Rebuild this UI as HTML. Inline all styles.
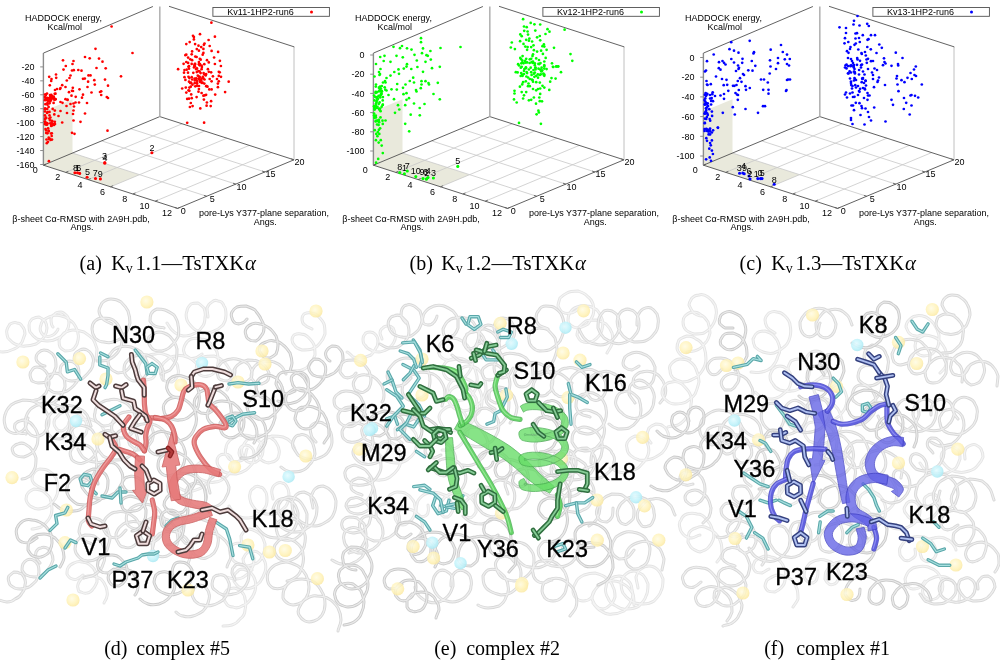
<!DOCTYPE html>
<html><head><meta charset="utf-8"><style>
html,body{margin:0;padding:0;background:#fff}
body{width:1000px;height:664px;position:relative;overflow:hidden}
</style></head><body>
<svg width="1000" height="664" viewBox="0 0 1000 664" style="position:absolute;left:0;top:0">
<g style="font-family:'Liberation Sans',Arial,sans-serif">
<polygon points="43.40,165.20 110.50,186.80 139.60,174.65 72.50,153.05" fill="#e9e9dc" />
<polygon points="43.40,165.20 72.50,153.05 72.50,99.20 43.40,111.35" fill="#e9e9dc" />
<line x1="65.77" y1="172.40" x2="182.17" y2="123.80" stroke="#c8c8c8" stroke-width="0.8" />
<line x1="88.13" y1="179.60" x2="204.53" y2="131.00" stroke="#c8c8c8" stroke-width="0.8" />
<line x1="110.50" y1="186.80" x2="226.90" y2="138.20" stroke="#c8c8c8" stroke-width="0.8" />
<line x1="132.87" y1="194.00" x2="249.27" y2="145.40" stroke="#c8c8c8" stroke-width="0.8" />
<line x1="155.23" y1="201.20" x2="271.63" y2="152.60" stroke="#c8c8c8" stroke-width="0.8" />
<line x1="72.50" y1="153.05" x2="206.70" y2="196.25" stroke="#c8c8c8" stroke-width="0.8" />
<line x1="101.60" y1="140.90" x2="235.80" y2="184.10" stroke="#c8c8c8" stroke-width="0.8" />
<line x1="130.70" y1="128.75" x2="264.90" y2="171.95" stroke="#c8c8c8" stroke-width="0.8" />
<line x1="43.40" y1="165.20" x2="177.60" y2="208.40" stroke="#505050" stroke-width="0.9" />
<line x1="177.60" y1="208.40" x2="294.00" y2="159.80" stroke="#505050" stroke-width="0.9" />
<line x1="294.00" y1="159.80" x2="159.80" y2="116.60" stroke="#505050" stroke-width="0.9" />
<line x1="159.80" y1="116.60" x2="43.40" y2="165.20" stroke="#505050" stroke-width="0.9" />
<line x1="43.40" y1="53.10" x2="43.40" y2="165.20" stroke="#8c8c8c" stroke-width="1.4" />
<line x1="159.80" y1="6.60" x2="159.80" y2="116.60" stroke="#b4b4b4" stroke-width="1.6" />
<line x1="294.00" y1="46.90" x2="294.00" y2="159.80" stroke="#c0c0c0" stroke-width="1.0" />
<line x1="43.40" y1="53.10" x2="152.90" y2="6.50" stroke="#505050" stroke-width="0.9" />
<line x1="169.00" y1="6.30" x2="294.30" y2="46.90" stroke="#505050" stroke-width="0.9" />
<line x1="40.20" y1="164.48" x2="43.40" y2="164.48" stroke="#8c8c8c" stroke-width="1" />
<text x="34.60" y="167.68" font-size="9" text-anchor="end" fill="#000" >-160</text>
<line x1="40.20" y1="150.54" x2="43.40" y2="150.54" stroke="#8c8c8c" stroke-width="1" />
<text x="34.60" y="153.74" font-size="9" text-anchor="end" fill="#000" >-140</text>
<line x1="40.20" y1="136.60" x2="43.40" y2="136.60" stroke="#8c8c8c" stroke-width="1" />
<text x="34.60" y="139.80" font-size="9" text-anchor="end" fill="#000" >-120</text>
<line x1="40.20" y1="122.66" x2="43.40" y2="122.66" stroke="#8c8c8c" stroke-width="1" />
<text x="34.60" y="125.86" font-size="9" text-anchor="end" fill="#000" >-100</text>
<line x1="40.20" y1="108.72" x2="43.40" y2="108.72" stroke="#8c8c8c" stroke-width="1" />
<text x="34.60" y="111.92" font-size="9" text-anchor="end" fill="#000" >-80</text>
<line x1="40.20" y1="94.78" x2="43.40" y2="94.78" stroke="#8c8c8c" stroke-width="1" />
<text x="34.60" y="97.98" font-size="9" text-anchor="end" fill="#000" >-60</text>
<line x1="40.20" y1="80.84" x2="43.40" y2="80.84" stroke="#8c8c8c" stroke-width="1" />
<text x="34.60" y="84.04" font-size="9" text-anchor="end" fill="#000" >-40</text>
<line x1="40.20" y1="66.90" x2="43.40" y2="66.90" stroke="#8c8c8c" stroke-width="1" />
<text x="34.60" y="70.10" font-size="9" text-anchor="end" fill="#000" >-20</text>
<text x="37.80" y="173.10" font-size="9" text-anchor="end" fill="#000" >0</text>
<line x1="43.40" y1="165.20" x2="46.02" y2="164.11" stroke="#505050" stroke-width="0.8" />
<text x="60.17" y="180.30" font-size="9" text-anchor="end" fill="#000" >2</text>
<line x1="65.77" y1="172.40" x2="68.39" y2="171.31" stroke="#505050" stroke-width="0.8" />
<text x="82.53" y="187.50" font-size="9" text-anchor="end" fill="#000" >4</text>
<line x1="88.13" y1="179.60" x2="90.75" y2="178.51" stroke="#505050" stroke-width="0.8" />
<text x="104.90" y="194.70" font-size="9" text-anchor="end" fill="#000" >6</text>
<line x1="110.50" y1="186.80" x2="113.12" y2="185.71" stroke="#505050" stroke-width="0.8" />
<text x="127.27" y="201.90" font-size="9" text-anchor="end" fill="#000" >8</text>
<line x1="132.87" y1="194.00" x2="135.49" y2="192.91" stroke="#505050" stroke-width="0.8" />
<text x="149.63" y="209.10" font-size="9" text-anchor="end" fill="#000" >10</text>
<line x1="155.23" y1="201.20" x2="157.85" y2="200.11" stroke="#505050" stroke-width="0.8" />
<text x="172.00" y="216.30" font-size="9" text-anchor="end" fill="#000" >12</text>
<line x1="177.60" y1="208.40" x2="180.22" y2="207.31" stroke="#505050" stroke-width="0.8" />
<text x="183.20" y="213.80" font-size="9" text-anchor="middle" fill="#000" >0</text>
<line x1="177.60" y1="208.40" x2="174.80" y2="207.50" stroke="#505050" stroke-width="0.8" />
<text x="212.30" y="201.65" font-size="9" text-anchor="middle" fill="#000" >5</text>
<line x1="206.70" y1="196.25" x2="203.90" y2="195.35" stroke="#505050" stroke-width="0.8" />
<text x="241.40" y="189.50" font-size="9" text-anchor="middle" fill="#000" >10</text>
<line x1="235.80" y1="184.10" x2="233.00" y2="183.20" stroke="#505050" stroke-width="0.8" />
<text x="270.50" y="177.35" font-size="9" text-anchor="middle" fill="#000" >15</text>
<line x1="264.90" y1="171.95" x2="262.10" y2="171.05" stroke="#505050" stroke-width="0.8" />
<text x="299.60" y="165.20" font-size="9" text-anchor="middle" fill="#000" >20</text>
<line x1="294.00" y1="159.80" x2="291.20" y2="158.90" stroke="#505050" stroke-width="0.8" />
<text x="63.50" y="20.60" font-size="9" text-anchor="middle" fill="#000" >HADDOCK energy,</text>
<text x="64.80" y="29.80" font-size="9" text-anchor="middle" fill="#000" >Kcal/mol</text>
<text x="81.00" y="221.60" font-size="9" text-anchor="middle" fill="#000" >β-sheet Cα-RMSD with 2A9H.pdb,</text>
<text x="82.00" y="229.90" font-size="9" text-anchor="middle" fill="#000" >Angs.</text>
<text x="264.00" y="216.30" font-size="9" text-anchor="middle" fill="#000" >pore-Lys Y377-plane separation,</text>
<text x="265.20" y="224.80" font-size="9" text-anchor="middle" fill="#000" >Angs.</text>
<rect x="212.9" y="7.5" width="116.5" height="8.8" fill="#fff" stroke="#505050" stroke-width="0.9"/>
<text x="260.50" y="14.80" font-size="9" text-anchor="middle" fill="#000" >Kv11-1HP2-run6</text>
<circle cx="311.5" cy="12" r="1.5" fill="#ff0000"/>
<circle cx="111.6" cy="26.5" r="1.35" fill="#ff0000"/>
<circle cx="95.5" cy="48.8" r="1.35" fill="#ff0000"/>
<circle cx="132.5" cy="53.0" r="1.35" fill="#ff0000"/>
<circle cx="85.0" cy="57.0" r="1.35" fill="#ff0000"/>
<circle cx="89.7" cy="58.3" r="1.35" fill="#ff0000"/>
<circle cx="99.0" cy="58.6" r="1.35" fill="#ff0000"/>
<circle cx="102.5" cy="61.7" r="1.35" fill="#ff0000"/>
<circle cx="63.0" cy="60.3" r="1.35" fill="#ff0000"/>
<circle cx="73.5" cy="61.0" r="1.35" fill="#ff0000"/>
<circle cx="72.5" cy="64.0" r="1.35" fill="#ff0000"/>
<circle cx="65.8" cy="66.0" r="1.35" fill="#ff0000"/>
<circle cx="63.5" cy="69.6" r="1.35" fill="#ff0000"/>
<circle cx="72.0" cy="70.5" r="1.35" fill="#ff0000"/>
<circle cx="73.8" cy="70.2" r="1.35" fill="#ff0000"/>
<circle cx="78.3" cy="70.0" r="1.35" fill="#ff0000"/>
<circle cx="81.5" cy="70.7" r="1.35" fill="#ff0000"/>
<circle cx="96.5" cy="68.0" r="1.35" fill="#ff0000"/>
<circle cx="105.7" cy="68.3" r="1.35" fill="#ff0000"/>
<circle cx="121.0" cy="76.3" r="1.35" fill="#ff0000"/>
<circle cx="56.0" cy="74.5" r="1.35" fill="#ff0000"/>
<circle cx="49.2" cy="76.8" r="1.35" fill="#ff0000"/>
<circle cx="56.2" cy="77.8" r="1.35" fill="#ff0000"/>
<circle cx="51.5" cy="79.0" r="1.35" fill="#ff0000"/>
<circle cx="51.2" cy="81.0" r="1.35" fill="#ff0000"/>
<circle cx="70.5" cy="75.5" r="1.35" fill="#ff0000"/>
<circle cx="69.5" cy="78.0" r="1.35" fill="#ff0000"/>
<circle cx="66.8" cy="80.5" r="1.35" fill="#ff0000"/>
<circle cx="83.0" cy="78.8" r="1.35" fill="#ff0000"/>
<circle cx="84.8" cy="78.6" r="1.35" fill="#ff0000"/>
<circle cx="88.5" cy="75.4" r="1.35" fill="#ff0000"/>
<circle cx="90.5" cy="75.4" r="1.35" fill="#ff0000"/>
<circle cx="88.1" cy="81.7" r="1.35" fill="#ff0000"/>
<circle cx="94.3" cy="80.2" r="1.35" fill="#ff0000"/>
<circle cx="105.0" cy="79.6" r="1.35" fill="#ff0000"/>
<circle cx="49.8" cy="85.3" r="1.35" fill="#ff0000"/>
<circle cx="62.2" cy="85.2" r="1.35" fill="#ff0000"/>
<circle cx="65.5" cy="87.0" r="1.35" fill="#ff0000"/>
<circle cx="60.5" cy="88.0" r="1.35" fill="#ff0000"/>
<circle cx="60.0" cy="89.0" r="1.35" fill="#ff0000"/>
<circle cx="55.0" cy="90.0" r="1.35" fill="#ff0000"/>
<circle cx="57.0" cy="89.0" r="1.35" fill="#ff0000"/>
<circle cx="55.5" cy="93.7" r="1.35" fill="#ff0000"/>
<circle cx="94.8" cy="84.6" r="1.35" fill="#ff0000"/>
<circle cx="108.0" cy="85.7" r="1.35" fill="#ff0000"/>
<circle cx="87.5" cy="87.0" r="1.35" fill="#ff0000"/>
<circle cx="72.8" cy="87.8" r="1.35" fill="#ff0000"/>
<circle cx="79.5" cy="89.3" r="1.35" fill="#ff0000"/>
<circle cx="72.0" cy="90.8" r="1.35" fill="#ff0000"/>
<circle cx="73.0" cy="91.0" r="1.35" fill="#ff0000"/>
<circle cx="69.0" cy="92.2" r="1.35" fill="#ff0000"/>
<circle cx="91.5" cy="92.5" r="1.35" fill="#ff0000"/>
<circle cx="100.0" cy="92.0" r="1.35" fill="#ff0000"/>
<circle cx="101.2" cy="91.3" r="1.35" fill="#ff0000"/>
<circle cx="101.2" cy="95.0" r="1.35" fill="#ff0000"/>
<circle cx="83.0" cy="94.7" r="1.35" fill="#ff0000"/>
<circle cx="82.0" cy="97.7" r="1.35" fill="#ff0000"/>
<circle cx="75.7" cy="96.8" r="1.35" fill="#ff0000"/>
<circle cx="71.5" cy="95.7" r="1.35" fill="#ff0000"/>
<circle cx="106.8" cy="97.0" r="1.35" fill="#ff0000"/>
<circle cx="108.0" cy="98.0" r="1.35" fill="#ff0000"/>
<circle cx="47.0" cy="93.5" r="1.35" fill="#ff0000"/>
<circle cx="50.0" cy="95.0" r="1.35" fill="#ff0000"/>
<circle cx="52.0" cy="96.0" r="1.35" fill="#ff0000"/>
<circle cx="51.0" cy="97.5" r="1.35" fill="#ff0000"/>
<circle cx="49.0" cy="98.0" r="1.35" fill="#ff0000"/>
<circle cx="45.0" cy="97.0" r="1.35" fill="#ff0000"/>
<circle cx="47.5" cy="99.0" r="1.35" fill="#ff0000"/>
<circle cx="53.0" cy="98.0" r="1.35" fill="#ff0000"/>
<circle cx="65.5" cy="99.2" r="1.35" fill="#ff0000"/>
<circle cx="67.5" cy="99.5" r="1.35" fill="#ff0000"/>
<circle cx="87.0" cy="103.0" r="1.35" fill="#ff0000"/>
<circle cx="79.0" cy="102.5" r="1.35" fill="#ff0000"/>
<circle cx="75.5" cy="102.5" r="1.35" fill="#ff0000"/>
<circle cx="73.5" cy="103.5" r="1.35" fill="#ff0000"/>
<circle cx="70.5" cy="104.0" r="1.35" fill="#ff0000"/>
<circle cx="67.5" cy="100.0" r="1.35" fill="#ff0000"/>
<circle cx="66.5" cy="106.0" r="1.35" fill="#ff0000"/>
<circle cx="60.5" cy="102.0" r="1.35" fill="#ff0000"/>
<circle cx="62.5" cy="102.8" r="1.35" fill="#ff0000"/>
<circle cx="74.0" cy="106.5" r="1.35" fill="#ff0000"/>
<circle cx="73.5" cy="110.5" r="1.35" fill="#ff0000"/>
<circle cx="73.0" cy="114.0" r="1.35" fill="#ff0000"/>
<circle cx="67.0" cy="113.0" r="1.35" fill="#ff0000"/>
<circle cx="60.5" cy="111.0" r="1.35" fill="#ff0000"/>
<circle cx="58.5" cy="116.0" r="1.35" fill="#ff0000"/>
<circle cx="85.0" cy="113.5" r="1.35" fill="#ff0000"/>
<circle cx="73.5" cy="120.5" r="1.35" fill="#ff0000"/>
<circle cx="80.5" cy="121.8" r="1.35" fill="#ff0000"/>
<circle cx="62.2" cy="122.5" r="1.35" fill="#ff0000"/>
<circle cx="72.0" cy="132.8" r="1.35" fill="#ff0000"/>
<circle cx="74.5" cy="133.8" r="1.35" fill="#ff0000"/>
<circle cx="107.5" cy="130.7" r="1.35" fill="#ff0000"/>
<circle cx="55.0" cy="124.0" r="1.35" fill="#ff0000"/>
<circle cx="54.0" cy="125.0" r="1.35" fill="#ff0000"/>
<circle cx="52.0" cy="125.5" r="1.35" fill="#ff0000"/>
<circle cx="51.0" cy="133.5" r="1.35" fill="#ff0000"/>
<circle cx="49.0" cy="139.0" r="1.35" fill="#ff0000"/>
<circle cx="46.8" cy="143.2" r="1.35" fill="#ff0000"/>
<circle cx="45.5" cy="129.0" r="1.35" fill="#ff0000"/>
<circle cx="45.0" cy="121.5" r="1.35" fill="#ff0000"/>
<circle cx="45.0" cy="111.5" r="1.35" fill="#ff0000"/>
<circle cx="48.9" cy="161.2" r="1.35" fill="#ff0000"/>
<circle cx="50.4" cy="117.5" r="1.35" fill="#ff0000"/>
<circle cx="52.4" cy="124.1" r="1.35" fill="#ff0000"/>
<circle cx="51.8" cy="123.4" r="1.35" fill="#ff0000"/>
<circle cx="45.1" cy="108.4" r="1.35" fill="#ff0000"/>
<circle cx="54.3" cy="114.4" r="1.35" fill="#ff0000"/>
<circle cx="53.7" cy="96.7" r="1.35" fill="#ff0000"/>
<circle cx="48.7" cy="101.1" r="1.35" fill="#ff0000"/>
<circle cx="49.5" cy="111.9" r="1.35" fill="#ff0000"/>
<circle cx="45.0" cy="100.2" r="1.35" fill="#ff0000"/>
<circle cx="46.9" cy="123.2" r="1.35" fill="#ff0000"/>
<circle cx="52.1" cy="98.3" r="1.35" fill="#ff0000"/>
<circle cx="52.4" cy="97.6" r="1.35" fill="#ff0000"/>
<circle cx="50.3" cy="97.2" r="1.35" fill="#ff0000"/>
<circle cx="45.0" cy="121.8" r="1.35" fill="#ff0000"/>
<circle cx="46.3" cy="100.1" r="1.35" fill="#ff0000"/>
<circle cx="54.8" cy="121.8" r="1.35" fill="#ff0000"/>
<circle cx="47.0" cy="124.7" r="1.35" fill="#ff0000"/>
<circle cx="49.5" cy="115.4" r="1.35" fill="#ff0000"/>
<circle cx="46.3" cy="124.1" r="1.35" fill="#ff0000"/>
<circle cx="51.2" cy="124.9" r="1.35" fill="#ff0000"/>
<circle cx="53.6" cy="102.9" r="1.35" fill="#ff0000"/>
<circle cx="47.7" cy="98.5" r="1.35" fill="#ff0000"/>
<circle cx="45.8" cy="95.1" r="1.35" fill="#ff0000"/>
<circle cx="47.1" cy="112.9" r="1.35" fill="#ff0000"/>
<circle cx="45.0" cy="115.4" r="1.35" fill="#ff0000"/>
<circle cx="47.4" cy="103.2" r="1.35" fill="#ff0000"/>
<circle cx="52.7" cy="108.9" r="1.35" fill="#ff0000"/>
<circle cx="47.2" cy="108.9" r="1.35" fill="#ff0000"/>
<circle cx="51.3" cy="94.9" r="1.35" fill="#ff0000"/>
<circle cx="54.7" cy="93.8" r="1.35" fill="#ff0000"/>
<circle cx="51.9" cy="120.9" r="1.35" fill="#ff0000"/>
<circle cx="45.1" cy="119.0" r="1.35" fill="#ff0000"/>
<circle cx="47.7" cy="112.1" r="1.35" fill="#ff0000"/>
<circle cx="45.0" cy="94.5" r="1.35" fill="#ff0000"/>
<circle cx="46.1" cy="124.5" r="1.35" fill="#ff0000"/>
<circle cx="46.2" cy="117.9" r="1.35" fill="#ff0000"/>
<circle cx="54.1" cy="124.1" r="1.35" fill="#ff0000"/>
<circle cx="47.5" cy="104.7" r="1.35" fill="#ff0000"/>
<circle cx="49.3" cy="118.6" r="1.35" fill="#ff0000"/>
<circle cx="45.6" cy="117.7" r="1.35" fill="#ff0000"/>
<circle cx="52.4" cy="121.4" r="1.35" fill="#ff0000"/>
<circle cx="45.1" cy="124.2" r="1.35" fill="#ff0000"/>
<circle cx="45.4" cy="104.2" r="1.35" fill="#ff0000"/>
<circle cx="50.3" cy="123.3" r="1.35" fill="#ff0000"/>
<circle cx="47.5" cy="123.5" r="1.35" fill="#ff0000"/>
<circle cx="49.5" cy="103.3" r="1.35" fill="#ff0000"/>
<circle cx="47.2" cy="98.9" r="1.35" fill="#ff0000"/>
<circle cx="45.4" cy="97.9" r="1.35" fill="#ff0000"/>
<circle cx="51.2" cy="125.9" r="1.35" fill="#ff0000"/>
<circle cx="45.9" cy="94.6" r="1.35" fill="#ff0000"/>
<circle cx="54.8" cy="110.6" r="1.35" fill="#ff0000"/>
<circle cx="48.1" cy="100.8" r="1.35" fill="#ff0000"/>
<circle cx="50.1" cy="120.3" r="1.35" fill="#ff0000"/>
<circle cx="48.6" cy="106.9" r="1.35" fill="#ff0000"/>
<circle cx="45.2" cy="123.2" r="1.35" fill="#ff0000"/>
<circle cx="45.1" cy="109.3" r="1.35" fill="#ff0000"/>
<circle cx="53.0" cy="97.3" r="1.35" fill="#ff0000"/>
<circle cx="51.7" cy="124.3" r="1.35" fill="#ff0000"/>
<circle cx="49.6" cy="138.6" r="1.35" fill="#ff0000"/>
<circle cx="46.2" cy="133.0" r="1.35" fill="#ff0000"/>
<circle cx="46.5" cy="139.5" r="1.35" fill="#ff0000"/>
<circle cx="47.4" cy="133.3" r="1.35" fill="#ff0000"/>
<circle cx="52.0" cy="139.6" r="1.35" fill="#ff0000"/>
<circle cx="51.8" cy="133.3" r="1.35" fill="#ff0000"/>
<circle cx="48.7" cy="137.7" r="1.35" fill="#ff0000"/>
<circle cx="48.6" cy="130.7" r="1.35" fill="#ff0000"/>
<circle cx="48.1" cy="128.3" r="1.35" fill="#ff0000"/>
<circle cx="48.0" cy="141.8" r="1.35" fill="#ff0000"/>
<circle cx="51.7" cy="136.0" r="1.35" fill="#ff0000"/>
<circle cx="48.7" cy="131.4" r="1.35" fill="#ff0000"/>
<circle cx="46.1" cy="130.4" r="1.35" fill="#ff0000"/>
<circle cx="50.6" cy="139.9" r="1.35" fill="#ff0000"/>
<circle cx="51.0" cy="100.1" r="1.35" fill="#ff0000"/>
<circle cx="55.5" cy="99.3" r="1.35" fill="#ff0000"/>
<circle cx="54.3" cy="99.8" r="1.35" fill="#ff0000"/>
<circle cx="51.0" cy="99.3" r="1.35" fill="#ff0000"/>
<circle cx="50.1" cy="97.4" r="1.35" fill="#ff0000"/>
<circle cx="55.5" cy="99.2" r="1.35" fill="#ff0000"/>
<circle cx="50.2" cy="101.5" r="1.35" fill="#ff0000"/>
<circle cx="54.1" cy="98.2" r="1.35" fill="#ff0000"/>
<circle cx="47.1" cy="97.9" r="1.35" fill="#ff0000"/>
<circle cx="49.8" cy="99.0" r="1.35" fill="#ff0000"/>
<circle cx="211.4" cy="22.7" r="1.35" fill="#ff0000"/>
<circle cx="200.0" cy="34.2" r="1.35" fill="#ff0000"/>
<circle cx="214.9" cy="36.7" r="1.35" fill="#ff0000"/>
<circle cx="193.0" cy="35.8" r="1.35" fill="#ff0000"/>
<circle cx="193.9" cy="37.1" r="1.35" fill="#ff0000"/>
<circle cx="193.9" cy="39.4" r="1.35" fill="#ff0000"/>
<circle cx="208.6" cy="40.0" r="1.35" fill="#ff0000"/>
<circle cx="189.7" cy="42.1" r="1.35" fill="#ff0000"/>
<circle cx="186.3" cy="44.1" r="1.35" fill="#ff0000"/>
<circle cx="195.1" cy="44.1" r="1.35" fill="#ff0000"/>
<circle cx="204.5" cy="43.5" r="1.35" fill="#ff0000"/>
<circle cx="203.9" cy="44.8" r="1.35" fill="#ff0000"/>
<circle cx="198.5" cy="45.7" r="1.35" fill="#ff0000"/>
<circle cx="201.2" cy="47.1" r="1.35" fill="#ff0000"/>
<circle cx="203.4" cy="48.9" r="1.35" fill="#ff0000"/>
<circle cx="196.8" cy="49.1" r="1.35" fill="#ff0000"/>
<circle cx="198.9" cy="50.7" r="1.35" fill="#ff0000"/>
<circle cx="209.7" cy="46.0" r="1.35" fill="#ff0000"/>
<circle cx="211.6" cy="50.9" r="1.35" fill="#ff0000"/>
<circle cx="218.1" cy="51.9" r="1.35" fill="#ff0000"/>
<circle cx="192.1" cy="51.4" r="1.35" fill="#ff0000"/>
<circle cx="203.4" cy="52.9" r="1.35" fill="#ff0000"/>
<circle cx="202.7" cy="54.7" r="1.35" fill="#ff0000"/>
<circle cx="191.7" cy="54.3" r="1.35" fill="#ff0000"/>
<circle cx="186.3" cy="54.7" r="1.35" fill="#ff0000"/>
<circle cx="185.4" cy="55.2" r="1.35" fill="#ff0000"/>
<circle cx="195.3" cy="56.6" r="1.35" fill="#ff0000"/>
<circle cx="196.6" cy="57.0" r="1.35" fill="#ff0000"/>
<circle cx="188.1" cy="57.6" r="1.35" fill="#ff0000"/>
<circle cx="190.3" cy="59.3" r="1.35" fill="#ff0000"/>
<circle cx="192.1" cy="60.2" r="1.35" fill="#ff0000"/>
<circle cx="199.8" cy="58.8" r="1.35" fill="#ff0000"/>
<circle cx="200.7" cy="59.7" r="1.35" fill="#ff0000"/>
<circle cx="198.9" cy="62.0" r="1.35" fill="#ff0000"/>
<circle cx="207.0" cy="60.2" r="1.35" fill="#ff0000"/>
<circle cx="208.8" cy="62.4" r="1.35" fill="#ff0000"/>
<circle cx="214.1" cy="57.5" r="1.35" fill="#ff0000"/>
<circle cx="219.9" cy="60.8" r="1.35" fill="#ff0000"/>
<circle cx="214.9" cy="64.0" r="1.35" fill="#ff0000"/>
<circle cx="220.9" cy="66.0" r="1.35" fill="#ff0000"/>
<circle cx="183.6" cy="63.8" r="1.35" fill="#ff0000"/>
<circle cx="186.3" cy="62.0" r="1.35" fill="#ff0000"/>
<circle cx="188.1" cy="62.9" r="1.35" fill="#ff0000"/>
<circle cx="194.8" cy="64.2" r="1.35" fill="#ff0000"/>
<circle cx="194.4" cy="65.6" r="1.35" fill="#ff0000"/>
<circle cx="198.9" cy="64.2" r="1.35" fill="#ff0000"/>
<circle cx="201.6" cy="65.6" r="1.35" fill="#ff0000"/>
<circle cx="204.3" cy="64.2" r="1.35" fill="#ff0000"/>
<circle cx="178.1" cy="69.2" r="1.35" fill="#ff0000"/>
<circle cx="184.5" cy="70.1" r="1.35" fill="#ff0000"/>
<circle cx="186.7" cy="69.7" r="1.35" fill="#ff0000"/>
<circle cx="189.0" cy="68.7" r="1.35" fill="#ff0000"/>
<circle cx="196.2" cy="69.2" r="1.35" fill="#ff0000"/>
<circle cx="201.6" cy="69.2" r="1.35" fill="#ff0000"/>
<circle cx="207.9" cy="69.2" r="1.35" fill="#ff0000"/>
<circle cx="184.0" cy="72.7" r="1.35" fill="#ff0000"/>
<circle cx="184.5" cy="77.2" r="1.35" fill="#ff0000"/>
<circle cx="185.4" cy="79.9" r="1.35" fill="#ff0000"/>
<circle cx="188.5" cy="76.8" r="1.35" fill="#ff0000"/>
<circle cx="189.4" cy="78.1" r="1.35" fill="#ff0000"/>
<circle cx="191.7" cy="77.2" r="1.35" fill="#ff0000"/>
<circle cx="189.0" cy="81.7" r="1.35" fill="#ff0000"/>
<circle cx="190.8" cy="82.6" r="1.35" fill="#ff0000"/>
<circle cx="196.2" cy="78.6" r="1.35" fill="#ff0000"/>
<circle cx="197.1" cy="80.8" r="1.35" fill="#ff0000"/>
<circle cx="198.9" cy="79.0" r="1.35" fill="#ff0000"/>
<circle cx="200.7" cy="79.9" r="1.35" fill="#ff0000"/>
<circle cx="201.6" cy="78.6" r="1.35" fill="#ff0000"/>
<circle cx="194.8" cy="80.4" r="1.35" fill="#ff0000"/>
<circle cx="197.1" cy="83.6" r="1.35" fill="#ff0000"/>
<circle cx="202.5" cy="82.6" r="1.35" fill="#ff0000"/>
<circle cx="204.3" cy="83.6" r="1.35" fill="#ff0000"/>
<circle cx="197.1" cy="85.8" r="1.35" fill="#ff0000"/>
<circle cx="195.3" cy="86.3" r="1.35" fill="#ff0000"/>
<circle cx="190.8" cy="86.7" r="1.35" fill="#ff0000"/>
<circle cx="189.4" cy="87.6" r="1.35" fill="#ff0000"/>
<circle cx="188.5" cy="90.3" r="1.35" fill="#ff0000"/>
<circle cx="189.4" cy="90.8" r="1.35" fill="#ff0000"/>
<circle cx="186.3" cy="92.6" r="1.35" fill="#ff0000"/>
<circle cx="185.8" cy="87.6" r="1.35" fill="#ff0000"/>
<circle cx="182.2" cy="88.5" r="1.35" fill="#ff0000"/>
<circle cx="204.3" cy="74.5" r="1.35" fill="#ff0000"/>
<circle cx="205.7" cy="75.4" r="1.35" fill="#ff0000"/>
<circle cx="206.1" cy="74.1" r="1.35" fill="#ff0000"/>
<circle cx="209.7" cy="79.0" r="1.35" fill="#ff0000"/>
<circle cx="211.6" cy="81.3" r="1.35" fill="#ff0000"/>
<circle cx="208.8" cy="71.8" r="1.35" fill="#ff0000"/>
<circle cx="211.1" cy="72.3" r="1.35" fill="#ff0000"/>
<circle cx="212.9" cy="76.3" r="1.35" fill="#ff0000"/>
<circle cx="217.0" cy="79.0" r="1.35" fill="#ff0000"/>
<circle cx="218.8" cy="81.3" r="1.35" fill="#ff0000"/>
<circle cx="217.9" cy="83.6" r="1.35" fill="#ff0000"/>
<circle cx="217.9" cy="87.2" r="1.35" fill="#ff0000"/>
<circle cx="218.8" cy="71.8" r="1.35" fill="#ff0000"/>
<circle cx="219.7" cy="72.3" r="1.35" fill="#ff0000"/>
<circle cx="218.8" cy="75.9" r="1.35" fill="#ff0000"/>
<circle cx="221.0" cy="76.8" r="1.35" fill="#ff0000"/>
<circle cx="228.7" cy="81.7" r="1.35" fill="#ff0000"/>
<circle cx="207.5" cy="86.7" r="1.35" fill="#ff0000"/>
<circle cx="209.3" cy="89.4" r="1.35" fill="#ff0000"/>
<circle cx="211.6" cy="89.4" r="1.35" fill="#ff0000"/>
<circle cx="198.9" cy="89.0" r="1.35" fill="#ff0000"/>
<circle cx="198.5" cy="91.7" r="1.35" fill="#ff0000"/>
<circle cx="201.6" cy="93.0" r="1.35" fill="#ff0000"/>
<circle cx="203.4" cy="95.7" r="1.35" fill="#ff0000"/>
<circle cx="204.8" cy="95.3" r="1.35" fill="#ff0000"/>
<circle cx="206.1" cy="94.8" r="1.35" fill="#ff0000"/>
<circle cx="191.2" cy="94.4" r="1.35" fill="#ff0000"/>
<circle cx="196.6" cy="97.1" r="1.35" fill="#ff0000"/>
<circle cx="215.2" cy="94.6" r="1.35" fill="#ff0000"/>
<circle cx="225.1" cy="92.1" r="1.35" fill="#ff0000"/>
<circle cx="187.2" cy="98.9" r="1.35" fill="#ff0000"/>
<circle cx="189.0" cy="98.7" r="1.35" fill="#ff0000"/>
<circle cx="191.7" cy="98.2" r="1.35" fill="#ff0000"/>
<circle cx="203.9" cy="99.6" r="1.35" fill="#ff0000"/>
<circle cx="211.1" cy="101.2" r="1.35" fill="#ff0000"/>
<circle cx="206.9" cy="102.5" r="1.35" fill="#ff0000"/>
<circle cx="190.8" cy="103.0" r="1.35" fill="#ff0000"/>
<circle cx="192.6" cy="106.1" r="1.35" fill="#ff0000"/>
<circle cx="189.9" cy="107.0" r="1.35" fill="#ff0000"/>
<circle cx="206.6" cy="105.7" r="1.35" fill="#ff0000"/>
<circle cx="210.7" cy="106.1" r="1.35" fill="#ff0000"/>
<circle cx="200.3" cy="108.4" r="1.35" fill="#ff0000"/>
<circle cx="187.2" cy="122.8" r="1.35" fill="#ff0000"/>
<circle cx="204.1" cy="122.7" r="1.35" fill="#ff0000"/>
<circle cx="196.8" cy="82.6" r="1.35" fill="#ff0000"/>
<circle cx="200.3" cy="82.1" r="1.35" fill="#ff0000"/>
<circle cx="194.6" cy="78.5" r="1.35" fill="#ff0000"/>
<circle cx="202.0" cy="82.9" r="1.35" fill="#ff0000"/>
<circle cx="194.7" cy="83.2" r="1.35" fill="#ff0000"/>
<circle cx="204.5" cy="79.5" r="1.35" fill="#ff0000"/>
<circle cx="206.5" cy="86.0" r="1.35" fill="#ff0000"/>
<circle cx="197.8" cy="75.7" r="1.35" fill="#ff0000"/>
<circle cx="191.2" cy="83.1" r="1.35" fill="#ff0000"/>
<circle cx="205.8" cy="74.5" r="1.35" fill="#ff0000"/>
<circle cx="201.1" cy="80.3" r="1.35" fill="#ff0000"/>
<circle cx="201.9" cy="67.1" r="1.35" fill="#ff0000"/>
<circle cx="202.8" cy="76.9" r="1.35" fill="#ff0000"/>
<circle cx="200.6" cy="73.1" r="1.35" fill="#ff0000"/>
<circle cx="199.9" cy="81.6" r="1.35" fill="#ff0000"/>
<circle cx="200.1" cy="80.3" r="1.35" fill="#ff0000"/>
<circle cx="188.5" cy="66.8" r="1.35" fill="#ff0000"/>
<circle cx="196.4" cy="78.6" r="1.35" fill="#ff0000"/>
<circle cx="192.2" cy="79.5" r="1.35" fill="#ff0000"/>
<circle cx="200.0" cy="64.0" r="1.35" fill="#ff0000"/>
<circle cx="197.0" cy="68.4" r="1.35" fill="#ff0000"/>
<circle cx="189.0" cy="66.2" r="1.35" fill="#ff0000"/>
<circle cx="194.0" cy="67.4" r="1.35" fill="#ff0000"/>
<circle cx="191.7" cy="63.9" r="1.35" fill="#ff0000"/>
<circle cx="196.8" cy="72.1" r="1.35" fill="#ff0000"/>
<circle cx="199.6" cy="77.2" r="1.35" fill="#ff0000"/>
<circle cx="192.5" cy="84.7" r="1.35" fill="#ff0000"/>
<circle cx="188.0" cy="72.7" r="1.35" fill="#ff0000"/>
<circle cx="193.3" cy="72.8" r="1.35" fill="#ff0000"/>
<circle cx="190.2" cy="83.0" r="1.35" fill="#ff0000"/>
<circle cx="195.1" cy="63.9" r="1.35" fill="#ff0000"/>
<circle cx="199.7" cy="65.3" r="1.35" fill="#ff0000"/>
<circle cx="198.4" cy="71.1" r="1.35" fill="#ff0000"/>
<circle cx="199.0" cy="86.0" r="1.35" fill="#ff0000"/>
<circle cx="203.6" cy="73.1" r="1.35" fill="#ff0000"/>
<circle cx="203.4" cy="78.4" r="1.35" fill="#ff0000"/>
<circle cx="195.0" cy="66.4" r="1.35" fill="#ff0000"/>
<circle cx="199.3" cy="76.5" r="1.35" fill="#ff0000"/>
<circle cx="206.2" cy="86.2" r="1.35" fill="#ff0000"/>
<circle cx="199.6" cy="71.4" r="1.35" fill="#ff0000"/>
<circle cx="104.8" cy="162.9" r="1.55" fill="#ff0000"/>
<text x="104.90" y="161.40" font-size="9" text-anchor="middle" fill="#000" >4</text>
<circle cx="104.8" cy="162.9" r="1.55" fill="#ff0000"/>
<text x="104.40" y="158.80" font-size="9" text-anchor="middle" fill="#000" >3</text>
<circle cx="151.9" cy="152.7" r="1.55" fill="#ff0000"/>
<text x="151.90" y="151.20" font-size="9" text-anchor="middle" fill="#000" >2</text>
<circle cx="74.9" cy="172.8" r="1.55" fill="#ff0000"/>
<text x="75.50" y="171.00" font-size="9" text-anchor="middle" fill="#000" >8</text>
<circle cx="77.5" cy="172.8" r="1.55" fill="#ff0000"/>
<text x="78.80" y="171.00" font-size="9" text-anchor="middle" fill="#000" >6</text>
<circle cx="79.7" cy="173.4" r="1.55" fill="#ff0000"/>
<text x="77.50" y="171.20" font-size="9" text-anchor="middle" fill="#000" >1</text>
<circle cx="87.1" cy="177.2" r="1.55" fill="#ff0000"/>
<text x="87.50" y="174.80" font-size="9" text-anchor="middle" fill="#000" >5</text>
<circle cx="95.5" cy="178.5" r="1.55" fill="#ff0000"/>
<text x="95.30" y="176.30" font-size="9" text-anchor="middle" fill="#000" >7</text>
<circle cx="100.4" cy="178.9" r="1.55" fill="#ff0000"/>
<text x="100.30" y="176.50" font-size="9" text-anchor="middle" fill="#000" >9</text>
<polygon points="373.40,165.20 440.50,186.80 469.60,174.65 402.50,153.05" fill="#e9e9dc" />
<polygon points="373.40,165.20 402.50,153.05 402.50,99.20 373.40,111.35" fill="#e9e9dc" />
<line x1="395.77" y1="172.40" x2="512.17" y2="123.80" stroke="#c8c8c8" stroke-width="0.8" />
<line x1="418.13" y1="179.60" x2="534.53" y2="131.00" stroke="#c8c8c8" stroke-width="0.8" />
<line x1="440.50" y1="186.80" x2="556.90" y2="138.20" stroke="#c8c8c8" stroke-width="0.8" />
<line x1="462.87" y1="194.00" x2="579.27" y2="145.40" stroke="#c8c8c8" stroke-width="0.8" />
<line x1="485.23" y1="201.20" x2="601.63" y2="152.60" stroke="#c8c8c8" stroke-width="0.8" />
<line x1="402.50" y1="153.05" x2="536.70" y2="196.25" stroke="#c8c8c8" stroke-width="0.8" />
<line x1="431.60" y1="140.90" x2="565.80" y2="184.10" stroke="#c8c8c8" stroke-width="0.8" />
<line x1="460.70" y1="128.75" x2="594.90" y2="171.95" stroke="#c8c8c8" stroke-width="0.8" />
<line x1="373.40" y1="165.20" x2="507.60" y2="208.40" stroke="#505050" stroke-width="0.9" />
<line x1="507.60" y1="208.40" x2="624.00" y2="159.80" stroke="#505050" stroke-width="0.9" />
<line x1="624.00" y1="159.80" x2="489.80" y2="116.60" stroke="#505050" stroke-width="0.9" />
<line x1="489.80" y1="116.60" x2="373.40" y2="165.20" stroke="#505050" stroke-width="0.9" />
<line x1="373.40" y1="53.10" x2="373.40" y2="165.20" stroke="#8c8c8c" stroke-width="1.4" />
<line x1="489.80" y1="6.60" x2="489.80" y2="116.60" stroke="#b4b4b4" stroke-width="1.6" />
<line x1="624.00" y1="46.90" x2="624.00" y2="159.80" stroke="#c0c0c0" stroke-width="1.0" />
<line x1="373.40" y1="53.10" x2="482.90" y2="6.50" stroke="#505050" stroke-width="0.9" />
<line x1="499.00" y1="6.30" x2="624.30" y2="46.90" stroke="#505050" stroke-width="0.9" />
<line x1="370.20" y1="151.00" x2="373.40" y2="151.00" stroke="#8c8c8c" stroke-width="1" />
<text x="364.60" y="154.20" font-size="9" text-anchor="end" fill="#000" >-100</text>
<line x1="370.20" y1="131.80" x2="373.40" y2="131.80" stroke="#8c8c8c" stroke-width="1" />
<text x="364.60" y="135.00" font-size="9" text-anchor="end" fill="#000" >-80</text>
<line x1="370.20" y1="112.60" x2="373.40" y2="112.60" stroke="#8c8c8c" stroke-width="1" />
<text x="364.60" y="115.80" font-size="9" text-anchor="end" fill="#000" >-60</text>
<line x1="370.20" y1="93.40" x2="373.40" y2="93.40" stroke="#8c8c8c" stroke-width="1" />
<text x="364.60" y="96.60" font-size="9" text-anchor="end" fill="#000" >-40</text>
<line x1="370.20" y1="74.20" x2="373.40" y2="74.20" stroke="#8c8c8c" stroke-width="1" />
<text x="364.60" y="77.40" font-size="9" text-anchor="end" fill="#000" >-20</text>
<line x1="370.20" y1="55.00" x2="373.40" y2="55.00" stroke="#8c8c8c" stroke-width="1" />
<text x="364.60" y="58.20" font-size="9" text-anchor="end" fill="#000" >0</text>
<text x="367.80" y="173.10" font-size="9" text-anchor="end" fill="#000" >0</text>
<line x1="373.40" y1="165.20" x2="376.02" y2="164.11" stroke="#505050" stroke-width="0.8" />
<text x="390.17" y="180.30" font-size="9" text-anchor="end" fill="#000" >2</text>
<line x1="395.77" y1="172.40" x2="398.39" y2="171.31" stroke="#505050" stroke-width="0.8" />
<text x="412.53" y="187.50" font-size="9" text-anchor="end" fill="#000" >4</text>
<line x1="418.13" y1="179.60" x2="420.75" y2="178.51" stroke="#505050" stroke-width="0.8" />
<text x="434.90" y="194.70" font-size="9" text-anchor="end" fill="#000" >6</text>
<line x1="440.50" y1="186.80" x2="443.12" y2="185.71" stroke="#505050" stroke-width="0.8" />
<text x="457.27" y="201.90" font-size="9" text-anchor="end" fill="#000" >8</text>
<line x1="462.87" y1="194.00" x2="465.49" y2="192.91" stroke="#505050" stroke-width="0.8" />
<text x="479.63" y="209.10" font-size="9" text-anchor="end" fill="#000" >10</text>
<line x1="485.23" y1="201.20" x2="487.85" y2="200.11" stroke="#505050" stroke-width="0.8" />
<text x="502.00" y="216.30" font-size="9" text-anchor="end" fill="#000" >12</text>
<line x1="507.60" y1="208.40" x2="510.22" y2="207.31" stroke="#505050" stroke-width="0.8" />
<text x="513.20" y="213.80" font-size="9" text-anchor="middle" fill="#000" >0</text>
<line x1="507.60" y1="208.40" x2="504.80" y2="207.50" stroke="#505050" stroke-width="0.8" />
<text x="542.30" y="201.65" font-size="9" text-anchor="middle" fill="#000" >5</text>
<line x1="536.70" y1="196.25" x2="533.90" y2="195.35" stroke="#505050" stroke-width="0.8" />
<text x="571.40" y="189.50" font-size="9" text-anchor="middle" fill="#000" >10</text>
<line x1="565.80" y1="184.10" x2="563.00" y2="183.20" stroke="#505050" stroke-width="0.8" />
<text x="600.50" y="177.35" font-size="9" text-anchor="middle" fill="#000" >15</text>
<line x1="594.90" y1="171.95" x2="592.10" y2="171.05" stroke="#505050" stroke-width="0.8" />
<text x="629.60" y="165.20" font-size="9" text-anchor="middle" fill="#000" >20</text>
<line x1="624.00" y1="159.80" x2="621.20" y2="158.90" stroke="#505050" stroke-width="0.8" />
<text x="393.50" y="20.60" font-size="9" text-anchor="middle" fill="#000" >HADDOCK energy,</text>
<text x="394.80" y="29.80" font-size="9" text-anchor="middle" fill="#000" >Kcal/mol</text>
<text x="411.00" y="221.60" font-size="9" text-anchor="middle" fill="#000" >β-sheet Cα-RMSD with 2A9H.pdb,</text>
<text x="412.00" y="229.90" font-size="9" text-anchor="middle" fill="#000" >Angs.</text>
<text x="594.00" y="216.30" font-size="9" text-anchor="middle" fill="#000" >pore-Lys Y377-plane separation,</text>
<text x="595.20" y="224.80" font-size="9" text-anchor="middle" fill="#000" >Angs.</text>
<rect x="542.9" y="7.5" width="116.5" height="8.8" fill="#fff" stroke="#505050" stroke-width="0.9"/>
<text x="590.50" y="14.80" font-size="9" text-anchor="middle" fill="#000" >Kv12-1HP2-run6</text>
<circle cx="641.5" cy="12" r="1.5" fill="#00ff00"/>
<circle cx="421.0" cy="38.2" r="1.35" fill="#00ff00"/>
<circle cx="421.0" cy="42.2" r="1.35" fill="#00ff00"/>
<circle cx="393.5" cy="46.8" r="1.35" fill="#00ff00"/>
<circle cx="400.0" cy="48.2" r="1.35" fill="#00ff00"/>
<circle cx="402.0" cy="46.0" r="1.35" fill="#00ff00"/>
<circle cx="407.0" cy="48.3" r="1.35" fill="#00ff00"/>
<circle cx="411.5" cy="49.6" r="1.35" fill="#00ff00"/>
<circle cx="423.0" cy="48.4" r="1.35" fill="#00ff00"/>
<circle cx="430.4" cy="51.0" r="1.35" fill="#00ff00"/>
<circle cx="440.5" cy="48.0" r="1.35" fill="#00ff00"/>
<circle cx="460.5" cy="47.0" r="1.35" fill="#00ff00"/>
<circle cx="422.0" cy="53.2" r="1.35" fill="#00ff00"/>
<circle cx="414.5" cy="54.8" r="1.35" fill="#00ff00"/>
<circle cx="396.5" cy="55.8" r="1.35" fill="#00ff00"/>
<circle cx="402.8" cy="57.3" r="1.35" fill="#00ff00"/>
<circle cx="380.2" cy="57.0" r="1.35" fill="#00ff00"/>
<circle cx="384.5" cy="55.8" r="1.35" fill="#00ff00"/>
<circle cx="426.5" cy="55.2" r="1.35" fill="#00ff00"/>
<circle cx="427.8" cy="55.8" r="1.35" fill="#00ff00"/>
<circle cx="383.7" cy="61.0" r="1.35" fill="#00ff00"/>
<circle cx="390.5" cy="61.8" r="1.35" fill="#00ff00"/>
<circle cx="416.8" cy="60.5" r="1.35" fill="#00ff00"/>
<circle cx="425.5" cy="61.8" r="1.35" fill="#00ff00"/>
<circle cx="430.8" cy="59.6" r="1.35" fill="#00ff00"/>
<circle cx="376.0" cy="64.0" r="1.35" fill="#00ff00"/>
<circle cx="407.0" cy="64.2" r="1.35" fill="#00ff00"/>
<circle cx="406.5" cy="66.6" r="1.35" fill="#00ff00"/>
<circle cx="403.8" cy="68.6" r="1.35" fill="#00ff00"/>
<circle cx="398.5" cy="69.4" r="1.35" fill="#00ff00"/>
<circle cx="411.3" cy="69.0" r="1.35" fill="#00ff00"/>
<circle cx="417.4" cy="67.0" r="1.35" fill="#00ff00"/>
<circle cx="432.0" cy="68.2" r="1.35" fill="#00ff00"/>
<circle cx="439.8" cy="66.8" r="1.35" fill="#00ff00"/>
<circle cx="380.5" cy="69.0" r="1.35" fill="#00ff00"/>
<circle cx="379.0" cy="72.0" r="1.35" fill="#00ff00"/>
<circle cx="380.0" cy="74.0" r="1.35" fill="#00ff00"/>
<circle cx="379.5" cy="75.0" r="1.35" fill="#00ff00"/>
<circle cx="394.3" cy="72.0" r="1.35" fill="#00ff00"/>
<circle cx="399.0" cy="73.8" r="1.35" fill="#00ff00"/>
<circle cx="390.5" cy="75.6" r="1.35" fill="#00ff00"/>
<circle cx="423.0" cy="71.8" r="1.35" fill="#00ff00"/>
<circle cx="374.5" cy="76.5" r="1.35" fill="#00ff00"/>
<circle cx="386.5" cy="78.0" r="1.35" fill="#00ff00"/>
<circle cx="413.2" cy="77.7" r="1.35" fill="#00ff00"/>
<circle cx="409.8" cy="81.0" r="1.35" fill="#00ff00"/>
<circle cx="414.0" cy="82.5" r="1.35" fill="#00ff00"/>
<circle cx="421.5" cy="81.2" r="1.35" fill="#00ff00"/>
<circle cx="425.5" cy="81.2" r="1.35" fill="#00ff00"/>
<circle cx="428.5" cy="83.0" r="1.35" fill="#00ff00"/>
<circle cx="429.0" cy="84.5" r="1.35" fill="#00ff00"/>
<circle cx="421.5" cy="84.5" r="1.35" fill="#00ff00"/>
<circle cx="437.8" cy="82.8" r="1.35" fill="#00ff00"/>
<circle cx="385.0" cy="81.0" r="1.35" fill="#00ff00"/>
<circle cx="383.0" cy="82.5" r="1.35" fill="#00ff00"/>
<circle cx="385.5" cy="82.5" r="1.35" fill="#00ff00"/>
<circle cx="397.2" cy="84.0" r="1.35" fill="#00ff00"/>
<circle cx="405.5" cy="84.5" r="1.35" fill="#00ff00"/>
<circle cx="376.0" cy="84.5" r="1.35" fill="#00ff00"/>
<circle cx="380.0" cy="86.5" r="1.35" fill="#00ff00"/>
<circle cx="403.0" cy="87.8" r="1.35" fill="#00ff00"/>
<circle cx="420.8" cy="88.2" r="1.35" fill="#00ff00"/>
<circle cx="416.0" cy="90.0" r="1.35" fill="#00ff00"/>
<circle cx="416.5" cy="91.5" r="1.35" fill="#00ff00"/>
<circle cx="386.5" cy="90.5" r="1.35" fill="#00ff00"/>
<circle cx="391.5" cy="89.3" r="1.35" fill="#00ff00"/>
<circle cx="396.8" cy="89.6" r="1.35" fill="#00ff00"/>
<circle cx="388.5" cy="95.0" r="1.35" fill="#00ff00"/>
<circle cx="406.5" cy="93.2" r="1.35" fill="#00ff00"/>
<circle cx="403.5" cy="94.2" r="1.35" fill="#00ff00"/>
<circle cx="409.0" cy="98.2" r="1.35" fill="#00ff00"/>
<circle cx="406.5" cy="99.8" r="1.35" fill="#00ff00"/>
<circle cx="394.0" cy="99.2" r="1.35" fill="#00ff00"/>
<circle cx="433.5" cy="94.0" r="1.35" fill="#00ff00"/>
<circle cx="439.8" cy="99.3" r="1.35" fill="#00ff00"/>
<circle cx="414.0" cy="103.5" r="1.35" fill="#00ff00"/>
<circle cx="424.5" cy="104.0" r="1.35" fill="#00ff00"/>
<circle cx="398.0" cy="105.2" r="1.35" fill="#00ff00"/>
<circle cx="405.2" cy="105.2" r="1.35" fill="#00ff00"/>
<circle cx="419.7" cy="108.0" r="1.35" fill="#00ff00"/>
<circle cx="399.3" cy="109.5" r="1.35" fill="#00ff00"/>
<circle cx="395.0" cy="112.8" r="1.35" fill="#00ff00"/>
<circle cx="410.7" cy="114.7" r="1.35" fill="#00ff00"/>
<circle cx="419.8" cy="115.3" r="1.35" fill="#00ff00"/>
<circle cx="385.5" cy="120.5" r="1.35" fill="#00ff00"/>
<circle cx="405.2" cy="123.8" r="1.35" fill="#00ff00"/>
<circle cx="409.2" cy="131.3" r="1.35" fill="#00ff00"/>
<circle cx="377.0" cy="124.5" r="1.35" fill="#00ff00"/>
<circle cx="378.6" cy="124.9" r="1.35" fill="#00ff00"/>
<circle cx="380.1" cy="128.3" r="1.35" fill="#00ff00"/>
<circle cx="374.8" cy="130.2" r="1.35" fill="#00ff00"/>
<circle cx="378.9" cy="129.8" r="1.35" fill="#00ff00"/>
<circle cx="377.8" cy="132.0" r="1.35" fill="#00ff00"/>
<circle cx="376.3" cy="133.9" r="1.35" fill="#00ff00"/>
<circle cx="379.3" cy="133.9" r="1.35" fill="#00ff00"/>
<circle cx="377.4" cy="136.2" r="1.35" fill="#00ff00"/>
<circle cx="375.9" cy="140.2" r="1.35" fill="#00ff00"/>
<circle cx="380.8" cy="140.2" r="1.35" fill="#00ff00"/>
<circle cx="378.7" cy="142.6" r="1.35" fill="#00ff00"/>
<circle cx="381.7" cy="145.6" r="1.35" fill="#00ff00"/>
<circle cx="382.8" cy="153.1" r="1.35" fill="#00ff00"/>
<circle cx="378.2" cy="158.9" r="1.35" fill="#00ff00"/>
<circle cx="376.1" cy="162.7" r="1.35" fill="#00ff00"/>
<circle cx="381.8" cy="86.0" r="1.35" fill="#00ff00"/>
<circle cx="374.5" cy="107.5" r="1.35" fill="#00ff00"/>
<circle cx="378.8" cy="91.3" r="1.35" fill="#00ff00"/>
<circle cx="378.9" cy="119.9" r="1.35" fill="#00ff00"/>
<circle cx="376.5" cy="102.4" r="1.35" fill="#00ff00"/>
<circle cx="375.3" cy="97.1" r="1.35" fill="#00ff00"/>
<circle cx="382.7" cy="100.4" r="1.35" fill="#00ff00"/>
<circle cx="382.5" cy="120.7" r="1.35" fill="#00ff00"/>
<circle cx="378.6" cy="95.9" r="1.35" fill="#00ff00"/>
<circle cx="382.8" cy="104.9" r="1.35" fill="#00ff00"/>
<circle cx="376.9" cy="98.1" r="1.35" fill="#00ff00"/>
<circle cx="382.8" cy="104.7" r="1.35" fill="#00ff00"/>
<circle cx="375.8" cy="104.1" r="1.35" fill="#00ff00"/>
<circle cx="374.6" cy="109.6" r="1.35" fill="#00ff00"/>
<circle cx="377.1" cy="97.1" r="1.35" fill="#00ff00"/>
<circle cx="380.5" cy="117.4" r="1.35" fill="#00ff00"/>
<circle cx="374.0" cy="106.2" r="1.35" fill="#00ff00"/>
<circle cx="375.7" cy="121.5" r="1.35" fill="#00ff00"/>
<circle cx="380.5" cy="95.3" r="1.35" fill="#00ff00"/>
<circle cx="375.6" cy="91.9" r="1.35" fill="#00ff00"/>
<circle cx="382.9" cy="97.1" r="1.35" fill="#00ff00"/>
<circle cx="378.7" cy="104.0" r="1.35" fill="#00ff00"/>
<circle cx="379.1" cy="108.9" r="1.35" fill="#00ff00"/>
<circle cx="380.1" cy="90.5" r="1.35" fill="#00ff00"/>
<circle cx="380.3" cy="97.4" r="1.35" fill="#00ff00"/>
<circle cx="378.0" cy="98.8" r="1.35" fill="#00ff00"/>
<circle cx="375.9" cy="106.1" r="1.35" fill="#00ff00"/>
<circle cx="377.3" cy="99.7" r="1.35" fill="#00ff00"/>
<circle cx="380.1" cy="108.5" r="1.35" fill="#00ff00"/>
<circle cx="374.1" cy="95.6" r="1.35" fill="#00ff00"/>
<circle cx="377.2" cy="120.8" r="1.35" fill="#00ff00"/>
<circle cx="381.7" cy="106.7" r="1.35" fill="#00ff00"/>
<circle cx="374.0" cy="115.6" r="1.35" fill="#00ff00"/>
<circle cx="377.0" cy="107.9" r="1.35" fill="#00ff00"/>
<circle cx="379.7" cy="110.0" r="1.35" fill="#00ff00"/>
<circle cx="377.5" cy="120.6" r="1.35" fill="#00ff00"/>
<circle cx="376.6" cy="100.9" r="1.35" fill="#00ff00"/>
<circle cx="381.3" cy="93.5" r="1.35" fill="#00ff00"/>
<circle cx="375.9" cy="117.5" r="1.35" fill="#00ff00"/>
<circle cx="374.3" cy="117.8" r="1.35" fill="#00ff00"/>
<circle cx="379.6" cy="102.4" r="1.35" fill="#00ff00"/>
<circle cx="375.8" cy="115.7" r="1.35" fill="#00ff00"/>
<circle cx="382.0" cy="91.4" r="1.35" fill="#00ff00"/>
<circle cx="377.5" cy="106.9" r="1.35" fill="#00ff00"/>
<circle cx="377.6" cy="98.6" r="1.35" fill="#00ff00"/>
<circle cx="374.8" cy="108.3" r="1.35" fill="#00ff00"/>
<circle cx="380.9" cy="88.6" r="1.35" fill="#00ff00"/>
<circle cx="375.3" cy="117.1" r="1.35" fill="#00ff00"/>
<circle cx="380.6" cy="111.2" r="1.35" fill="#00ff00"/>
<circle cx="374.1" cy="113.5" r="1.35" fill="#00ff00"/>
<circle cx="382.8" cy="123.9" r="1.35" fill="#00ff00"/>
<circle cx="379.7" cy="87.9" r="1.35" fill="#00ff00"/>
<circle cx="381.2" cy="94.3" r="1.35" fill="#00ff00"/>
<circle cx="379.1" cy="122.2" r="1.35" fill="#00ff00"/>
<circle cx="379.8" cy="91.1" r="1.35" fill="#00ff00"/>
<circle cx="375.8" cy="120.9" r="1.35" fill="#00ff00"/>
<circle cx="374.8" cy="109.2" r="1.35" fill="#00ff00"/>
<circle cx="376.9" cy="92.1" r="1.35" fill="#00ff00"/>
<circle cx="378.9" cy="87.7" r="1.35" fill="#00ff00"/>
<circle cx="374.5" cy="100.4" r="1.35" fill="#00ff00"/>
<circle cx="375.8" cy="86.6" r="1.35" fill="#00ff00"/>
<circle cx="381.3" cy="93.4" r="1.35" fill="#00ff00"/>
<circle cx="384.7" cy="87.3" r="1.35" fill="#00ff00"/>
<circle cx="379.7" cy="89.1" r="1.35" fill="#00ff00"/>
<circle cx="381.6" cy="90.9" r="1.35" fill="#00ff00"/>
<circle cx="385.3" cy="89.7" r="1.35" fill="#00ff00"/>
<circle cx="375.6" cy="93.0" r="1.35" fill="#00ff00"/>
<circle cx="376.7" cy="92.3" r="1.35" fill="#00ff00"/>
<circle cx="523.1" cy="19.2" r="1.35" fill="#00ff00"/>
<circle cx="530.7" cy="22.9" r="1.35" fill="#00ff00"/>
<circle cx="534.4" cy="24.3" r="1.35" fill="#00ff00"/>
<circle cx="540.2" cy="24.5" r="1.35" fill="#00ff00"/>
<circle cx="524.0" cy="26.5" r="1.35" fill="#00ff00"/>
<circle cx="526.7" cy="27.2" r="1.35" fill="#00ff00"/>
<circle cx="524.2" cy="30.8" r="1.35" fill="#00ff00"/>
<circle cx="527.6" cy="31.5" r="1.35" fill="#00ff00"/>
<circle cx="535.3" cy="30.6" r="1.35" fill="#00ff00"/>
<circle cx="547.5" cy="29.2" r="1.35" fill="#00ff00"/>
<circle cx="549.5" cy="31.7" r="1.35" fill="#00ff00"/>
<circle cx="545.5" cy="34.0" r="1.35" fill="#00ff00"/>
<circle cx="564.6" cy="29.7" r="1.35" fill="#00ff00"/>
<circle cx="520.3" cy="34.4" r="1.35" fill="#00ff00"/>
<circle cx="521.7" cy="36.2" r="1.35" fill="#00ff00"/>
<circle cx="528.0" cy="34.6" r="1.35" fill="#00ff00"/>
<circle cx="537.1" cy="37.3" r="1.35" fill="#00ff00"/>
<circle cx="539.8" cy="36.0" r="1.35" fill="#00ff00"/>
<circle cx="526.2" cy="39.8" r="1.35" fill="#00ff00"/>
<circle cx="529.4" cy="38.5" r="1.35" fill="#00ff00"/>
<circle cx="528.9" cy="40.7" r="1.35" fill="#00ff00"/>
<circle cx="532.1" cy="41.5" r="1.35" fill="#00ff00"/>
<circle cx="540.2" cy="40.3" r="1.35" fill="#00ff00"/>
<circle cx="520.1" cy="41.2" r="1.35" fill="#00ff00"/>
<circle cx="511.8" cy="42.5" r="1.35" fill="#00ff00"/>
<circle cx="510.8" cy="47.5" r="1.35" fill="#00ff00"/>
<circle cx="514.9" cy="49.1" r="1.35" fill="#00ff00"/>
<circle cx="523.5" cy="43.9" r="1.35" fill="#00ff00"/>
<circle cx="525.3" cy="46.6" r="1.35" fill="#00ff00"/>
<circle cx="527.6" cy="47.1" r="1.35" fill="#00ff00"/>
<circle cx="527.1" cy="49.8" r="1.35" fill="#00ff00"/>
<circle cx="531.2" cy="47.1" r="1.35" fill="#00ff00"/>
<circle cx="533.5" cy="45.3" r="1.35" fill="#00ff00"/>
<circle cx="533.9" cy="50.2" r="1.35" fill="#00ff00"/>
<circle cx="537.1" cy="51.6" r="1.35" fill="#00ff00"/>
<circle cx="541.1" cy="50.7" r="1.35" fill="#00ff00"/>
<circle cx="542.5" cy="46.2" r="1.35" fill="#00ff00"/>
<circle cx="543.9" cy="44.4" r="1.35" fill="#00ff00"/>
<circle cx="544.3" cy="46.6" r="1.35" fill="#00ff00"/>
<circle cx="546.6" cy="49.8" r="1.35" fill="#00ff00"/>
<circle cx="542.9" cy="53.9" r="1.35" fill="#00ff00"/>
<circle cx="554.0" cy="47.8" r="1.35" fill="#00ff00"/>
<circle cx="570.5" cy="54.1" r="1.35" fill="#00ff00"/>
<circle cx="572.3" cy="60.8" r="1.35" fill="#00ff00"/>
<circle cx="533.0" cy="54.3" r="1.35" fill="#00ff00"/>
<circle cx="532.5" cy="56.1" r="1.35" fill="#00ff00"/>
<circle cx="522.6" cy="56.1" r="1.35" fill="#00ff00"/>
<circle cx="520.3" cy="57.9" r="1.35" fill="#00ff00"/>
<circle cx="521.2" cy="59.3" r="1.35" fill="#00ff00"/>
<circle cx="526.2" cy="58.8" r="1.35" fill="#00ff00"/>
<circle cx="529.8" cy="59.3" r="1.35" fill="#00ff00"/>
<circle cx="531.2" cy="58.8" r="1.35" fill="#00ff00"/>
<circle cx="536.2" cy="58.4" r="1.35" fill="#00ff00"/>
<circle cx="545.7" cy="57.9" r="1.35" fill="#00ff00"/>
<circle cx="544.3" cy="61.5" r="1.35" fill="#00ff00"/>
<circle cx="518.1" cy="64.2" r="1.35" fill="#00ff00"/>
<circle cx="523.5" cy="63.3" r="1.35" fill="#00ff00"/>
<circle cx="527.1" cy="62.4" r="1.35" fill="#00ff00"/>
<circle cx="533.0" cy="61.5" r="1.35" fill="#00ff00"/>
<circle cx="534.8" cy="63.3" r="1.35" fill="#00ff00"/>
<circle cx="539.3" cy="64.1" r="1.35" fill="#00ff00"/>
<circle cx="544.3" cy="65.2" r="1.35" fill="#00ff00"/>
<circle cx="552.0" cy="63.3" r="1.35" fill="#00ff00"/>
<circle cx="553.3" cy="67.0" r="1.35" fill="#00ff00"/>
<circle cx="556.1" cy="66.5" r="1.35" fill="#00ff00"/>
<circle cx="557.9" cy="66.5" r="1.35" fill="#00ff00"/>
<circle cx="519.0" cy="65.5" r="1.35" fill="#00ff00"/>
<circle cx="521.7" cy="66.8" r="1.35" fill="#00ff00"/>
<circle cx="524.4" cy="69.1" r="1.35" fill="#00ff00"/>
<circle cx="524.0" cy="70.9" r="1.35" fill="#00ff00"/>
<circle cx="520.8" cy="67.7" r="1.35" fill="#00ff00"/>
<circle cx="515.8" cy="72.2" r="1.35" fill="#00ff00"/>
<circle cx="517.6" cy="72.4" r="1.35" fill="#00ff00"/>
<circle cx="521.2" cy="73.1" r="1.35" fill="#00ff00"/>
<circle cx="522.6" cy="75.8" r="1.35" fill="#00ff00"/>
<circle cx="524.0" cy="74.0" r="1.35" fill="#00ff00"/>
<circle cx="527.1" cy="73.1" r="1.35" fill="#00ff00"/>
<circle cx="528.9" cy="69.5" r="1.35" fill="#00ff00"/>
<circle cx="530.7" cy="67.7" r="1.35" fill="#00ff00"/>
<circle cx="531.2" cy="72.2" r="1.35" fill="#00ff00"/>
<circle cx="533.5" cy="70.0" r="1.35" fill="#00ff00"/>
<circle cx="531.6" cy="74.9" r="1.35" fill="#00ff00"/>
<circle cx="529.8" cy="79.0" r="1.35" fill="#00ff00"/>
<circle cx="534.4" cy="76.8" r="1.35" fill="#00ff00"/>
<circle cx="536.2" cy="75.8" r="1.35" fill="#00ff00"/>
<circle cx="538.0" cy="77.7" r="1.35" fill="#00ff00"/>
<circle cx="539.8" cy="74.9" r="1.35" fill="#00ff00"/>
<circle cx="541.6" cy="67.7" r="1.35" fill="#00ff00"/>
<circle cx="544.3" cy="68.6" r="1.35" fill="#00ff00"/>
<circle cx="546.6" cy="69.1" r="1.35" fill="#00ff00"/>
<circle cx="544.3" cy="66.4" r="1.35" fill="#00ff00"/>
<circle cx="543.4" cy="73.6" r="1.35" fill="#00ff00"/>
<circle cx="544.3" cy="75.8" r="1.35" fill="#00ff00"/>
<circle cx="552.9" cy="66.8" r="1.35" fill="#00ff00"/>
<circle cx="556.5" cy="66.4" r="1.35" fill="#00ff00"/>
<circle cx="558.3" cy="66.4" r="1.35" fill="#00ff00"/>
<circle cx="561.0" cy="72.2" r="1.35" fill="#00ff00"/>
<circle cx="551.5" cy="78.1" r="1.35" fill="#00ff00"/>
<circle cx="555.6" cy="78.6" r="1.35" fill="#00ff00"/>
<circle cx="550.2" cy="81.7" r="1.35" fill="#00ff00"/>
<circle cx="523.1" cy="82.2" r="1.35" fill="#00ff00"/>
<circle cx="525.8" cy="81.3" r="1.35" fill="#00ff00"/>
<circle cx="522.2" cy="84.4" r="1.35" fill="#00ff00"/>
<circle cx="519.9" cy="86.7" r="1.35" fill="#00ff00"/>
<circle cx="528.5" cy="83.5" r="1.35" fill="#00ff00"/>
<circle cx="528.0" cy="86.2" r="1.35" fill="#00ff00"/>
<circle cx="529.8" cy="86.2" r="1.35" fill="#00ff00"/>
<circle cx="533.0" cy="81.7" r="1.35" fill="#00ff00"/>
<circle cx="536.2" cy="82.2" r="1.35" fill="#00ff00"/>
<circle cx="539.8" cy="82.6" r="1.35" fill="#00ff00"/>
<circle cx="542.5" cy="85.8" r="1.35" fill="#00ff00"/>
<circle cx="544.3" cy="87.6" r="1.35" fill="#00ff00"/>
<circle cx="549.3" cy="89.9" r="1.35" fill="#00ff00"/>
<circle cx="533.0" cy="89.0" r="1.35" fill="#00ff00"/>
<circle cx="536.2" cy="90.3" r="1.35" fill="#00ff00"/>
<circle cx="538.0" cy="89.0" r="1.35" fill="#00ff00"/>
<circle cx="540.2" cy="88.5" r="1.35" fill="#00ff00"/>
<circle cx="514.5" cy="90.8" r="1.35" fill="#00ff00"/>
<circle cx="514.5" cy="93.5" r="1.35" fill="#00ff00"/>
<circle cx="521.7" cy="92.1" r="1.35" fill="#00ff00"/>
<circle cx="526.2" cy="92.1" r="1.35" fill="#00ff00"/>
<circle cx="540.2" cy="93.9" r="1.35" fill="#00ff00"/>
<circle cx="524.0" cy="95.3" r="1.35" fill="#00ff00"/>
<circle cx="523.1" cy="98.5" r="1.35" fill="#00ff00"/>
<circle cx="514.0" cy="99.4" r="1.35" fill="#00ff00"/>
<circle cx="516.7" cy="102.5" r="1.35" fill="#00ff00"/>
<circle cx="528.9" cy="100.3" r="1.35" fill="#00ff00"/>
<circle cx="531.2" cy="99.8" r="1.35" fill="#00ff00"/>
<circle cx="533.9" cy="97.5" r="1.35" fill="#00ff00"/>
<circle cx="539.3" cy="97.5" r="1.35" fill="#00ff00"/>
<circle cx="539.8" cy="101.2" r="1.35" fill="#00ff00"/>
<circle cx="542.0" cy="101.3" r="1.35" fill="#00ff00"/>
<circle cx="536.0" cy="103.7" r="1.35" fill="#00ff00"/>
<circle cx="538.4" cy="110.7" r="1.35" fill="#00ff00"/>
<circle cx="538.9" cy="112.5" r="1.35" fill="#00ff00"/>
<circle cx="536.6" cy="114.3" r="1.35" fill="#00ff00"/>
<circle cx="519.0" cy="122.9" r="1.35" fill="#00ff00"/>
<circle cx="540.9" cy="123.8" r="1.35" fill="#00ff00"/>
<circle cx="532.6" cy="80.0" r="1.35" fill="#00ff00"/>
<circle cx="533.9" cy="73.7" r="1.35" fill="#00ff00"/>
<circle cx="526.6" cy="72.1" r="1.35" fill="#00ff00"/>
<circle cx="526.4" cy="76.5" r="1.35" fill="#00ff00"/>
<circle cx="532.9" cy="62.9" r="1.35" fill="#00ff00"/>
<circle cx="525.9" cy="68.2" r="1.35" fill="#00ff00"/>
<circle cx="538.4" cy="63.9" r="1.35" fill="#00ff00"/>
<circle cx="537.8" cy="74.4" r="1.35" fill="#00ff00"/>
<circle cx="522.1" cy="74.7" r="1.35" fill="#00ff00"/>
<circle cx="522.3" cy="62.7" r="1.35" fill="#00ff00"/>
<circle cx="534.8" cy="65.2" r="1.35" fill="#00ff00"/>
<circle cx="541.9" cy="70.6" r="1.35" fill="#00ff00"/>
<circle cx="528.1" cy="77.5" r="1.35" fill="#00ff00"/>
<circle cx="520.7" cy="76.0" r="1.35" fill="#00ff00"/>
<circle cx="521.3" cy="63.3" r="1.35" fill="#00ff00"/>
<circle cx="543.8" cy="75.0" r="1.35" fill="#00ff00"/>
<circle cx="525.6" cy="62.6" r="1.35" fill="#00ff00"/>
<circle cx="544.3" cy="74.6" r="1.35" fill="#00ff00"/>
<circle cx="540.5" cy="63.1" r="1.35" fill="#00ff00"/>
<circle cx="535.6" cy="67.8" r="1.35" fill="#00ff00"/>
<circle cx="525.9" cy="67.3" r="1.35" fill="#00ff00"/>
<circle cx="535.3" cy="67.7" r="1.35" fill="#00ff00"/>
<circle cx="529.6" cy="63.0" r="1.35" fill="#00ff00"/>
<circle cx="540.8" cy="74.3" r="1.35" fill="#00ff00"/>
<circle cx="540.1" cy="69.5" r="1.35" fill="#00ff00"/>
<circle cx="541.3" cy="71.4" r="1.35" fill="#00ff00"/>
<circle cx="534.8" cy="72.6" r="1.35" fill="#00ff00"/>
<circle cx="538.5" cy="68.7" r="1.35" fill="#00ff00"/>
<circle cx="522.4" cy="60.7" r="1.35" fill="#00ff00"/>
<circle cx="525.1" cy="60.9" r="1.35" fill="#00ff00"/>
<circle cx="542.2" cy="70.6" r="1.35" fill="#00ff00"/>
<circle cx="539.0" cy="60.0" r="1.35" fill="#00ff00"/>
<circle cx="531.8" cy="79.6" r="1.35" fill="#00ff00"/>
<circle cx="535.5" cy="69.4" r="1.35" fill="#00ff00"/>
<circle cx="531.6" cy="62.2" r="1.35" fill="#00ff00"/>
<circle cx="399.8" cy="172.6" r="1.55" fill="#00ff00"/>
<text x="399.80" y="170.00" font-size="9" text-anchor="middle" fill="#000" >8</text>
<circle cx="404.4" cy="173.8" r="1.55" fill="#00ff00"/>
<text x="404.40" y="171.20" font-size="9" text-anchor="middle" fill="#000" >1</text>
<circle cx="407.3" cy="171.0" r="1.55" fill="#00ff00"/>
<text x="407.20" y="168.60" font-size="9" text-anchor="middle" fill="#000" >7</text>
<circle cx="415.8" cy="176.6" r="1.55" fill="#00ff00"/>
<text x="415.80" y="174.00" font-size="9" text-anchor="middle" fill="#000" >10</text>
<circle cx="423.0" cy="178.6" r="1.55" fill="#00ff00"/>
<text x="422.00" y="175.00" font-size="9" text-anchor="middle" fill="#000" >9</text>
<circle cx="426.4" cy="179.0" r="1.55" fill="#00ff00"/>
<text x="425.50" y="175.20" font-size="9" text-anchor="middle" fill="#000" >6</text>
<circle cx="428.0" cy="177.6" r="1.55" fill="#00ff00"/>
<text x="428.20" y="174.30" font-size="9" text-anchor="middle" fill="#000" >4</text>
<circle cx="426.4" cy="179.0" r="1.55" fill="#00ff00"/>
<text x="426.80" y="175.50" font-size="9" text-anchor="middle" fill="#000" >2</text>
<circle cx="433.4" cy="178.0" r="1.55" fill="#00ff00"/>
<text x="433.40" y="175.60" font-size="9" text-anchor="middle" fill="#000" >3</text>
<circle cx="457.8" cy="166.4" r="1.55" fill="#00ff00"/>
<text x="457.80" y="163.80" font-size="9" text-anchor="middle" fill="#000" >5</text>
<polygon points="703.40,165.20 770.50,186.80 799.60,174.65 732.50,153.05" fill="#e9e9dc" />
<polygon points="703.40,165.20 732.50,153.05 732.50,99.20 703.40,111.35" fill="#e9e9dc" />
<line x1="725.77" y1="172.40" x2="842.17" y2="123.80" stroke="#c8c8c8" stroke-width="0.8" />
<line x1="748.13" y1="179.60" x2="864.53" y2="131.00" stroke="#c8c8c8" stroke-width="0.8" />
<line x1="770.50" y1="186.80" x2="886.90" y2="138.20" stroke="#c8c8c8" stroke-width="0.8" />
<line x1="792.87" y1="194.00" x2="909.27" y2="145.40" stroke="#c8c8c8" stroke-width="0.8" />
<line x1="815.23" y1="201.20" x2="931.63" y2="152.60" stroke="#c8c8c8" stroke-width="0.8" />
<line x1="732.50" y1="153.05" x2="866.70" y2="196.25" stroke="#c8c8c8" stroke-width="0.8" />
<line x1="761.60" y1="140.90" x2="895.80" y2="184.10" stroke="#c8c8c8" stroke-width="0.8" />
<line x1="790.70" y1="128.75" x2="924.90" y2="171.95" stroke="#c8c8c8" stroke-width="0.8" />
<line x1="703.40" y1="165.20" x2="837.60" y2="208.40" stroke="#505050" stroke-width="0.9" />
<line x1="837.60" y1="208.40" x2="954.00" y2="159.80" stroke="#505050" stroke-width="0.9" />
<line x1="954.00" y1="159.80" x2="819.80" y2="116.60" stroke="#505050" stroke-width="0.9" />
<line x1="819.80" y1="116.60" x2="703.40" y2="165.20" stroke="#505050" stroke-width="0.9" />
<line x1="703.40" y1="53.10" x2="703.40" y2="165.20" stroke="#8c8c8c" stroke-width="1.4" />
<line x1="819.80" y1="6.60" x2="819.80" y2="116.60" stroke="#b4b4b4" stroke-width="1.6" />
<line x1="954.00" y1="46.90" x2="954.00" y2="159.80" stroke="#c0c0c0" stroke-width="1.0" />
<line x1="703.40" y1="53.10" x2="812.90" y2="6.50" stroke="#505050" stroke-width="0.9" />
<line x1="829.00" y1="6.30" x2="954.30" y2="46.90" stroke="#505050" stroke-width="0.9" />
<line x1="700.20" y1="156.00" x2="703.40" y2="156.00" stroke="#8c8c8c" stroke-width="1" />
<text x="694.60" y="159.20" font-size="9" text-anchor="end" fill="#000" >-100</text>
<line x1="700.20" y1="136.30" x2="703.40" y2="136.30" stroke="#8c8c8c" stroke-width="1" />
<text x="694.60" y="139.50" font-size="9" text-anchor="end" fill="#000" >-80</text>
<line x1="700.20" y1="116.60" x2="703.40" y2="116.60" stroke="#8c8c8c" stroke-width="1" />
<text x="694.60" y="119.80" font-size="9" text-anchor="end" fill="#000" >-60</text>
<line x1="700.20" y1="96.90" x2="703.40" y2="96.90" stroke="#8c8c8c" stroke-width="1" />
<text x="694.60" y="100.10" font-size="9" text-anchor="end" fill="#000" >-40</text>
<line x1="700.20" y1="77.20" x2="703.40" y2="77.20" stroke="#8c8c8c" stroke-width="1" />
<text x="694.60" y="80.40" font-size="9" text-anchor="end" fill="#000" >-20</text>
<line x1="700.20" y1="57.50" x2="703.40" y2="57.50" stroke="#8c8c8c" stroke-width="1" />
<text x="694.60" y="60.70" font-size="9" text-anchor="end" fill="#000" >0</text>
<text x="697.80" y="173.10" font-size="9" text-anchor="end" fill="#000" >0</text>
<line x1="703.40" y1="165.20" x2="706.02" y2="164.11" stroke="#505050" stroke-width="0.8" />
<text x="720.17" y="180.30" font-size="9" text-anchor="end" fill="#000" >2</text>
<line x1="725.77" y1="172.40" x2="728.39" y2="171.31" stroke="#505050" stroke-width="0.8" />
<text x="742.53" y="187.50" font-size="9" text-anchor="end" fill="#000" >4</text>
<line x1="748.13" y1="179.60" x2="750.75" y2="178.51" stroke="#505050" stroke-width="0.8" />
<text x="764.90" y="194.70" font-size="9" text-anchor="end" fill="#000" >6</text>
<line x1="770.50" y1="186.80" x2="773.12" y2="185.71" stroke="#505050" stroke-width="0.8" />
<text x="787.27" y="201.90" font-size="9" text-anchor="end" fill="#000" >8</text>
<line x1="792.87" y1="194.00" x2="795.49" y2="192.91" stroke="#505050" stroke-width="0.8" />
<text x="809.63" y="209.10" font-size="9" text-anchor="end" fill="#000" >10</text>
<line x1="815.23" y1="201.20" x2="817.85" y2="200.11" stroke="#505050" stroke-width="0.8" />
<text x="832.00" y="216.30" font-size="9" text-anchor="end" fill="#000" >12</text>
<line x1="837.60" y1="208.40" x2="840.22" y2="207.31" stroke="#505050" stroke-width="0.8" />
<text x="843.20" y="213.80" font-size="9" text-anchor="middle" fill="#000" >0</text>
<line x1="837.60" y1="208.40" x2="834.80" y2="207.50" stroke="#505050" stroke-width="0.8" />
<text x="872.30" y="201.65" font-size="9" text-anchor="middle" fill="#000" >5</text>
<line x1="866.70" y1="196.25" x2="863.90" y2="195.35" stroke="#505050" stroke-width="0.8" />
<text x="901.40" y="189.50" font-size="9" text-anchor="middle" fill="#000" >10</text>
<line x1="895.80" y1="184.10" x2="893.00" y2="183.20" stroke="#505050" stroke-width="0.8" />
<text x="930.50" y="177.35" font-size="9" text-anchor="middle" fill="#000" >15</text>
<line x1="924.90" y1="171.95" x2="922.10" y2="171.05" stroke="#505050" stroke-width="0.8" />
<text x="959.60" y="165.20" font-size="9" text-anchor="middle" fill="#000" >20</text>
<line x1="954.00" y1="159.80" x2="951.20" y2="158.90" stroke="#505050" stroke-width="0.8" />
<text x="723.50" y="20.60" font-size="9" text-anchor="middle" fill="#000" >HADDOCK energy,</text>
<text x="724.80" y="29.80" font-size="9" text-anchor="middle" fill="#000" >Kcal/mol</text>
<text x="741.00" y="221.60" font-size="9" text-anchor="middle" fill="#000" >β-sheet Cα-RMSD with 2A9H.pdb,</text>
<text x="742.00" y="229.90" font-size="9" text-anchor="middle" fill="#000" >Angs.</text>
<text x="924.00" y="216.30" font-size="9" text-anchor="middle" fill="#000" >pore-Lys Y377-plane separation,</text>
<text x="925.20" y="224.80" font-size="9" text-anchor="middle" fill="#000" >Angs.</text>
<rect x="872.9" y="7.5" width="116.5" height="8.8" fill="#fff" stroke="#505050" stroke-width="0.9"/>
<text x="920.50" y="14.80" font-size="9" text-anchor="middle" fill="#000" >Kv13-1HP2-run6</text>
<circle cx="971.5" cy="12" r="1.5" fill="#0000ff"/>
<circle cx="731.2" cy="42.2" r="1.35" fill="#0000ff"/>
<circle cx="749.7" cy="40.8" r="1.35" fill="#0000ff"/>
<circle cx="781.0" cy="45.0" r="1.35" fill="#0000ff"/>
<circle cx="729.5" cy="49.2" r="1.35" fill="#0000ff"/>
<circle cx="734.0" cy="50.7" r="1.35" fill="#0000ff"/>
<circle cx="738.5" cy="52.7" r="1.35" fill="#0000ff"/>
<circle cx="754.0" cy="52.2" r="1.35" fill="#0000ff"/>
<circle cx="753.5" cy="53.5" r="1.35" fill="#0000ff"/>
<circle cx="770.7" cy="49.7" r="1.35" fill="#0000ff"/>
<circle cx="782.8" cy="52.0" r="1.35" fill="#0000ff"/>
<circle cx="787.0" cy="54.6" r="1.35" fill="#0000ff"/>
<circle cx="713.7" cy="54.5" r="1.35" fill="#0000ff"/>
<circle cx="707.0" cy="61.2" r="1.35" fill="#0000ff"/>
<circle cx="719.0" cy="62.2" r="1.35" fill="#0000ff"/>
<circle cx="722.5" cy="61.0" r="1.35" fill="#0000ff"/>
<circle cx="724.0" cy="62.8" r="1.35" fill="#0000ff"/>
<circle cx="725.5" cy="64.5" r="1.35" fill="#0000ff"/>
<circle cx="731.3" cy="59.0" r="1.35" fill="#0000ff"/>
<circle cx="734.0" cy="62.5" r="1.35" fill="#0000ff"/>
<circle cx="742.5" cy="58.8" r="1.35" fill="#0000ff"/>
<circle cx="742.2" cy="62.8" r="1.35" fill="#0000ff"/>
<circle cx="738.0" cy="65.5" r="1.35" fill="#0000ff"/>
<circle cx="739.0" cy="67.8" r="1.35" fill="#0000ff"/>
<circle cx="738.5" cy="69.0" r="1.35" fill="#0000ff"/>
<circle cx="751.8" cy="61.0" r="1.35" fill="#0000ff"/>
<circle cx="755.3" cy="65.8" r="1.35" fill="#0000ff"/>
<circle cx="770.0" cy="60.3" r="1.35" fill="#0000ff"/>
<circle cx="778.0" cy="58.0" r="1.35" fill="#0000ff"/>
<circle cx="784.8" cy="59.3" r="1.35" fill="#0000ff"/>
<circle cx="789.8" cy="59.0" r="1.35" fill="#0000ff"/>
<circle cx="778.0" cy="63.2" r="1.35" fill="#0000ff"/>
<circle cx="787.0" cy="64.0" r="1.35" fill="#0000ff"/>
<circle cx="789.0" cy="65.5" r="1.35" fill="#0000ff"/>
<circle cx="770.5" cy="66.5" r="1.35" fill="#0000ff"/>
<circle cx="776.0" cy="69.0" r="1.35" fill="#0000ff"/>
<circle cx="706.0" cy="70.5" r="1.35" fill="#0000ff"/>
<circle cx="705.0" cy="71.5" r="1.35" fill="#0000ff"/>
<circle cx="718.8" cy="68.2" r="1.35" fill="#0000ff"/>
<circle cx="720.5" cy="69.7" r="1.35" fill="#0000ff"/>
<circle cx="736.0" cy="71.0" r="1.35" fill="#0000ff"/>
<circle cx="748.3" cy="70.3" r="1.35" fill="#0000ff"/>
<circle cx="752.5" cy="70.7" r="1.35" fill="#0000ff"/>
<circle cx="769.7" cy="73.5" r="1.35" fill="#0000ff"/>
<circle cx="743.0" cy="74.0" r="1.35" fill="#0000ff"/>
<circle cx="744.0" cy="75.0" r="1.35" fill="#0000ff"/>
<circle cx="716.0" cy="76.5" r="1.35" fill="#0000ff"/>
<circle cx="740.0" cy="78.2" r="1.35" fill="#0000ff"/>
<circle cx="722.0" cy="79.0" r="1.35" fill="#0000ff"/>
<circle cx="726.5" cy="79.8" r="1.35" fill="#0000ff"/>
<circle cx="761.0" cy="79.5" r="1.35" fill="#0000ff"/>
<circle cx="764.0" cy="79.5" r="1.35" fill="#0000ff"/>
<circle cx="788.0" cy="79.5" r="1.35" fill="#0000ff"/>
<circle cx="790.0" cy="79.5" r="1.35" fill="#0000ff"/>
<circle cx="707.0" cy="84.5" r="1.35" fill="#0000ff"/>
<circle cx="710.8" cy="84.2" r="1.35" fill="#0000ff"/>
<circle cx="723.7" cy="85.2" r="1.35" fill="#0000ff"/>
<circle cx="727.2" cy="84.8" r="1.35" fill="#0000ff"/>
<circle cx="733.0" cy="85.8" r="1.35" fill="#0000ff"/>
<circle cx="734.5" cy="85.8" r="1.35" fill="#0000ff"/>
<circle cx="736.5" cy="85.0" r="1.35" fill="#0000ff"/>
<circle cx="741.5" cy="81.8" r="1.35" fill="#0000ff"/>
<circle cx="737.8" cy="81.0" r="1.35" fill="#0000ff"/>
<circle cx="745.5" cy="86.2" r="1.35" fill="#0000ff"/>
<circle cx="749.8" cy="88.0" r="1.35" fill="#0000ff"/>
<circle cx="746.0" cy="89.8" r="1.35" fill="#0000ff"/>
<circle cx="738.8" cy="90.0" r="1.35" fill="#0000ff"/>
<circle cx="728.3" cy="90.8" r="1.35" fill="#0000ff"/>
<circle cx="763.2" cy="89.8" r="1.35" fill="#0000ff"/>
<circle cx="768.5" cy="89.8" r="1.35" fill="#0000ff"/>
<circle cx="767.8" cy="82.5" r="1.35" fill="#0000ff"/>
<circle cx="787.0" cy="80.0" r="1.35" fill="#0000ff"/>
<circle cx="786.0" cy="91.0" r="1.35" fill="#0000ff"/>
<circle cx="786.5" cy="90.0" r="1.35" fill="#0000ff"/>
<circle cx="768.5" cy="93.7" r="1.35" fill="#0000ff"/>
<circle cx="735.5" cy="93.0" r="1.35" fill="#0000ff"/>
<circle cx="737.0" cy="94.5" r="1.35" fill="#0000ff"/>
<circle cx="738.0" cy="95.0" r="1.35" fill="#0000ff"/>
<circle cx="724.0" cy="94.0" r="1.35" fill="#0000ff"/>
<circle cx="720.5" cy="95.5" r="1.35" fill="#0000ff"/>
<circle cx="715.0" cy="96.0" r="1.35" fill="#0000ff"/>
<circle cx="724.0" cy="98.8" r="1.35" fill="#0000ff"/>
<circle cx="737.8" cy="99.8" r="1.35" fill="#0000ff"/>
<circle cx="732.8" cy="107.2" r="1.35" fill="#0000ff"/>
<circle cx="745.5" cy="109.0" r="1.35" fill="#0000ff"/>
<circle cx="722.8" cy="112.8" r="1.35" fill="#0000ff"/>
<circle cx="734.8" cy="114.5" r="1.35" fill="#0000ff"/>
<circle cx="758.0" cy="112.8" r="1.35" fill="#0000ff"/>
<circle cx="763.0" cy="106.2" r="1.35" fill="#0000ff"/>
<circle cx="765.0" cy="106.2" r="1.35" fill="#0000ff"/>
<circle cx="717.8" cy="127.5" r="1.35" fill="#0000ff"/>
<circle cx="706.5" cy="81.0" r="1.35" fill="#0000ff"/>
<circle cx="707.5" cy="85.0" r="1.35" fill="#0000ff"/>
<circle cx="710.0" cy="95.0" r="1.35" fill="#0000ff"/>
<circle cx="706.0" cy="96.0" r="1.35" fill="#0000ff"/>
<circle cx="713.0" cy="101.2" r="1.35" fill="#0000ff"/>
<circle cx="704.5" cy="100.0" r="1.35" fill="#0000ff"/>
<circle cx="706.3" cy="128.8" r="1.35" fill="#0000ff"/>
<circle cx="708.2" cy="130.3" r="1.35" fill="#0000ff"/>
<circle cx="710.1" cy="131.4" r="1.35" fill="#0000ff"/>
<circle cx="711.9" cy="132.5" r="1.35" fill="#0000ff"/>
<circle cx="713.1" cy="130.3" r="1.35" fill="#0000ff"/>
<circle cx="708.6" cy="134.4" r="1.35" fill="#0000ff"/>
<circle cx="710.1" cy="134.4" r="1.35" fill="#0000ff"/>
<circle cx="706.3" cy="138.2" r="1.35" fill="#0000ff"/>
<circle cx="707.0" cy="140.8" r="1.35" fill="#0000ff"/>
<circle cx="711.9" cy="140.4" r="1.35" fill="#0000ff"/>
<circle cx="710.1" cy="143.1" r="1.35" fill="#0000ff"/>
<circle cx="710.8" cy="145.3" r="1.35" fill="#0000ff"/>
<circle cx="709.3" cy="148.7" r="1.35" fill="#0000ff"/>
<circle cx="711.9" cy="150.6" r="1.35" fill="#0000ff"/>
<circle cx="712.9" cy="154.0" r="1.35" fill="#0000ff"/>
<circle cx="709.7" cy="157.4" r="1.35" fill="#0000ff"/>
<circle cx="706.1" cy="159.3" r="1.35" fill="#0000ff"/>
<circle cx="711.0" cy="160.8" r="1.35" fill="#0000ff"/>
<circle cx="718.0" cy="127.8" r="1.35" fill="#0000ff"/>
<circle cx="705.3" cy="98.4" r="1.35" fill="#0000ff"/>
<circle cx="706.9" cy="107.4" r="1.35" fill="#0000ff"/>
<circle cx="711.7" cy="98.1" r="1.35" fill="#0000ff"/>
<circle cx="705.9" cy="103.1" r="1.35" fill="#0000ff"/>
<circle cx="705.3" cy="103.5" r="1.35" fill="#0000ff"/>
<circle cx="705.8" cy="111.3" r="1.35" fill="#0000ff"/>
<circle cx="704.6" cy="129.0" r="1.35" fill="#0000ff"/>
<circle cx="706.8" cy="129.5" r="1.35" fill="#0000ff"/>
<circle cx="709.7" cy="119.0" r="1.35" fill="#0000ff"/>
<circle cx="707.7" cy="129.8" r="1.35" fill="#0000ff"/>
<circle cx="705.0" cy="118.7" r="1.35" fill="#0000ff"/>
<circle cx="706.2" cy="119.0" r="1.35" fill="#0000ff"/>
<circle cx="710.1" cy="98.5" r="1.35" fill="#0000ff"/>
<circle cx="705.6" cy="93.0" r="1.35" fill="#0000ff"/>
<circle cx="705.8" cy="95.1" r="1.35" fill="#0000ff"/>
<circle cx="707.1" cy="130.9" r="1.35" fill="#0000ff"/>
<circle cx="706.8" cy="104.5" r="1.35" fill="#0000ff"/>
<circle cx="707.7" cy="103.3" r="1.35" fill="#0000ff"/>
<circle cx="710.2" cy="120.7" r="1.35" fill="#0000ff"/>
<circle cx="705.3" cy="101.6" r="1.35" fill="#0000ff"/>
<circle cx="709.6" cy="129.6" r="1.35" fill="#0000ff"/>
<circle cx="709.3" cy="109.2" r="1.35" fill="#0000ff"/>
<circle cx="712.7" cy="92.3" r="1.35" fill="#0000ff"/>
<circle cx="704.7" cy="123.2" r="1.35" fill="#0000ff"/>
<circle cx="707.2" cy="93.8" r="1.35" fill="#0000ff"/>
<circle cx="708.4" cy="131.6" r="1.35" fill="#0000ff"/>
<circle cx="708.1" cy="106.0" r="1.35" fill="#0000ff"/>
<circle cx="704.9" cy="94.8" r="1.35" fill="#0000ff"/>
<circle cx="711.9" cy="111.6" r="1.35" fill="#0000ff"/>
<circle cx="712.3" cy="94.2" r="1.35" fill="#0000ff"/>
<circle cx="705.9" cy="94.0" r="1.35" fill="#0000ff"/>
<circle cx="707.1" cy="94.4" r="1.35" fill="#0000ff"/>
<circle cx="705.9" cy="108.3" r="1.35" fill="#0000ff"/>
<circle cx="706.3" cy="94.1" r="1.35" fill="#0000ff"/>
<circle cx="704.6" cy="130.9" r="1.35" fill="#0000ff"/>
<circle cx="705.4" cy="112.3" r="1.35" fill="#0000ff"/>
<circle cx="707.1" cy="113.3" r="1.35" fill="#0000ff"/>
<circle cx="704.8" cy="104.6" r="1.35" fill="#0000ff"/>
<circle cx="705.0" cy="113.7" r="1.35" fill="#0000ff"/>
<circle cx="712.1" cy="115.9" r="1.35" fill="#0000ff"/>
<circle cx="711.5" cy="100.6" r="1.35" fill="#0000ff"/>
<circle cx="704.5" cy="113.6" r="1.35" fill="#0000ff"/>
<circle cx="707.8" cy="114.9" r="1.35" fill="#0000ff"/>
<circle cx="706.9" cy="117.0" r="1.35" fill="#0000ff"/>
<circle cx="710.1" cy="128.5" r="1.35" fill="#0000ff"/>
<circle cx="706.3" cy="110.0" r="1.35" fill="#0000ff"/>
<circle cx="711.1" cy="101.0" r="1.35" fill="#0000ff"/>
<circle cx="705.0" cy="104.5" r="1.35" fill="#0000ff"/>
<circle cx="704.9" cy="122.9" r="1.35" fill="#0000ff"/>
<circle cx="711.1" cy="104.5" r="1.35" fill="#0000ff"/>
<circle cx="857.5" cy="16.0" r="1.35" fill="#0000ff"/>
<circle cx="854.0" cy="20.8" r="1.35" fill="#0000ff"/>
<circle cx="853.5" cy="24.5" r="1.35" fill="#0000ff"/>
<circle cx="859.5" cy="25.5" r="1.35" fill="#0000ff"/>
<circle cx="867.2" cy="23.8" r="1.35" fill="#0000ff"/>
<circle cx="868.8" cy="26.0" r="1.35" fill="#0000ff"/>
<circle cx="839.5" cy="27.3" r="1.35" fill="#0000ff"/>
<circle cx="846.0" cy="28.0" r="1.35" fill="#0000ff"/>
<circle cx="846.0" cy="33.0" r="1.35" fill="#0000ff"/>
<circle cx="855.5" cy="33.5" r="1.35" fill="#0000ff"/>
<circle cx="857.0" cy="33.2" r="1.35" fill="#0000ff"/>
<circle cx="862.8" cy="35.2" r="1.35" fill="#0000ff"/>
<circle cx="871.0" cy="35.2" r="1.35" fill="#0000ff"/>
<circle cx="875.0" cy="35.2" r="1.35" fill="#0000ff"/>
<circle cx="845.0" cy="38.2" r="1.35" fill="#0000ff"/>
<circle cx="855.5" cy="38.5" r="1.35" fill="#0000ff"/>
<circle cx="859.0" cy="38.0" r="1.35" fill="#0000ff"/>
<circle cx="867.5" cy="39.8" r="1.35" fill="#0000ff"/>
<circle cx="868.5" cy="39.2" r="1.35" fill="#0000ff"/>
<circle cx="844.5" cy="43.3" r="1.35" fill="#0000ff"/>
<circle cx="848.3" cy="42.0" r="1.35" fill="#0000ff"/>
<circle cx="859.8" cy="42.0" r="1.35" fill="#0000ff"/>
<circle cx="854.5" cy="44.8" r="1.35" fill="#0000ff"/>
<circle cx="855.8" cy="43.5" r="1.35" fill="#0000ff"/>
<circle cx="879.3" cy="44.5" r="1.35" fill="#0000ff"/>
<circle cx="881.8" cy="47.8" r="1.35" fill="#0000ff"/>
<circle cx="850.5" cy="47.0" r="1.35" fill="#0000ff"/>
<circle cx="850.0" cy="49.0" r="1.35" fill="#0000ff"/>
<circle cx="858.3" cy="49.5" r="1.35" fill="#0000ff"/>
<circle cx="867.3" cy="47.0" r="1.35" fill="#0000ff"/>
<circle cx="870.8" cy="49.3" r="1.35" fill="#0000ff"/>
<circle cx="847.0" cy="51.2" r="1.35" fill="#0000ff"/>
<circle cx="848.5" cy="52.8" r="1.35" fill="#0000ff"/>
<circle cx="861.5" cy="53.0" r="1.35" fill="#0000ff"/>
<circle cx="861.8" cy="54.0" r="1.35" fill="#0000ff"/>
<circle cx="865.0" cy="52.0" r="1.35" fill="#0000ff"/>
<circle cx="865.8" cy="55.5" r="1.35" fill="#0000ff"/>
<circle cx="876.5" cy="53.0" r="1.35" fill="#0000ff"/>
<circle cx="895.8" cy="52.7" r="1.35" fill="#0000ff"/>
<circle cx="902.5" cy="58.0" r="1.35" fill="#0000ff"/>
<circle cx="848.0" cy="58.0" r="1.35" fill="#0000ff"/>
<circle cx="851.0" cy="59.0" r="1.35" fill="#0000ff"/>
<circle cx="852.0" cy="61.0" r="1.35" fill="#0000ff"/>
<circle cx="857.2" cy="58.0" r="1.35" fill="#0000ff"/>
<circle cx="857.5" cy="59.5" r="1.35" fill="#0000ff"/>
<circle cx="860.0" cy="60.8" r="1.35" fill="#0000ff"/>
<circle cx="866.5" cy="59.5" r="1.35" fill="#0000ff"/>
<circle cx="868.0" cy="58.8" r="1.35" fill="#0000ff"/>
<circle cx="871.0" cy="61.2" r="1.35" fill="#0000ff"/>
<circle cx="873.0" cy="61.0" r="1.35" fill="#0000ff"/>
<circle cx="866.8" cy="62.8" r="1.35" fill="#0000ff"/>
<circle cx="884.0" cy="58.3" r="1.35" fill="#0000ff"/>
<circle cx="884.5" cy="62.0" r="1.35" fill="#0000ff"/>
<circle cx="885.5" cy="63.5" r="1.35" fill="#0000ff"/>
<circle cx="883.0" cy="65.2" r="1.35" fill="#0000ff"/>
<circle cx="891.5" cy="65.8" r="1.35" fill="#0000ff"/>
<circle cx="898.0" cy="64.0" r="1.35" fill="#0000ff"/>
<circle cx="898.2" cy="65.5" r="1.35" fill="#0000ff"/>
<circle cx="915.8" cy="66.5" r="1.35" fill="#0000ff"/>
<circle cx="914.0" cy="69.5" r="1.35" fill="#0000ff"/>
<circle cx="846.5" cy="64.5" r="1.35" fill="#0000ff"/>
<circle cx="845.0" cy="67.5" r="1.35" fill="#0000ff"/>
<circle cx="853.0" cy="63.0" r="1.35" fill="#0000ff"/>
<circle cx="851.5" cy="65.5" r="1.35" fill="#0000ff"/>
<circle cx="854.0" cy="65.0" r="1.35" fill="#0000ff"/>
<circle cx="857.0" cy="64.8" r="1.35" fill="#0000ff"/>
<circle cx="862.0" cy="64.5" r="1.35" fill="#0000ff"/>
<circle cx="861.0" cy="67.5" r="1.35" fill="#0000ff"/>
<circle cx="854.5" cy="69.0" r="1.35" fill="#0000ff"/>
<circle cx="868.0" cy="69.0" r="1.35" fill="#0000ff"/>
<circle cx="874.5" cy="68.5" r="1.35" fill="#0000ff"/>
<circle cx="848.5" cy="73.5" r="1.35" fill="#0000ff"/>
<circle cx="851.0" cy="72.5" r="1.35" fill="#0000ff"/>
<circle cx="854.0" cy="71.5" r="1.35" fill="#0000ff"/>
<circle cx="863.0" cy="71.5" r="1.35" fill="#0000ff"/>
<circle cx="864.5" cy="74.5" r="1.35" fill="#0000ff"/>
<circle cx="859.0" cy="74.5" r="1.35" fill="#0000ff"/>
<circle cx="872.0" cy="72.5" r="1.35" fill="#0000ff"/>
<circle cx="877.0" cy="70.0" r="1.35" fill="#0000ff"/>
<circle cx="873.0" cy="75.0" r="1.35" fill="#0000ff"/>
<circle cx="873.0" cy="79.0" r="1.35" fill="#0000ff"/>
<circle cx="879.0" cy="77.5" r="1.35" fill="#0000ff"/>
<circle cx="877.5" cy="82.0" r="1.35" fill="#0000ff"/>
<circle cx="878.0" cy="80.5" r="1.35" fill="#0000ff"/>
<circle cx="850.0" cy="78.5" r="1.35" fill="#0000ff"/>
<circle cx="854.5" cy="78.0" r="1.35" fill="#0000ff"/>
<circle cx="856.0" cy="80.0" r="1.35" fill="#0000ff"/>
<circle cx="854.0" cy="80.5" r="1.35" fill="#0000ff"/>
<circle cx="863.0" cy="78.0" r="1.35" fill="#0000ff"/>
<circle cx="865.5" cy="80.5" r="1.35" fill="#0000ff"/>
<circle cx="864.0" cy="83.0" r="1.35" fill="#0000ff"/>
<circle cx="866.0" cy="85.5" r="1.35" fill="#0000ff"/>
<circle cx="863.0" cy="88.0" r="1.35" fill="#0000ff"/>
<circle cx="865.0" cy="89.5" r="1.35" fill="#0000ff"/>
<circle cx="851.0" cy="83.0" r="1.35" fill="#0000ff"/>
<circle cx="852.5" cy="86.0" r="1.35" fill="#0000ff"/>
<circle cx="852.0" cy="88.5" r="1.35" fill="#0000ff"/>
<circle cx="856.0" cy="87.5" r="1.35" fill="#0000ff"/>
<circle cx="858.0" cy="86.0" r="1.35" fill="#0000ff"/>
<circle cx="859.0" cy="91.0" r="1.35" fill="#0000ff"/>
<circle cx="859.5" cy="91.8" r="1.35" fill="#0000ff"/>
<circle cx="846.0" cy="92.5" r="1.35" fill="#0000ff"/>
<circle cx="845.0" cy="94.5" r="1.35" fill="#0000ff"/>
<circle cx="850.0" cy="93.5" r="1.35" fill="#0000ff"/>
<circle cx="852.5" cy="92.5" r="1.35" fill="#0000ff"/>
<circle cx="858.0" cy="95.0" r="1.35" fill="#0000ff"/>
<circle cx="847.0" cy="97.5" r="1.35" fill="#0000ff"/>
<circle cx="853.0" cy="97.0" r="1.35" fill="#0000ff"/>
<circle cx="854.5" cy="96.8" r="1.35" fill="#0000ff"/>
<circle cx="864.0" cy="98.0" r="1.35" fill="#0000ff"/>
<circle cx="867.5" cy="93.0" r="1.35" fill="#0000ff"/>
<circle cx="868.0" cy="95.5" r="1.35" fill="#0000ff"/>
<circle cx="869.5" cy="95.5" r="1.35" fill="#0000ff"/>
<circle cx="867.5" cy="99.8" r="1.35" fill="#0000ff"/>
<circle cx="874.0" cy="87.2" r="1.35" fill="#0000ff"/>
<circle cx="885.0" cy="85.0" r="1.35" fill="#0000ff"/>
<circle cx="897.0" cy="76.0" r="1.35" fill="#0000ff"/>
<circle cx="896.5" cy="78.5" r="1.35" fill="#0000ff"/>
<circle cx="901.5" cy="80.2" r="1.35" fill="#0000ff"/>
<circle cx="904.5" cy="82.2" r="1.35" fill="#0000ff"/>
<circle cx="907.5" cy="77.8" r="1.35" fill="#0000ff"/>
<circle cx="910.5" cy="73.0" r="1.35" fill="#0000ff"/>
<circle cx="911.8" cy="79.0" r="1.35" fill="#0000ff"/>
<circle cx="914.5" cy="75.0" r="1.35" fill="#0000ff"/>
<circle cx="916.0" cy="76.0" r="1.35" fill="#0000ff"/>
<circle cx="921.8" cy="84.5" r="1.35" fill="#0000ff"/>
<circle cx="897.5" cy="84.5" r="1.35" fill="#0000ff"/>
<circle cx="898.5" cy="91.2" r="1.35" fill="#0000ff"/>
<circle cx="891.5" cy="99.8" r="1.35" fill="#0000ff"/>
<circle cx="893.0" cy="104.8" r="1.35" fill="#0000ff"/>
<circle cx="904.0" cy="98.0" r="1.35" fill="#0000ff"/>
<circle cx="910.5" cy="95.5" r="1.35" fill="#0000ff"/>
<circle cx="911.5" cy="95.0" r="1.35" fill="#0000ff"/>
<circle cx="915.0" cy="95.8" r="1.35" fill="#0000ff"/>
<circle cx="918.2" cy="97.5" r="1.35" fill="#0000ff"/>
<circle cx="906.2" cy="102.8" r="1.35" fill="#0000ff"/>
<circle cx="911.5" cy="105.5" r="1.35" fill="#0000ff"/>
<circle cx="903.8" cy="109.0" r="1.35" fill="#0000ff"/>
<circle cx="909.7" cy="114.5" r="1.35" fill="#0000ff"/>
<circle cx="855.8" cy="102.8" r="1.35" fill="#0000ff"/>
<circle cx="859.5" cy="103.2" r="1.35" fill="#0000ff"/>
<circle cx="851.5" cy="105.5" r="1.35" fill="#0000ff"/>
<circle cx="853.0" cy="105.5" r="1.35" fill="#0000ff"/>
<circle cx="861.5" cy="106.0" r="1.35" fill="#0000ff"/>
<circle cx="862.0" cy="108.2" r="1.35" fill="#0000ff"/>
<circle cx="865.5" cy="108.5" r="1.35" fill="#0000ff"/>
<circle cx="874.2" cy="107.5" r="1.35" fill="#0000ff"/>
<circle cx="854.0" cy="110.2" r="1.35" fill="#0000ff"/>
<circle cx="868.0" cy="112.0" r="1.35" fill="#0000ff"/>
<circle cx="860.5" cy="115.0" r="1.35" fill="#0000ff"/>
<circle cx="869.0" cy="117.0" r="1.35" fill="#0000ff"/>
<circle cx="871.0" cy="120.5" r="1.35" fill="#0000ff"/>
<circle cx="851.0" cy="118.0" r="1.35" fill="#0000ff"/>
<circle cx="851.0" cy="120.0" r="1.35" fill="#0000ff"/>
<circle cx="852.5" cy="124.0" r="1.35" fill="#0000ff"/>
<circle cx="864.5" cy="124.5" r="1.35" fill="#0000ff"/>
<circle cx="885.5" cy="121.5" r="1.35" fill="#0000ff"/>
<circle cx="848.0" cy="66.1" r="1.35" fill="#0000ff"/>
<circle cx="850.6" cy="66.2" r="1.35" fill="#0000ff"/>
<circle cx="854.9" cy="79.0" r="1.35" fill="#0000ff"/>
<circle cx="850.6" cy="65.6" r="1.35" fill="#0000ff"/>
<circle cx="861.1" cy="65.2" r="1.35" fill="#0000ff"/>
<circle cx="849.6" cy="71.4" r="1.35" fill="#0000ff"/>
<circle cx="853.6" cy="66.6" r="1.35" fill="#0000ff"/>
<circle cx="854.7" cy="72.2" r="1.35" fill="#0000ff"/>
<circle cx="862.3" cy="78.5" r="1.35" fill="#0000ff"/>
<circle cx="865.6" cy="81.0" r="1.35" fill="#0000ff"/>
<circle cx="862.5" cy="78.9" r="1.35" fill="#0000ff"/>
<circle cx="855.2" cy="85.2" r="1.35" fill="#0000ff"/>
<circle cx="860.1" cy="88.8" r="1.35" fill="#0000ff"/>
<circle cx="861.7" cy="82.2" r="1.35" fill="#0000ff"/>
<circle cx="851.2" cy="85.1" r="1.35" fill="#0000ff"/>
<circle cx="853.8" cy="67.4" r="1.35" fill="#0000ff"/>
<circle cx="846.5" cy="68.4" r="1.35" fill="#0000ff"/>
<circle cx="851.0" cy="81.6" r="1.35" fill="#0000ff"/>
<circle cx="851.6" cy="65.7" r="1.35" fill="#0000ff"/>
<circle cx="862.6" cy="78.5" r="1.35" fill="#0000ff"/>
<circle cx="845.6" cy="65.3" r="1.35" fill="#0000ff"/>
<circle cx="848.0" cy="73.3" r="1.35" fill="#0000ff"/>
<circle cx="864.8" cy="88.7" r="1.35" fill="#0000ff"/>
<circle cx="859.1" cy="70.0" r="1.35" fill="#0000ff"/>
<circle cx="854.9" cy="73.4" r="1.35" fill="#0000ff"/>
<circle cx="739.6" cy="173.2" r="1.55" fill="#0000ff"/>
<text x="739.20" y="170.60" font-size="9" text-anchor="middle" fill="#000" >3</text>
<circle cx="742.8" cy="173.0" r="1.55" fill="#0000ff"/>
<text x="743.40" y="168.80" font-size="9" text-anchor="middle" fill="#000" >4</text>
<circle cx="744.2" cy="173.8" r="1.55" fill="#0000ff"/>
<text x="744.50" y="171.00" font-size="9" text-anchor="middle" fill="#000" >9</text>
<circle cx="749.0" cy="176.0" r="1.55" fill="#0000ff"/>
<text x="749.00" y="173.80" font-size="9" text-anchor="middle" fill="#000" >6</text>
<circle cx="750.0" cy="179.0" r="1.55" fill="#0000ff"/>
<text x="750.00" y="177.00" font-size="9" text-anchor="middle" fill="#000" >2</text>
<circle cx="757.8" cy="178.6" r="1.55" fill="#0000ff"/>
<text x="756.20" y="176.60" font-size="9" text-anchor="middle" fill="#000" >1</text>
<circle cx="760.5" cy="178.6" r="1.55" fill="#0000ff"/>
<text x="760.00" y="176.40" font-size="9" text-anchor="middle" fill="#000" >0</text>
<circle cx="762.0" cy="178.6" r="1.55" fill="#0000ff"/>
<text x="762.20" y="176.40" font-size="9" text-anchor="middle" fill="#000" >5</text>
<circle cx="774.2" cy="184.2" r="1.55" fill="#0000ff"/>
<text x="774.20" y="182.60" font-size="9" text-anchor="middle" fill="#000" >8</text>
</g>
<text y="269.5" font-size="20" fill="#000" style="font-family:'Liberation Serif','Times New Roman',serif"><tspan x="79.6">(a)</tspan><tspan x="111.3">K</tspan><tspan font-size="14" dy="3">v</tspan><tspan dy="-3" x="135.4" font-size="20.8">1.1—TsTXK</tspan><tspan font-style="italic" font-size="20.8" x="245.0">α</tspan></text>
<text y="269.5" font-size="20" fill="#000" style="font-family:'Liberation Serif','Times New Roman',serif"><tspan x="409.6">(b)</tspan><tspan x="441.3">K</tspan><tspan font-size="14" dy="3">v</tspan><tspan dy="-3" x="465.4" font-size="20.8">1.2—TsTXK</tspan><tspan font-style="italic" font-size="20.8" x="575.0">α</tspan></text>
<text y="269.5" font-size="20" fill="#000" style="font-family:'Liberation Serif','Times New Roman',serif"><tspan x="739.6">(c)</tspan><tspan x="771.3">K</tspan><tspan font-size="14" dy="3">v</tspan><tspan dy="-3" x="795.4" font-size="20.8">1.3—TsTXK</tspan><tspan font-style="italic" font-size="20.8" x="905.0">α</tspan></text>
<text y="655.3" font-size="20" fill="#000" style="font-family:'Liberation Serif','Times New Roman',serif"><tspan x="104.2">(d)</tspan><tspan x="136.2">complex #5</tspan></text>
<text y="655.3" font-size="20" fill="#000" style="font-family:'Liberation Serif','Times New Roman',serif"><tspan x="434.2">(e)</tspan><tspan x="466.2">complex #2</tspan></text>
<text y="655.3" font-size="20" fill="#000" style="font-family:'Liberation Serif','Times New Roman',serif"><tspan x="764.2">(f)</tspan><tspan x="796.2">complex #1</tspan></text>
<g><defs><path id="cg1" d="M53,327C52,326 51,322 51,319C51,317 53,315 55,314C56,312 59,312 61,312C63,312 65,314 67,316C68,317 69,320 69,323C69,326 68,329 66,332C64,334 61,337 58,338C55,340 51,341 47,341C44,341 40,340 37,339C34,337 32,335 30,332C29,330 29,327 29,325C29,322 31,320 32,319C34,318 37,317 39,317C41,318 43,319 45,321C46,323 47,326 47,328C47,331 46,334 44,337C42,340 39,342 36,344C33,345 29,346 25,346C22,347 18,345 15,344C12,343 10,340 8,338C7,335 6,332 7,330C7,328 9,326 10,324C12,323 15,322 17,323C19,323 21,324 22,326C24,328 25,331 25,334C24,336 23,340 22,342C20,345 17,348 14,349C10,351 6,352 3,352C-1,352 -5,351 -7,349C-10,348 -13,344 -14,343M44,489C42,488 38,487 36,485C34,484 32,481 32,479C32,477 33,474 34,473C35,471 38,469 40,469C43,469 46,469 49,471C51,472 54,475 56,478C57,481 58,485 58,488C58,492 57,496 55,499C53,502 50,505 47,507C44,508 41,509 38,509C35,509 32,507 30,506C28,504 26,502 26,499C26,497 27,494 28,493C29,491 32,490 34,489C37,489 40,490 43,491C45,493 48,495 50,498C51,501 52,505 52,509C52,512 51,516 49,519C47,522 44,525 41,527C38,528 33,529 32,529M58,329C58,330 55,334 53,335C51,336 48,337 46,336C44,336 42,334 41,332C40,330 40,327 41,325C41,323 43,320 45,319C48,317 51,316 55,315C58,315 62,316 65,317C68,319 72,321 74,324C76,327 78,331 78,334C79,337 78,341 77,344C76,346 74,349 72,350C70,351 67,351 65,351C63,350 61,349 60,347C59,345 59,342 59,340C60,338 62,335 64,333C66,332 70,330 73,330C76,330 81,331 84,332C87,334 90,336 93,339C95,342 96,346 97,349C97,352 96,357 96,359M69,422C69,423 68,427 66,428C65,430 62,431 61,431C59,431 57,430 56,428C55,427 54,425 54,423C54,421 55,418 57,417C58,415 61,413 63,412C66,411 69,411 72,411C75,412 78,413 81,415C83,417 85,420 86,422C87,425 88,428 87,430C87,433 85,435 84,436C83,438 80,439 79,439C77,439 75,438 74,437C73,435 72,433 72,431C72,429 73,426 75,425C76,423 79,421 81,420C84,419 87,419 90,419C93,420 96,421 99,423C101,425 103,428 104,430C105,433 105,437 105,438M83,575C82,576 79,578 77,579C75,580 72,579 70,578C69,577 67,575 67,574C67,572 67,569 68,568C69,566 71,564 74,563C76,562 79,561 82,562C85,562 88,563 90,565C93,567 95,570 96,573C97,575 97,579 97,582C96,584 95,587 93,589C92,591 89,593 87,593C85,594 83,593 81,592C79,592 78,590 78,588C77,586 78,584 79,582C80,580 82,578 84,577C87,576 90,575 93,576C95,576 99,578 101,579C103,581 105,584 106,587C107,590 108,593 107,596C107,599 104,602 104,603M157,367C156,368 156,373 155,375C154,377 152,379 150,379C148,380 145,380 143,379C141,378 139,375 139,373C138,371 138,368 139,365C140,362 142,359 145,357C147,356 151,354 155,354C158,353 162,353 166,355C169,356 172,358 174,361C177,363 178,366 178,369C179,372 178,375 177,377C176,379 174,381 172,382C170,382 167,382 165,381C163,380 161,378 161,375C160,373 160,370 161,367C162,365 164,362 167,360C169,358 173,356 176,356C180,355 184,356 187,357C191,358 194,361 196,363C198,365 199,370 200,371M208,317C208,316 207,310 207,308C208,305 210,303 212,302C214,300 216,300 218,301C221,301 223,303 224,306C226,308 226,312 226,315C226,318 225,322 223,325C221,327 217,330 214,331C211,333 207,333 203,333C200,332 196,331 193,328C191,326 188,323 187,320C186,317 186,313 187,311C187,308 189,306 191,304C193,303 196,303 198,303C200,304 202,306 204,308C205,311 206,314 205,317C205,321 204,325 202,327C200,330 197,333 193,334C190,336 186,336 183,336C179,335 175,333 173,331C170,329 168,324 167,323M202,354C200,355 197,358 195,358C192,359 189,358 188,357C186,356 184,354 184,352C183,350 184,347 185,345C186,343 188,340 191,339C194,338 197,338 201,339C204,339 208,341 210,343C213,346 216,349 217,352C218,356 219,360 218,363C218,366 216,370 215,372C213,374 210,376 208,376C205,377 202,376 200,375C199,374 197,372 196,370C196,367 196,365 198,362C199,360 201,358 204,357C207,356 210,356 214,356C217,357 221,359 223,361C226,363 228,367 230,370C231,373 232,378 231,381C231,384 228,388 227,390M241,459C241,458 239,455 239,453C239,451 240,448 241,447C242,446 245,445 246,445C248,445 250,446 252,448C253,449 254,452 254,454C255,457 254,460 253,463C251,465 249,468 246,470C243,472 240,473 236,474C233,474 230,474 227,473C224,472 221,470 220,468C218,466 217,463 217,461C217,459 218,457 219,456C221,454 223,454 225,454C226,454 229,455 230,456C231,458 233,460 233,463C233,465 232,469 231,471C229,474 227,477 224,478C222,480 218,482 215,482C212,483 208,482 205,481C202,480 199,478 198,477C196,475 195,472 195,470C195,468 196,466 198,464C199,463 201,462 203,462C205,462 207,463 208,465C210,466 211,469 211,471C211,474 211,477 209,480C208,482 205,485 203,487C200,489 196,490 193,491C190,491 186,491 183,490C180,489 177,486 176,485M247,449C246,450 246,454 245,457C244,459 242,461 239,461C237,462 234,462 232,461C230,460 228,458 227,456C225,454 225,450 226,448C226,445 228,442 230,440C233,438 236,436 239,435C243,435 247,435 250,436C253,437 257,439 259,441C261,443 262,446 263,449C263,452 263,455 261,457C260,459 258,461 256,462C253,463 250,463 248,462C246,461 244,459 243,456C242,454 241,451 242,448C243,446 244,443 247,440C249,438 252,437 256,436C259,435 263,435 266,436C270,437 273,439 275,441C277,444 279,447 279,450C280,452 279,455 278,458C277,460 274,462 272,462C270,463 267,463 265,462C262,461 260,459 259,457C258,455 258,452 258,449C259,446 261,443 263,441C265,439 269,437 272,436C275,436 279,436 283,437C286,438 289,440 291,442C293,444 295,449 295,450M273,499C273,497 271,493 272,490C272,488 274,485 276,484C277,483 280,482 282,483C284,483 286,485 287,487C289,490 289,493 289,496C289,499 288,503 286,506C284,508 281,511 278,513C275,514 271,515 267,514C264,514 260,512 257,511C255,509 252,505 251,503C250,500 249,496 250,494C250,491 252,489 254,488C255,486 258,486 260,487C262,487 264,489 265,491C267,493 267,497 267,500C267,503 266,507 264,509C262,512 259,515 256,516C253,518 249,518 245,518C242,518 238,516 235,514C233,512 230,508 229,506M248,550C247,549 243,546 242,543C241,541 241,538 241,536C242,534 244,531 246,530C248,529 251,529 253,530C256,531 259,533 261,535C263,537 264,541 265,544C265,547 265,551 263,555C262,558 260,561 257,563C254,564 250,566 247,566C244,566 240,565 237,563C234,562 232,559 231,557C230,554 229,551 230,549C230,547 232,545 234,544C236,543 239,543 242,543C245,544 248,546 250,548C251,551 253,554 254,558C254,561 254,565 252,568C251,571 248,574 245,576C243,578 239,579 235,579C232,579 227,577 226,577M252,570C251,569 247,567 245,565C244,564 243,561 243,559C244,557 245,554 247,553C248,551 251,550 253,551C255,551 258,552 260,554C262,556 264,559 265,562C266,565 266,569 265,572C264,575 262,579 260,582C258,584 254,587 251,588C248,589 245,589 242,588C240,588 237,586 236,584C234,582 233,580 234,578C234,575 235,573 237,572C238,570 241,569 243,569C246,570 249,571 251,573C252,574 254,577 255,580C256,583 256,587 255,591C254,594 252,598 250,600C248,603 245,605 242,606C239,608 235,608 233,607C230,607 227,605 226,603C224,601 224,598 224,596C224,594 225,592 227,590C229,589 231,588 234,588C236,588 239,590 241,591C243,593 245,596 245,599C246,602 246,606 245,610C245,613 243,617 240,619C238,622 235,624 232,625C229,626 224,626 223,626M312,329C311,328 306,327 305,325C303,324 302,321 302,319C302,317 303,315 304,314C306,313 308,312 311,313C313,313 316,314 318,316C320,318 323,321 324,324C325,327 325,331 325,334C324,337 322,341 320,343C318,346 315,348 312,349C309,350 305,350 302,350C299,349 296,348 295,346C293,344 292,342 292,340C292,338 293,336 294,335C296,334 298,333 301,334C303,334 306,335 308,337C310,339 313,342 314,345C315,348 315,352 315,355C314,358 312,362 310,364C308,367 305,369 302,370C299,371 294,371 292,371"/></defs><use href="#cg1" fill="none" stroke="#e4e4e4" stroke-width="3.0" stroke-linecap="round"/><use href="#cg1" fill="none" stroke="#f4f4f4" stroke-width="1.2" stroke-linecap="round"/><defs><path id="cg2" d="M45,366C44,366 40,365 39,363C37,362 36,360 36,358C36,356 37,354 38,353C40,351 42,350 44,350C46,350 48,350 50,352C52,353 54,355 55,358C56,360 56,364 56,367C55,370 54,373 52,376C51,378 48,380 46,382C43,383 40,383 38,383C36,383 34,382 32,381C31,379 30,377 30,375C30,373 31,371 32,370C33,368 35,367 37,367C39,367 42,368 43,369C45,370 47,373 48,375C49,378 49,381 49,384C49,387 47,390 46,393C44,395 42,398 39,399C37,400 33,400 32,401M28,418C27,419 27,425 25,428C24,430 21,432 18,433C16,434 12,433 10,432C8,431 5,428 5,425C4,422 4,418 5,415C6,411 8,408 11,405C14,403 19,401 23,400C27,400 31,400 35,402C39,404 43,407 45,410C47,413 49,417 49,420C49,424 48,428 46,430C45,433 42,435 39,436C37,437 33,436 31,435C29,433 26,431 26,428C25,425 25,421 26,417C27,414 29,410 32,408C35,406 40,404 44,403C48,403 53,403 56,405C60,406 64,409 66,412C68,415 70,420 70,423C70,427 69,431 67,433C66,436 63,438 60,439C58,439 54,439 52,438C50,436 47,433 47,430C46,428 46,423 47,420C48,417 51,413 53,411C56,408 61,406 65,406C69,405 74,406 77,408C81,409 85,412 87,415C89,418 90,424 91,426M26,434C25,433 21,434 19,433C17,432 16,430 15,429C14,427 15,425 15,424C16,423 18,421 20,421C22,420 25,420 27,421C30,422 32,424 34,427C36,429 37,432 38,435C38,438 38,442 37,445C36,448 34,451 32,453C29,455 27,456 24,457C22,457 19,457 17,456C15,455 13,453 13,452C12,450 12,448 13,447C14,446 16,444 18,444C20,443 23,443 25,444C27,445 30,447 32,450C34,452 35,455 36,458C36,461 36,465 35,468C34,471 32,474 30,476C27,478 23,479 22,479M40,563C39,562 37,559 36,558C35,556 36,553 36,552C37,550 39,548 41,548C42,547 45,547 47,548C48,549 50,550 51,552C52,554 53,557 53,560C52,563 51,566 49,568C48,571 45,573 42,575C40,576 36,577 34,577C31,577 28,576 26,575C24,574 23,572 22,570C22,568 22,566 23,564C24,562 25,561 27,560C29,559 31,559 33,560C35,561 37,563 38,565C39,567 39,570 39,572C39,575 38,578 36,581C34,583 31,586 29,587C26,588 23,589 20,589C18,589 15,589 13,587C11,586 9,584 9,582C8,580 8,578 9,576C10,575 12,573 14,572C15,572 18,572 19,573C21,573 23,575 24,577C25,579 26,582 25,585C25,587 24,591 22,593C21,595 18,598 15,599C13,601 9,602 7,602C4,602 0,600 -1,600M78,367C78,366 75,363 74,361C74,359 74,356 75,354C76,352 78,351 80,350C82,349 85,349 87,350C89,351 91,353 92,355C93,357 94,361 93,363C93,366 91,370 89,372C87,375 84,377 82,379C79,380 75,381 72,381C69,381 66,380 64,378C62,377 61,375 60,373C60,370 60,368 61,366C62,364 64,363 66,362C68,361 71,361 73,362C75,363 77,365 78,367C79,369 79,372 79,375C79,378 77,382 75,384C73,387 70,389 67,391C64,392 61,393 58,393C55,393 52,392 50,390C48,389 46,386 46,384C45,382 46,380 47,378C48,376 50,374 52,374C54,373 57,373 59,374C60,375 63,377 64,379C65,381 65,384 65,387C64,390 63,393 61,396C59,399 56,401 53,403C50,404 47,405 44,405C41,405 37,403 36,402M84,444C83,444 78,444 76,443C74,442 72,440 71,438C70,436 70,433 71,431C72,429 74,427 76,426C79,425 82,425 84,426C87,426 90,428 92,430C94,433 96,436 97,439C98,443 98,447 97,450C96,453 94,457 91,459C89,461 86,462 83,463C81,464 77,463 75,462C73,461 71,459 71,457C70,455 70,452 71,450C72,448 74,446 76,445C78,444 81,444 84,445C87,445 90,447 92,449C94,452 96,455 96,458C97,462 97,466 96,469C95,472 93,476 91,478C89,480 84,481 83,482M92,544C91,543 86,542 83,540C81,538 80,535 79,532C79,529 80,526 81,523C83,521 86,519 89,518C92,517 95,518 98,519C101,520 104,523 106,526C108,529 109,534 110,538C110,541 108,546 107,550C105,553 102,556 98,558C95,560 91,561 88,561C85,561 81,559 79,557C77,555 75,552 75,549C75,546 76,543 77,541C79,538 82,536 85,535C87,535 91,535 94,536C97,538 100,540 102,543C104,546 105,551 105,555C105,559 104,563 102,567C101,570 97,573 94,575C91,577 86,577 84,578M112,324C110,323 105,321 103,319C101,317 99,313 99,311C99,308 101,305 102,303C104,301 108,299 111,299C114,299 118,300 121,302C123,304 126,307 128,311C129,314 130,319 130,323C129,326 128,331 125,334C123,337 119,340 115,341C112,343 108,343 104,342C101,342 97,340 95,338C93,335 92,332 92,329C92,327 93,323 95,321C97,319 100,318 103,318C106,318 110,318 113,320C116,322 119,326 120,329C122,332 123,337 122,341C122,345 120,349 118,352C115,356 112,358 108,360C105,361 99,361 97,361M132,364C131,365 129,369 126,371C124,372 121,373 118,373C116,372 113,371 111,369C109,367 108,364 108,361C108,358 109,355 111,353C113,350 116,348 119,347C123,346 127,346 131,347C134,348 138,350 141,352C144,355 146,359 147,362C148,365 148,369 147,372C147,375 144,378 142,379C140,381 137,381 134,381C132,381 129,379 127,377C125,375 124,372 124,369C124,367 125,363 127,361C129,359 132,356 135,356C139,355 143,354 147,355C150,356 154,358 157,361C160,363 162,367 163,370C164,373 163,379 163,380M118,417C117,419 114,423 111,424C109,426 105,426 103,426C100,425 98,423 96,421C95,419 94,415 95,413C95,410 97,406 99,404C102,402 106,400 109,400C113,399 117,399 121,401C125,402 129,405 131,408C134,411 135,415 136,419C137,422 136,426 135,429C133,432 131,435 128,437C126,438 122,438 120,438C117,437 115,435 113,433C112,431 111,428 112,425C112,422 114,419 116,416C119,414 123,412 126,412C130,411 134,411 138,413C142,414 145,417 148,420C150,423 152,427 153,431C154,434 153,438 152,441C150,444 148,447 145,449C143,450 139,450 137,450C134,449 132,447 130,445C129,443 128,440 129,437C129,434 131,431 133,428C136,426 140,424 143,424C147,423 151,423 155,425C159,426 162,429 165,432C167,435 169,439 170,443C171,446 169,452 169,454M116,445C116,443 115,438 116,436C117,433 119,431 122,430C124,428 127,428 129,429C132,429 134,431 136,433C137,436 138,439 138,442C138,445 136,449 134,452C132,455 128,457 125,459C122,460 117,460 114,460C110,459 106,458 103,456C100,453 98,450 97,447C96,444 96,441 97,438C98,435 100,433 103,432C105,431 108,430 110,431C113,431 115,433 117,436C118,438 119,442 119,445C119,448 117,451 115,454C113,457 109,460 106,461C103,462 98,463 95,462C91,462 87,460 84,458C81,456 79,451 78,449M126,530C125,531 122,535 119,537C117,538 113,538 111,537C108,536 106,534 105,532C103,530 103,527 103,524C104,521 105,518 108,516C110,514 114,512 117,512C120,511 125,512 128,513C131,515 135,517 137,520C139,523 141,527 141,530C141,534 140,538 139,541C137,543 135,546 132,547C130,548 126,548 124,547C121,547 119,545 118,542C116,540 116,537 116,534C117,531 118,528 121,526C123,524 127,522 130,522C133,521 138,522 141,523C144,525 148,528 150,530C152,533 154,537 154,541C154,544 152,549 152,551M164,328C163,327 158,328 155,326C153,325 151,323 150,321C150,319 150,316 151,314C152,312 154,310 157,309C159,309 162,309 165,310C168,311 171,313 174,315C176,318 178,322 178,325C179,329 179,333 178,337C176,340 174,344 171,346C169,349 165,350 162,351C160,351 156,351 154,350C152,349 150,346 149,344C148,342 148,339 149,337C150,336 153,334 155,333C157,332 161,332 164,333C167,334 170,336 172,339C174,341 176,345 177,349C177,352 177,357 176,360C175,364 172,367 170,370C167,372 162,373 161,374M148,522C147,523 143,527 140,528C138,529 134,529 132,528C130,527 127,525 127,523C126,520 126,517 127,514C128,512 130,508 133,507C136,505 140,504 143,504C147,504 151,505 154,506C158,508 161,512 162,515C164,518 165,522 165,526C165,530 163,534 161,536C159,539 156,541 154,542C151,543 147,543 145,542C143,541 141,539 140,536C139,534 139,531 140,528C141,525 143,522 146,521C149,519 153,517 157,517C160,517 164,518 168,520C171,522 174,525 176,529C177,532 178,536 178,540C178,543 176,547 174,550C173,553 169,555 167,556C164,557 161,557 158,556C156,555 154,553 153,550C152,548 152,544 153,542C154,539 157,536 159,534C162,533 166,531 170,531C173,531 178,532 181,534C184,536 187,539 189,542C191,546 191,550 191,554C191,557 188,562 188,564M210,493C210,492 208,487 208,484C208,482 210,479 212,478C213,476 216,475 218,475C221,476 224,477 225,479C227,481 228,484 229,487C229,490 228,494 226,497C225,500 222,503 219,505C215,507 211,508 207,509C203,509 199,508 196,507C193,506 190,503 188,501C186,498 186,495 186,492C186,490 188,487 189,485C191,484 194,483 196,483C198,483 201,484 203,486C205,488 206,491 206,494C207,497 206,501 204,504C202,507 199,511 196,513C193,515 189,516 185,516C181,517 177,516 174,515C170,513 167,509 166,508M202,538C201,539 197,543 194,543C191,544 188,544 185,543C183,541 181,539 180,536C179,534 179,530 181,528C182,525 184,522 187,521C190,519 194,518 198,518C201,519 205,520 209,522C212,524 215,528 216,531C218,535 219,539 218,543C218,546 216,550 214,553C212,555 209,557 206,558C203,559 200,558 198,557C195,556 193,553 192,551C192,548 192,545 193,542C194,540 197,537 199,535C202,534 206,533 210,533C213,533 218,534 221,537C224,539 227,542 229,546C230,549 231,554 231,557C230,561 227,565 227,567M235,580C235,578 232,575 232,573C232,571 232,568 234,567C235,565 237,564 239,564C241,564 243,564 245,566C247,567 248,570 249,572C249,575 249,578 248,581C247,584 245,587 243,589C240,592 236,594 233,594C230,595 226,595 223,595C220,594 217,592 215,590C213,589 212,586 212,584C212,581 213,579 214,577C215,576 217,575 219,575C221,574 223,575 225,576C227,578 228,580 229,583C230,586 229,589 228,592C227,595 225,598 223,600C220,602 217,604 213,605C210,606 206,606 203,605C200,605 197,603 195,601C194,599 192,597 192,594C192,592 193,590 194,588C195,587 197,585 199,585C201,585 204,586 205,587C207,589 209,591 209,594C210,596 209,600 208,603C207,606 205,609 203,611C200,613 197,615 193,616C190,617 186,617 183,616C180,616 177,613 176,612M235,370C235,371 235,375 233,377C232,379 230,380 228,381C226,381 224,381 222,380C220,380 218,378 218,376C217,374 217,371 217,369C218,367 220,364 222,362C224,361 228,359 231,359C234,358 237,359 240,360C243,361 246,362 248,364C250,366 251,369 252,372C252,374 252,377 251,378C249,380 247,382 245,382C244,383 241,383 239,382C237,381 235,379 235,377C234,375 234,373 234,370C235,368 237,365 239,364C241,362 245,361 248,360C251,360 254,360 257,361C260,362 263,364 265,366C267,368 268,371 269,373C269,375 269,378 268,380C267,382 264,383 262,384C261,384 258,384 256,383C254,382 253,380 252,379C251,377 251,374 252,372C252,369 254,367 256,365C258,363 262,362 265,361C268,361 272,361 274,362C277,363 280,365 282,367C284,369 285,373 286,374M316,442C315,441 311,437 311,434C310,431 310,428 311,426C312,424 315,423 317,422C319,422 322,422 324,424C327,425 329,428 330,431C332,434 332,438 332,442C332,445 330,449 328,452C326,455 322,457 319,458C315,460 311,460 308,459C304,459 301,457 298,455C296,452 294,449 293,447C292,444 293,441 294,439C295,437 297,435 300,435C302,434 305,435 307,436C309,438 312,441 313,444C314,447 315,451 315,454C314,458 313,462 310,464C308,467 305,470 301,471C298,472 294,472 290,472C287,471 282,468 281,467M313,508C313,506 311,500 311,497C312,494 313,491 315,489C317,487 321,486 323,486C326,487 329,488 331,491C334,493 335,497 336,501C336,504 336,509 334,513C333,516 330,520 326,522C323,524 319,526 315,526C311,526 306,525 303,523C299,521 296,517 294,514C293,511 292,507 292,503C293,500 294,497 296,495C298,493 302,492 304,492C307,493 310,494 312,497C315,499 316,503 317,507C317,510 317,515 315,519C314,522 311,526 307,528C304,531 300,532 296,532C292,532 287,531 284,529C280,527 277,523 275,520C274,517 273,513 273,509C274,506 275,503 277,501C279,499 283,498 285,499C288,499 291,501 293,503C296,505 297,509 298,513C298,517 298,521 296,525C295,528 292,532 289,534C285,537 281,538 277,538C273,538 268,537 265,535C261,533 258,528 256,526M292,520C290,520 285,520 283,518C281,517 279,514 278,512C278,509 278,506 279,504C280,502 282,499 285,498C287,497 291,497 294,498C297,499 300,501 302,504C304,507 306,511 307,514C307,518 307,523 306,526C304,530 302,534 299,536C297,538 293,540 290,540C287,541 284,540 281,539C279,537 277,535 277,532C276,530 276,526 277,524C278,522 281,520 283,519C286,518 289,517 292,518C295,519 298,521 300,524C302,527 304,531 305,535C306,539 305,543 304,547C303,550 300,554 298,556C295,559 291,560 288,561C285,561 282,560 280,559C277,558 276,555 275,553C274,550 274,547 275,545C277,542 279,540 281,539C284,538 287,538 290,539C293,540 296,542 299,545C301,547 303,551 303,555C304,559 303,564 302,567C301,571 299,575 296,577C293,579 288,581 287,581M290,582C289,583 285,587 282,588C279,589 276,589 273,588C271,587 268,584 268,582C267,579 267,576 268,573C269,570 272,567 275,565C277,564 282,562 286,562C290,562 294,564 298,566C301,568 304,571 306,575C308,579 309,583 309,587C309,591 308,595 306,598C304,601 301,603 298,604C295,605 291,605 289,604C287,603 284,601 283,598C283,596 283,592 284,590C285,587 287,584 290,582C293,580 298,579 302,579C305,579 310,580 314,582C317,584 320,588 322,592C324,595 325,600 325,604C325,607 324,612 322,615C320,618 317,620 314,621C311,622 307,622 305,621C303,620 300,617 299,615C298,613 298,609 300,606C301,604 303,600 306,599C309,597 314,595 317,596C321,596 326,597 329,599C333,601 336,605 338,608C340,612 341,616 341,620C341,624 338,629 338,631"/></defs><use href="#cg2" fill="none" stroke="#d8d8d8" stroke-width="3.0" stroke-linecap="round"/><use href="#cg2" fill="none" stroke="#efefef" stroke-width="1.2" stroke-linecap="round"/><defs><path id="cg3" d="M37,538C35,539 32,542 29,543C27,543 24,543 22,542C19,541 17,538 17,536C16,533 16,530 17,528C18,525 20,523 23,521C25,520 29,519 32,520C36,520 40,522 43,524C46,526 48,529 50,532C52,536 52,540 52,543C52,547 50,550 49,552C47,555 44,556 41,557C39,558 36,557 33,556C31,555 29,552 28,550C28,548 28,544 29,542C30,540 32,537 35,536C37,534 41,534 44,534C48,534 52,536 55,538C57,540 60,543 62,547C63,550 64,554 64,557C64,561 61,565 60,567M98,484C98,482 96,477 96,474C96,472 98,468 100,466C102,464 105,463 108,463C111,462 115,463 117,465C119,467 121,470 122,473C123,476 123,480 122,483C120,487 118,490 115,493C112,495 107,497 104,498C100,499 95,498 92,497C89,496 86,493 84,490C82,488 81,484 81,481C82,478 83,475 85,473C87,471 91,470 93,469C96,469 100,470 102,472C105,473 107,476 108,480C108,483 108,487 107,490C106,493 103,497 100,500C97,502 93,504 89,505C85,505 81,505 77,504C74,502 71,500 69,497C67,494 66,491 67,488C67,485 69,482 71,480C73,478 76,476 79,476C82,476 85,477 87,478C90,480 92,483 93,486C94,489 93,493 92,497C91,500 88,504 85,506C82,509 78,511 74,511C70,512 66,511 63,510C59,509 56,505 54,504M135,492C133,491 129,492 127,491C125,490 124,488 123,486C122,485 122,482 123,481C124,479 126,477 128,477C130,476 133,476 136,477C138,478 141,479 143,482C145,484 146,487 147,490C148,493 147,497 146,500C145,503 143,506 141,508C139,510 136,511 133,511C131,512 128,511 126,511C124,510 122,508 122,506C121,504 121,502 122,500C123,499 125,497 127,497C129,496 132,496 134,497C137,497 140,499 142,501C144,504 145,507 146,510C146,513 146,517 145,519C144,522 142,525 140,527C138,529 134,531 132,531M114,569C113,569 110,572 108,573C106,573 103,573 102,572C100,571 98,569 98,567C97,566 98,563 98,561C99,559 101,557 104,556C106,555 109,555 112,555C114,555 118,556 120,558C122,560 125,563 126,565C127,568 128,571 127,574C127,577 126,580 124,582C123,584 121,585 119,586C117,586 114,586 112,585C111,584 109,582 109,581C108,579 108,576 109,574C110,573 112,571 114,570C117,568 120,568 122,568C125,568 128,570 131,571C133,573 135,576 137,579C138,581 138,585 138,587C138,590 136,594 135,595M182,399C180,398 175,398 172,396C170,395 168,392 167,389C166,387 167,384 168,381C169,379 172,377 175,376C178,375 182,376 185,377C189,378 192,380 195,383C197,386 199,391 199,395C200,399 199,403 198,407C196,411 193,414 190,416C187,419 182,420 179,420C176,421 172,419 169,418C166,416 164,413 164,411C163,408 163,405 165,403C166,401 169,399 172,398C175,397 179,397 182,398C185,400 189,402 191,405C194,408 196,412 196,416C197,420 196,425 194,429C193,432 190,436 187,438C184,440 178,441 176,442M168,452C166,452 162,455 159,455C156,455 153,454 151,452C149,451 148,448 147,445C147,443 148,439 150,437C152,435 155,433 158,432C161,431 166,432 169,433C173,434 177,437 179,440C182,443 184,447 185,451C186,455 185,459 184,463C183,466 181,470 178,472C176,474 172,475 169,476C166,476 163,475 161,473C159,471 158,468 158,466C158,463 158,460 160,458C162,456 165,453 168,453C172,452 176,452 179,453C183,455 187,457 189,460C192,463 194,467 195,471C196,475 196,480 195,483C193,487 191,490 188,493C186,495 182,496 180,496C177,496 173,495 172,493C170,492 168,489 168,486C168,484 169,480 171,478C172,476 176,474 179,473C182,473 186,473 190,474C193,475 197,478 200,481C202,484 205,488 205,492C206,496 206,500 205,504C204,507 200,512 199,513M178,498C177,498 173,497 171,496C170,494 168,492 168,490C168,487 168,485 170,483C171,481 173,479 175,479C177,478 180,478 183,479C185,481 187,483 189,485C190,488 191,491 191,495C191,498 190,502 189,504C187,507 185,510 183,512C180,513 177,514 174,514C172,514 169,513 168,511C166,510 165,507 164,505C164,503 165,500 166,499C167,497 169,495 172,494C174,494 177,494 179,495C181,496 184,498 185,501C186,503 187,507 188,510C188,513 187,517 185,520C184,523 181,526 179,527C177,529 173,530 171,530C168,530 166,529 164,527C162,526 161,523 161,521C160,519 161,516 162,514C163,512 166,511 168,510C170,510 173,510 175,511C177,512 180,514 181,517C183,519 184,523 184,526C184,529 183,533 182,536C180,539 178,541 175,543C173,545 169,545 167,545M175,580C175,578 172,575 172,572C172,570 173,567 174,565C175,563 178,562 180,562C182,562 185,562 187,564C189,565 191,568 192,570C192,573 192,577 191,580C190,583 188,586 186,589C183,591 180,593 176,594C173,595 169,595 166,594C163,593 159,591 157,589C156,587 154,584 154,582C154,579 155,577 156,575C158,573 160,572 162,572C165,571 167,572 169,573C171,575 173,577 174,580C175,583 175,587 174,590C173,593 171,596 168,599C166,601 162,603 159,604C155,605 151,605 148,604C145,603 141,600 140,599M216,407C215,408 212,412 209,413C207,414 203,413 201,413C199,412 196,410 195,407C194,405 194,402 195,399C196,397 198,394 200,392C203,390 206,389 210,389C213,389 217,390 220,391C223,393 227,396 228,399C230,402 231,406 231,409C232,413 230,417 229,419C227,422 224,424 222,425C219,426 216,426 214,425C212,424 209,422 208,419C207,417 207,414 208,411C209,409 211,406 213,404C215,402 219,401 222,401C226,401 230,402 233,403C236,405 239,408 241,411C243,414 244,418 244,422C244,425 243,429 242,431C240,434 237,436 235,437C232,438 229,438 227,437C224,436 222,434 221,431C220,429 220,426 220,423C221,421 223,418 226,416C228,415 232,413 235,413C239,413 243,414 246,416C249,417 252,420 254,423C256,426 257,430 257,434C257,437 255,442 254,443M247,319C246,320 244,323 242,323C240,324 237,324 235,323C234,322 232,320 232,318C231,316 231,314 232,312C233,310 235,308 237,307C240,306 243,306 246,306C249,307 252,308 255,310C257,313 260,316 261,319C263,322 264,325 264,328C264,331 263,334 261,336C260,338 258,340 256,341C254,341 251,341 250,340C248,339 246,337 246,335C245,333 245,331 246,329C247,327 249,325 252,324C254,323 257,323 260,324C263,324 266,326 269,328C272,330 274,333 276,336C277,339 278,343 278,345C278,348 277,352 276,354C274,356 272,357 270,358C268,358 265,358 264,357C262,356 261,354 260,352C259,351 260,348 260,346C261,344 263,343 266,342C268,341 271,340 274,341C277,341 281,343 283,345C286,347 288,350 290,353C291,356 292,360 292,363C292,366 290,370 290,371M267,399C265,399 260,397 259,395C257,392 256,389 256,387C256,384 257,381 259,379C261,377 264,376 267,375C270,375 273,376 276,378C278,380 281,383 282,387C283,390 284,395 283,399C283,403 281,407 278,410C276,413 272,416 269,418C265,419 261,420 258,419C255,418 252,416 250,414C248,412 247,409 247,406C247,404 249,401 251,399C252,397 256,395 258,395C261,395 265,396 267,398C270,400 272,403 274,406C275,410 275,415 275,418C274,422 272,427 270,430C267,433 264,436 260,437C257,439 253,439 250,439C247,438 243,436 242,434C240,432 239,429 239,426C239,423 240,420 242,418C244,417 247,415 250,415C253,415 256,416 259,418C261,419 264,423 265,426C266,430 267,434 266,438C266,442 264,447 261,450C259,453 255,456 252,457C248,459 243,458 241,458M330,361C329,361 326,358 326,356C325,354 326,351 327,350C328,348 330,347 332,346C333,346 336,346 338,347C339,348 341,350 342,352C343,354 343,358 343,360C342,363 340,367 338,369C336,372 333,374 330,375C327,377 324,377 321,377C318,377 315,376 313,375C311,373 309,371 309,369C308,367 309,365 310,363C311,361 313,360 314,359C316,359 319,359 320,360C322,361 324,363 325,365C326,368 326,371 325,374C325,376 323,380 321,382C319,385 316,387 313,389C310,390 306,391 303,391C300,391 297,389 295,388C294,387 292,384 292,382C291,380 291,378 292,376C293,375 295,373 297,373C299,372 301,372 303,373C305,374 307,376 308,379C308,381 309,384 308,387C308,390 306,393 304,396C302,398 299,401 296,402C293,403 289,404 286,404C283,404 280,402 278,401M295,391C294,391 290,394 287,394C285,394 282,393 280,391C278,389 277,387 276,384C276,382 277,379 278,376C279,374 282,372 285,372C288,371 291,371 295,372C298,373 301,375 304,378C306,381 308,385 309,389C310,392 310,397 310,400C309,403 307,406 305,408C303,410 299,411 297,411C294,411 291,410 289,408C288,407 286,404 286,402C285,399 286,396 287,394C289,392 292,390 294,389C297,388 301,388 304,389C307,391 311,393 313,396C316,399 318,403 319,406C320,410 320,414 319,417C318,421 316,424 314,426C312,428 309,429 306,429C304,429 301,428 299,426C297,424 296,422 295,419C295,417 296,414 297,411C298,409 301,407 304,407C307,406 310,406 313,407C317,408 320,410 323,413C325,416 327,420 328,424C329,427 329,432 329,435C328,438 324,442 324,443"/></defs><use href="#cg3" fill="none" stroke="#cbcbcb" stroke-width="3.0" stroke-linecap="round"/><use href="#cg3" fill="none" stroke="#eaeaea" stroke-width="1.2" stroke-linecap="round"/><defs><radialGradient id="gy" cx="0.42" cy="0.4" r="0.6"><stop offset="0" stop-color="#fffbe2"/><stop offset="0.7" stop-color="#fff2b6"/><stop offset="1" stop-color="#fbe9a4"/></radialGradient><radialGradient id="gc" cx="0.42" cy="0.4" r="0.6"><stop offset="0" stop-color="#e4fbff"/><stop offset="0.7" stop-color="#c0f2fa"/><stop offset="1" stop-color="#ade9f3"/></radialGradient></defs><circle cx="146.9" cy="302.0" r="6.6" fill="url(#gy)" opacity="0.85"/><circle cx="22.9" cy="362.0" r="6.6" fill="url(#gy)" opacity="0.85"/><circle cx="79.5" cy="358.6" r="6.6" fill="url(#gy)" opacity="0.85"/><circle cx="106.0" cy="379.0" r="6.6" fill="url(#gy)" opacity="0.85"/><circle cx="76.0" cy="421.0" r="6.2" fill="url(#gc)" opacity="0.9"/><circle cx="98.0" cy="439.0" r="6.6" fill="url(#gy)" opacity="0.85"/><circle cx="202.0" cy="363.0" r="6.2" fill="url(#gc)" opacity="0.9"/><circle cx="262.0" cy="351.0" r="6.6" fill="url(#gy)" opacity="0.85"/><circle cx="265.0" cy="364.0" r="6.6" fill="url(#gy)" opacity="0.85"/><circle cx="181.0" cy="385.0" r="6.6" fill="url(#gy)" opacity="0.85"/><circle cx="238.0" cy="382.0" r="6.6" fill="url(#gy)" opacity="0.85"/><circle cx="12.0" cy="477.6" r="6.6" fill="url(#gy)" opacity="0.85"/><circle cx="66.4" cy="510.0" r="6.6" fill="url(#gy)" opacity="0.85"/><circle cx="65.0" cy="542.6" r="6.6" fill="url(#gy)" opacity="0.85"/><circle cx="305.8" cy="456.0" r="6.6" fill="url(#gy)" opacity="0.85"/><circle cx="234.6" cy="466.8" r="6.6" fill="url(#gy)" opacity="0.85"/><circle cx="288.6" cy="476.7" r="6.2" fill="url(#gc)" opacity="0.9"/><circle cx="269.4" cy="552.0" r="6.6" fill="url(#gy)" opacity="0.85"/><circle cx="285.3" cy="550.5" r="6.6" fill="url(#gy)" opacity="0.85"/><circle cx="317.4" cy="578.7" r="6.6" fill="url(#gy)" opacity="0.85"/><circle cx="247.9" cy="545.0" r="6.6" fill="url(#gy)" opacity="0.85"/><circle cx="153.0" cy="556.0" r="6.2" fill="url(#gc)" opacity="0.9"/><circle cx="73.0" cy="600.0" r="6.6" fill="url(#gy)" opacity="0.85"/><circle cx="188.0" cy="590.0" r="6.6" fill="url(#gy)" opacity="0.85"/><circle cx="316.0" cy="311.0" r="6.6" fill="url(#gy)" opacity="0.85"/><path d="M100.5,353.0 L108.0,356.8" fill="none" stroke="#5aa7a9" stroke-width="3.4" stroke-linecap="round" stroke-linejoin="round"/><path d="M100.5,353.0 L108.0,356.8" fill="none" stroke="#a8e0e0" stroke-width="1.2" stroke-linecap="round" stroke-linejoin="round"/><path d="M99.8,357.0 L99.8,365.0 L108.0,368.0 L108.0,375.6 L106.6,384.6 L105.0,387.6" fill="none" stroke="#5aa7a9" stroke-width="3.4" stroke-linecap="round" stroke-linejoin="round"/><path d="M99.8,357.0 L99.8,365.0 L108.0,368.0 L108.0,375.6 L106.6,384.6 L105.0,387.6" fill="none" stroke="#a8e0e0" stroke-width="1.2" stroke-linecap="round" stroke-linejoin="round"/><path d="M135.2,350.0 L145.7,363.6 L147.2,374.0" fill="none" stroke="#5aa7a9" stroke-width="3.4" stroke-linecap="round" stroke-linejoin="round"/><path d="M135.2,350.0 L145.7,363.6 L147.2,374.0" fill="none" stroke="#a8e0e0" stroke-width="1.2" stroke-linecap="round" stroke-linejoin="round"/><path d="M152.0,363.5 L157.2,367.3 L155.2,373.5 L148.8,373.4 L146.8,367.3 L152.0,363.5" fill="none" stroke="#5aa7a9" stroke-width="3.4" stroke-linecap="round" stroke-linejoin="round"/><path d="M152.0,363.5 L157.2,367.3 L155.2,373.5 L148.8,373.4 L146.8,367.3 L152.0,363.5" fill="none" stroke="#a8e0e0" stroke-width="1.2" stroke-linecap="round" stroke-linejoin="round"/><path d="M102.0,414.8 L120.0,405.7" fill="none" stroke="#5aa7a9" stroke-width="3.4" stroke-linecap="round" stroke-linejoin="round"/><path d="M102.0,414.8 L120.0,405.7" fill="none" stroke="#a8e0e0" stroke-width="1.2" stroke-linecap="round" stroke-linejoin="round"/><path d="M57.8,353.8 L66.2,362.2 L67.4,371.9 L74.6,369.5 L80.7,379.1" fill="none" stroke="#5aa7a9" stroke-width="3.4" stroke-linecap="round" stroke-linejoin="round"/><path d="M57.8,353.8 L66.2,362.2 L67.4,371.9 L74.6,369.5 L80.7,379.1" fill="none" stroke="#a8e0e0" stroke-width="1.2" stroke-linecap="round" stroke-linejoin="round"/><path d="M229.0,384.0 L238.0,382.6 L248.6,384.0 L259.0,383.3" fill="none" stroke="#5aa7a9" stroke-width="3.4" stroke-linecap="round" stroke-linejoin="round"/><path d="M229.0,384.0 L238.0,382.6 L248.6,384.0 L259.0,383.3" fill="none" stroke="#a8e0e0" stroke-width="1.2" stroke-linecap="round" stroke-linejoin="round"/><path d="M227.5,423.3 L236.5,417.2 L242.5,414.2 L254.6,412.7" fill="none" stroke="#5aa7a9" stroke-width="3.4" stroke-linecap="round" stroke-linejoin="round"/><path d="M227.5,423.3 L236.5,417.2 L242.5,414.2 L254.6,412.7" fill="none" stroke="#a8e0e0" stroke-width="1.2" stroke-linecap="round" stroke-linejoin="round"/><path d="M236.0,421.0 L232.5,425.8 L227.0,423.9 L227.0,418.1 L232.5,416.2 L236.0,421.0" fill="none" stroke="#5aa7a9" stroke-width="3.4" stroke-linecap="round" stroke-linejoin="round"/><path d="M236.0,421.0 L232.5,425.8 L227.0,423.9 L227.0,418.1 L232.5,416.2 L236.0,421.0" fill="none" stroke="#a8e0e0" stroke-width="1.2" stroke-linecap="round" stroke-linejoin="round"/><path d="M216.4,522.4 L226.4,529.0 L229.7,539.0 L233.0,555.5" fill="none" stroke="#5aa7a9" stroke-width="3.4" stroke-linecap="round" stroke-linejoin="round"/><path d="M216.4,522.4 L226.4,529.0 L229.7,539.0 L233.0,555.5" fill="none" stroke="#a8e0e0" stroke-width="1.2" stroke-linecap="round" stroke-linejoin="round"/><path d="M239.6,545.6 L249.5,547.2 L252.8,558.8" fill="none" stroke="#5aa7a9" stroke-width="3.4" stroke-linecap="round" stroke-linejoin="round"/><path d="M239.6,545.6 L249.5,547.2 L252.8,558.8" fill="none" stroke="#a8e0e0" stroke-width="1.2" stroke-linecap="round" stroke-linejoin="round"/><path d="M91.9,481.2 L87.9,485.7 L82.0,484.5 L80.1,478.8 L84.1,474.3 L90.0,475.5 L91.9,481.2" fill="none" stroke="#5aa7a9" stroke-width="3.4" stroke-linecap="round" stroke-linejoin="round"/><path d="M91.9,481.2 L87.9,485.7 L82.0,484.5 L80.1,478.8 L84.1,474.3 L90.0,475.5 L91.9,481.2" fill="none" stroke="#a8e0e0" stroke-width="1.2" stroke-linecap="round" stroke-linejoin="round"/><path d="M90.8,488.4 L96.2,493.8" fill="none" stroke="#5aa7a9" stroke-width="3.4" stroke-linecap="round" stroke-linejoin="round"/><path d="M90.8,488.4 L96.2,493.8" fill="none" stroke="#a8e0e0" stroke-width="1.2" stroke-linecap="round" stroke-linejoin="round"/><path d="M50.0,530.4 L57.0,523.6 L55.6,515.5 L65.0,512.8 L67.8,507.4" fill="none" stroke="#5aa7a9" stroke-width="3.4" stroke-linecap="round" stroke-linejoin="round"/><path d="M50.0,530.4 L57.0,523.6 L55.6,515.5 L65.0,512.8 L67.8,507.4" fill="none" stroke="#a8e0e0" stroke-width="1.2" stroke-linecap="round" stroke-linejoin="round"/><path d="M65.0,548.0 L70.5,540.0 L76.0,542.6" fill="none" stroke="#5aa7a9" stroke-width="3.4" stroke-linecap="round" stroke-linejoin="round"/><path d="M65.0,548.0 L70.5,540.0 L76.0,542.6" fill="none" stroke="#a8e0e0" stroke-width="1.2" stroke-linecap="round" stroke-linejoin="round"/><path d="M114.0,564.0 L120.0,566.0 L126.0,562.0 L132.0,560.0 L138.0,558.0 L142.0,555.0 L148.0,554.0 L154.0,554.0 L158.0,552.0" fill="none" stroke="#5aa7a9" stroke-width="3.4" stroke-linecap="round" stroke-linejoin="round"/><path d="M114.0,564.0 L120.0,566.0 L126.0,562.0 L132.0,560.0 L138.0,558.0 L142.0,555.0 L148.0,554.0 L154.0,554.0 L158.0,552.0" fill="none" stroke="#a8e0e0" stroke-width="1.2" stroke-linecap="round" stroke-linejoin="round"/><path d="M166.0,526.0 L172.0,520.0 L178.0,518.0" fill="none" stroke="#5aa7a9" stroke-width="3.4" stroke-linecap="round" stroke-linejoin="round"/><path d="M166.0,526.0 L172.0,520.0 L178.0,518.0" fill="none" stroke="#a8e0e0" stroke-width="1.2" stroke-linecap="round" stroke-linejoin="round"/><path d="M102.0,496.0 L112.0,498.0 L118.0,492.0 L126.0,492.0" fill="none" stroke="#5aa7a9" stroke-width="3.4" stroke-linecap="round" stroke-linejoin="round"/><path d="M102.0,496.0 L112.0,498.0 L118.0,492.0 L126.0,492.0" fill="none" stroke="#a8e0e0" stroke-width="1.2" stroke-linecap="round" stroke-linejoin="round"/><path d="M120.0,488.0 L121.0,503.0" fill="none" stroke="#5aa7a9" stroke-width="3.4" stroke-linecap="round" stroke-linejoin="round"/><path d="M120.0,488.0 L121.0,503.0" fill="none" stroke="#a8e0e0" stroke-width="1.2" stroke-linecap="round" stroke-linejoin="round"/><path d="M40.0,578.0 L48.0,570.0 L56.0,566.0" fill="none" stroke="#5aa7a9" stroke-width="3.4" stroke-linecap="round" stroke-linejoin="round"/><path d="M40.0,578.0 L48.0,570.0 L56.0,566.0" fill="none" stroke="#a8e0e0" stroke-width="1.2" stroke-linecap="round" stroke-linejoin="round"/><path d="M146,419C146.9,418.8 149.2,417.9 151.7,417.8C154.2,417.7 157.5,418.8 160.8,418.5C164.1,418.2 168.4,417.7 171.3,416.3C174.2,414.9 176.5,412.7 178.1,410.2C179.7,407.7 180.1,404.3 181.1,401.2C182.1,398.1 182.4,394.1 183.8,391.6C185.2,389.1 187,387.5 189.8,386.4C192.6,385.3 197.6,384.4 200.4,384.8C203.2,385.2 205.2,386.7 206.4,388.6C207.7,390.5 207.4,393.6 207.9,396.1C208.4,398.6 208.2,401.4 209.4,403.7C210.7,406 213.4,407.4 215.4,409.7C217.4,411.9 219.6,414.7 221.4,417.2C223.2,419.7 225.5,423 226,424.8C226.5,426.6 226.3,427.6 224.5,427.8C222.7,428.1 218.9,426.1 215.4,426.3C211.9,426.6 206.7,427.6 203.4,429.3C200.1,431.1 197.3,434.4 195.8,436.8C194.3,439.2 193.5,440.6 194.3,444C195.1,447.4 197.8,453 200.6,457.4C203.4,461.8 208,467.3 211.2,470.1C214.4,472.9 218.2,473.6 219.6,474.3" fill="none" stroke="#c85a5a" stroke-width="5.2" stroke-linecap="round" stroke-linejoin="round" opacity="0.88"/><path d="M146,419C146.9,418.8 149.2,417.9 151.7,417.8C154.2,417.7 157.5,418.8 160.8,418.5C164.1,418.2 168.4,417.7 171.3,416.3C174.2,414.9 176.5,412.7 178.1,410.2C179.7,407.7 180.1,404.3 181.1,401.2C182.1,398.1 182.4,394.1 183.8,391.6C185.2,389.1 187,387.5 189.8,386.4C192.6,385.3 197.6,384.4 200.4,384.8C203.2,385.2 205.2,386.7 206.4,388.6C207.7,390.5 207.4,393.6 207.9,396.1C208.4,398.6 208.2,401.4 209.4,403.7C210.7,406 213.4,407.4 215.4,409.7C217.4,411.9 219.6,414.7 221.4,417.2C223.2,419.7 225.5,423 226,424.8C226.5,426.6 226.3,427.6 224.5,427.8C222.7,428.1 218.9,426.1 215.4,426.3C211.9,426.6 206.7,427.6 203.4,429.3C200.1,431.1 197.3,434.4 195.8,436.8C194.3,439.2 193.5,440.6 194.3,444C195.1,447.4 197.8,453 200.6,457.4C203.4,461.8 208,467.3 211.2,470.1C214.4,472.9 218.2,473.6 219.6,474.3" fill="none" stroke="#e77b7b" stroke-width="3.6" stroke-linecap="round" stroke-linejoin="round" opacity="0.88"/><path d="M146,419C146.9,418.8 149.2,417.9 151.7,417.8C154.2,417.7 157.5,418.8 160.8,418.5C164.1,418.2 168.4,417.7 171.3,416.3C174.2,414.9 176.5,412.7 178.1,410.2C179.7,407.7 180.1,404.3 181.1,401.2C182.1,398.1 182.4,394.1 183.8,391.6C185.2,389.1 187,387.5 189.8,386.4C192.6,385.3 197.6,384.4 200.4,384.8C203.2,385.2 205.2,386.7 206.4,388.6C207.7,390.5 207.4,393.6 207.9,396.1C208.4,398.6 208.2,401.4 209.4,403.7C210.7,406 213.4,407.4 215.4,409.7C217.4,411.9 219.6,414.7 221.4,417.2C223.2,419.7 225.5,423 226,424.8C226.5,426.6 226.3,427.6 224.5,427.8C222.7,428.1 218.9,426.1 215.4,426.3C211.9,426.6 206.7,427.6 203.4,429.3C200.1,431.1 197.3,434.4 195.8,436.8C194.3,439.2 193.5,440.6 194.3,444C195.1,447.4 197.8,453 200.6,457.4C203.4,461.8 208,467.3 211.2,470.1C214.4,472.9 218.2,473.6 219.6,474.3" fill="none" stroke="#f6b8b8" stroke-width="1.2" stroke-linecap="round" stroke-linejoin="round" opacity="0.55" transform="translate(-0.6,-0.6)"/><path d="M143.5,380C143.6,381.7 144,385.8 144.2,390C144.4,394.2 144.2,401 144.5,405C144.8,409 145.1,411.3 146,414C146.9,416.7 149.8,418.6 150,421C150.2,423.4 147.9,425.8 147.2,428.3C146.5,430.8 145.9,433.4 145.7,435.8C145.5,438.2 146.2,440.5 146,443C145.8,445.5 144.7,449.5 144.4,450.8" fill="none" stroke="#c85a5a" stroke-width="5.2" stroke-linecap="round" stroke-linejoin="round" opacity="0.88"/><path d="M143.5,380C143.6,381.7 144,385.8 144.2,390C144.4,394.2 144.2,401 144.5,405C144.8,409 145.1,411.3 146,414C146.9,416.7 149.8,418.6 150,421C150.2,423.4 147.9,425.8 147.2,428.3C146.5,430.8 145.9,433.4 145.7,435.8C145.5,438.2 146.2,440.5 146,443C145.8,445.5 144.7,449.5 144.4,450.8" fill="none" stroke="#e77b7b" stroke-width="3.6" stroke-linecap="round" stroke-linejoin="round" opacity="0.88"/><path d="M143.5,380C143.6,381.7 144,385.8 144.2,390C144.4,394.2 144.2,401 144.5,405C144.8,409 145.1,411.3 146,414C146.9,416.7 149.8,418.6 150,421C150.2,423.4 147.9,425.8 147.2,428.3C146.5,430.8 145.9,433.4 145.7,435.8C145.5,438.2 146.2,440.5 146,443C145.8,445.5 144.7,449.5 144.4,450.8" fill="none" stroke="#f6b8b8" stroke-width="1.2" stroke-linecap="round" stroke-linejoin="round" opacity="0.55" transform="translate(-0.6,-0.6)"/><path d="M129,417C128.1,418.4 124,422.4 123.5,425.6C123,428.8 124.6,433.6 126.3,436.2C128,438.8 131.3,440 133.6,441.5C135.9,443 138.2,443.4 140,445C141.8,446.6 143.7,449.8 144.4,450.8" fill="none" stroke="#c85a5a" stroke-width="5.2" stroke-linecap="round" stroke-linejoin="round" opacity="0.88"/><path d="M129,417C128.1,418.4 124,422.4 123.5,425.6C123,428.8 124.6,433.6 126.3,436.2C128,438.8 131.3,440 133.6,441.5C135.9,443 138.2,443.4 140,445C141.8,446.6 143.7,449.8 144.4,450.8" fill="none" stroke="#e77b7b" stroke-width="3.6" stroke-linecap="round" stroke-linejoin="round" opacity="0.88"/><path d="M129,417C128.1,418.4 124,422.4 123.5,425.6C123,428.8 124.6,433.6 126.3,436.2C128,438.8 131.3,440 133.6,441.5C135.9,443 138.2,443.4 140,445C141.8,446.6 143.7,449.8 144.4,450.8" fill="none" stroke="#f6b8b8" stroke-width="1.2" stroke-linecap="round" stroke-linejoin="round" opacity="0.55" transform="translate(-0.6,-0.6)"/><path d="M112,440C112.7,441.3 116.1,445.2 116,448C115.9,450.8 113.6,453.4 111.4,456.7C109.2,460 105.8,463.7 103,467.9C100.2,472.1 96.8,477.2 94.7,481.8C92.6,486.4 91.5,491.1 90.5,495.7C89.5,500.3 89.3,505.4 89,509.6C88.7,513.8 88,518.3 88.5,521C89,523.7 91.4,525.2 92,526" fill="none" stroke="#c85a5a" stroke-width="5.2" stroke-linecap="round" stroke-linejoin="round" opacity="0.88"/><path d="M112,440C112.7,441.3 116.1,445.2 116,448C115.9,450.8 113.6,453.4 111.4,456.7C109.2,460 105.8,463.7 103,467.9C100.2,472.1 96.8,477.2 94.7,481.8C92.6,486.4 91.5,491.1 90.5,495.7C89.5,500.3 89.3,505.4 89,509.6C88.7,513.8 88,518.3 88.5,521C89,523.7 91.4,525.2 92,526" fill="none" stroke="#e77b7b" stroke-width="3.6" stroke-linecap="round" stroke-linejoin="round" opacity="0.88"/><path d="M112,440C112.7,441.3 116.1,445.2 116,448C115.9,450.8 113.6,453.4 111.4,456.7C109.2,460 105.8,463.7 103,467.9C100.2,472.1 96.8,477.2 94.7,481.8C92.6,486.4 91.5,491.1 90.5,495.7C89.5,500.3 89.3,505.4 89,509.6C88.7,513.8 88,518.3 88.5,521C89,523.7 91.4,525.2 92,526" fill="none" stroke="#f6b8b8" stroke-width="1.2" stroke-linecap="round" stroke-linejoin="round" opacity="0.55" transform="translate(-0.6,-0.6)"/><path d="M119.7,449.5C121.9,450.2 129.6,452.2 133,454C136.4,455.8 138.8,459 140,460" fill="none" stroke="#c85a5a" stroke-width="5.2" stroke-linecap="round" stroke-linejoin="round" opacity="0.88"/><path d="M119.7,449.5C121.9,450.2 129.6,452.2 133,454C136.4,455.8 138.8,459 140,460" fill="none" stroke="#e77b7b" stroke-width="3.6" stroke-linecap="round" stroke-linejoin="round" opacity="0.88"/><path d="M119.7,449.5C121.9,450.2 129.6,452.2 133,454C136.4,455.8 138.8,459 140,460" fill="none" stroke="#f6b8b8" stroke-width="1.2" stroke-linecap="round" stroke-linejoin="round" opacity="0.55" transform="translate(-0.6,-0.6)"/><path d="M152.3,500C152.7,502 154.5,508 154.7,512C154.9,516 153.9,520.3 153.5,524C153.1,527.7 152.5,532.3 152.3,534" fill="none" stroke="#c85a5a" stroke-width="5.2" stroke-linecap="round" stroke-linejoin="round" opacity="0.88"/><path d="M152.3,500C152.7,502 154.5,508 154.7,512C154.9,516 153.9,520.3 153.5,524C153.1,527.7 152.5,532.3 152.3,534" fill="none" stroke="#e77b7b" stroke-width="3.6" stroke-linecap="round" stroke-linejoin="round" opacity="0.88"/><path d="M152.3,500C152.7,502 154.5,508 154.7,512C154.9,516 153.9,520.3 153.5,524C153.1,527.7 152.5,532.3 152.3,534" fill="none" stroke="#f6b8b8" stroke-width="1.2" stroke-linecap="round" stroke-linejoin="round" opacity="0.55" transform="translate(-0.6,-0.6)"/><path d="M155.2,417.5C156.9,417.9 162.9,418.7 165.7,420.2C168.4,421.7 170.2,423.8 171.7,426.3C173.2,428.8 174.2,432.7 174.8,435.3C175.4,437.9 175,440.9 175,442" fill="none" stroke="#c85a5a" stroke-width="5.2" stroke-linecap="round" stroke-linejoin="round" opacity="0.88"/><path d="M155.2,417.5C156.9,417.9 162.9,418.7 165.7,420.2C168.4,421.7 170.2,423.8 171.7,426.3C173.2,428.8 174.2,432.7 174.8,435.3C175.4,437.9 175,440.9 175,442" fill="none" stroke="#e77b7b" stroke-width="3.6" stroke-linecap="round" stroke-linejoin="round" opacity="0.88"/><path d="M155.2,417.5C156.9,417.9 162.9,418.7 165.7,420.2C168.4,421.7 170.2,423.8 171.7,426.3C173.2,428.8 174.2,432.7 174.8,435.3C175.4,437.9 175,440.9 175,442" fill="none" stroke="#f6b8b8" stroke-width="1.2" stroke-linecap="round" stroke-linejoin="round" opacity="0.55" transform="translate(-0.6,-0.6)"/><path d="M220.5,469.6C217.6,468.8 209,465.8 203,465.3C197.1,464.8 189.8,464.7 184.7,466.6C179.5,468.4 174.7,472.5 172.2,476.4C169.7,480.3 168.7,485.5 169.5,489.8C170.4,494.2 173.6,499.6 177.2,502.6C180.8,505.5 186.9,506.3 191.3,507.4C195.7,508.6 200.7,508.6 203.7,509.6C206.7,510.5 208.2,512.7 209.1,513.3L213.3,507.1C212.1,506.3 209.5,503.6 206.1,502.4C202.7,501.3 197.2,501.1 193.1,500.2C189.1,499.2 184.5,498.6 181.8,496.6C179.1,494.7 177.4,491 176.9,488.4C176.3,485.7 176.7,483 178.4,480.6C180.1,478.1 183.1,475 187.1,473.6C191.1,472.3 197.1,472.2 202.4,472.7C207.6,473.3 216,476.2 218.7,476.8Z" fill="#e77b7b" stroke="#c85a5a" stroke-width="0.9" stroke-linejoin="round" opacity="0.88"/><path d="M210,508.5C206.8,509.5 197.2,513.2 191.1,515C185.1,516.8 178.2,517 173.6,519.4C169,521.9 165.2,525.8 163.5,529.8C161.8,533.8 161.8,539.4 163.5,543.3C165.1,547.3 169.3,551 173.4,553.5C177.4,556 182.8,557.9 187.7,558.2C192.5,558.6 198.6,557.8 202.4,555.7C206.2,553.5 208.8,549.2 210.5,545.3C212.2,541.4 211.7,536.5 212.7,532.2C213.8,528 216.2,521.8 216.9,519.8L209.7,517.4C209,519.6 206.5,526.2 205.5,530.4C204.4,534.6 204.6,539.4 203.5,542.5C202.4,545.6 201.3,547.7 198.8,549.1C196.2,550.5 191.9,551.1 188.3,550.8C184.7,550.4 180.2,548.8 177.2,547.1C174.2,545.3 171.5,542.7 170.3,540.3C169.2,537.9 169.2,535.2 170.3,532.8C171.4,530.5 173.2,527.9 177,526.2C180.8,524.4 187.4,524 193.3,522.2C199.2,520.4 209.2,516.7 212.4,515.5Z" fill="#e77b7b" stroke="#c85a5a" stroke-width="0.9" stroke-linejoin="round" opacity="0.88"/><path d="M135.5,455.8 L134.7,474.0 L135.5,490.2 L132.5,490.4 L142.5,503.0 L147.5,489.6 L144.5,489.8 L143.7,474.0 L144.5,456.2Z" fill="#e77b7b" stroke="#c85a5a" stroke-width="0.9" stroke-linejoin="round" opacity="0.88"/><path d="M180.7,499.2 L177.2,479.3 L175.7,465.5 L179.9,465.0 L171.5,432.0 L162.1,467.0 L166.3,466.5 L167.8,480.7 L171.3,500.8Z" fill="#e77b7b" stroke="#c85a5a" stroke-width="0.9" stroke-linejoin="round" opacity="0.88"/><path d="M131.4,354.5 L132.2,362.0 L135.2,369.6 L136.7,375.6 L138.2,380.0 L144.2,387.7 L144.2,395.2" fill="none" stroke="#4d3c3c" stroke-width="5.0" stroke-linecap="round" stroke-linejoin="round"/><path d="M131.4,354.5 L132.2,362.0 L135.2,369.6 L136.7,375.6 L138.2,380.0 L144.2,387.7 L144.2,395.2" fill="none" stroke="#f0dede" stroke-width="2.0" stroke-linecap="round" stroke-linejoin="round"/><path d="M90.0,383.0 L96.0,387.7 L99.0,386.0" fill="none" stroke="#4d3c3c" stroke-width="5.0" stroke-linecap="round" stroke-linejoin="round"/><path d="M90.0,383.0 L96.0,387.7 L99.0,386.0" fill="none" stroke="#f0dede" stroke-width="2.0" stroke-linecap="round" stroke-linejoin="round"/><path d="M96.0,390.7 L93.0,399.7 L99.0,405.7 L108.0,411.7 L114.8,416.3 L123.1,425.3" fill="none" stroke="#4d3c3c" stroke-width="5.0" stroke-linecap="round" stroke-linejoin="round"/><path d="M96.0,390.7 L93.0,399.7 L99.0,405.7 L108.0,411.7 L114.8,416.3 L123.1,425.3" fill="none" stroke="#f0dede" stroke-width="2.0" stroke-linecap="round" stroke-linejoin="round"/><path d="M115.6,386.0 L121.6,387.7 L126.1,384.6" fill="none" stroke="#4d3c3c" stroke-width="5.0" stroke-linecap="round" stroke-linejoin="round"/><path d="M115.6,386.0 L121.6,387.7 L126.1,384.6" fill="none" stroke="#f0dede" stroke-width="2.0" stroke-linecap="round" stroke-linejoin="round"/><path d="M121.6,390.7 L123.1,398.2 L133.7,401.2 L135.2,408.7 L139.7,411.7 L145.7,416.3 L147.2,420.8" fill="none" stroke="#4d3c3c" stroke-width="5.0" stroke-linecap="round" stroke-linejoin="round"/><path d="M121.6,390.7 L123.1,398.2 L133.7,401.2 L135.2,408.7 L139.7,411.7 L145.7,416.3 L147.2,420.8" fill="none" stroke="#f0dede" stroke-width="2.0" stroke-linecap="round" stroke-linejoin="round"/><path d="M139.7,414.8 L135.2,420.8 L130.7,428.3 L141.2,432.1" fill="none" stroke="#4d3c3c" stroke-width="5.0" stroke-linecap="round" stroke-linejoin="round"/><path d="M139.7,414.8 L135.2,420.8 L130.7,428.3 L141.2,432.1" fill="none" stroke="#f0dede" stroke-width="2.0" stroke-linecap="round" stroke-linejoin="round"/><path d="M105.0,434.3 L109.6,437.3 L115.6,435.8" fill="none" stroke="#4d3c3c" stroke-width="5.0" stroke-linecap="round" stroke-linejoin="round"/><path d="M105.0,434.3 L109.6,437.3 L115.6,435.8" fill="none" stroke="#f0dede" stroke-width="2.0" stroke-linecap="round" stroke-linejoin="round"/><path d="M109.6,437.3 L112.0,446.0 L119.0,452.0 L124.0,460.0 L130.0,466.0 L135.0,469.0" fill="none" stroke="#4d3c3c" stroke-width="5.0" stroke-linecap="round" stroke-linejoin="round"/><path d="M109.6,437.3 L112.0,446.0 L119.0,452.0 L124.0,460.0 L130.0,466.0 L135.0,469.0" fill="none" stroke="#f0dede" stroke-width="2.0" stroke-linecap="round" stroke-linejoin="round"/><path d="M191.3,376.6 L194.3,372.0 L203.4,369.0 L212.4,369.0 L224.5,372.0 L230.5,375.0" fill="none" stroke="#4d3c3c" stroke-width="5.0" stroke-linecap="round" stroke-linejoin="round"/><path d="M191.3,376.6 L194.3,372.0 L203.4,369.0 L212.4,369.0 L224.5,372.0 L230.5,375.0" fill="none" stroke="#f0dede" stroke-width="2.0" stroke-linecap="round" stroke-linejoin="round"/><path d="M191.3,376.6 L192.1,387.1 L188.3,390.1" fill="none" stroke="#4d3c3c" stroke-width="5.0" stroke-linecap="round" stroke-linejoin="round"/><path d="M191.3,376.6 L192.1,387.1 L188.3,390.1" fill="none" stroke="#f0dede" stroke-width="2.0" stroke-linecap="round" stroke-linejoin="round"/><path d="M215.4,387.1 L212.4,394.6 L209.4,402.2 L207.9,405.2" fill="none" stroke="#4d3c3c" stroke-width="5.0" stroke-linecap="round" stroke-linejoin="round"/><path d="M215.4,387.1 L212.4,394.6 L209.4,402.2 L207.9,405.2" fill="none" stroke="#f0dede" stroke-width="2.0" stroke-linecap="round" stroke-linejoin="round"/><path d="M215.4,387.1 L221.4,385.6" fill="none" stroke="#4d3c3c" stroke-width="5.0" stroke-linecap="round" stroke-linejoin="round"/><path d="M215.4,387.1 L221.4,385.6" fill="none" stroke="#f0dede" stroke-width="2.0" stroke-linecap="round" stroke-linejoin="round"/><path d="M202.0,510.0 L212.0,508.0 L220.0,512.0 L228.0,510.0 L236.0,516.0 L240.0,520.0 L246.0,530.0" fill="none" stroke="#4d3c3c" stroke-width="5.0" stroke-linecap="round" stroke-linejoin="round"/><path d="M202.0,510.0 L212.0,508.0 L220.0,512.0 L228.0,510.0 L236.0,516.0 L240.0,520.0 L246.0,530.0" fill="none" stroke="#f0dede" stroke-width="2.0" stroke-linecap="round" stroke-linejoin="round"/><path d="M88.0,518.0 L91.0,524.0 L100.0,527.0 L105.0,526.0" fill="none" stroke="#4d3c3c" stroke-width="5.0" stroke-linecap="round" stroke-linejoin="round"/><path d="M88.0,518.0 L91.0,524.0 L100.0,527.0 L105.0,526.0" fill="none" stroke="#f0dede" stroke-width="2.0" stroke-linecap="round" stroke-linejoin="round"/><path d="M178.0,552.0 L186.0,550.0 L190.0,546.0 L194.0,540.0 L200.0,540.0 L202.0,534.0" fill="none" stroke="#4d3c3c" stroke-width="5.0" stroke-linecap="round" stroke-linejoin="round"/><path d="M178.0,552.0 L186.0,550.0 L190.0,546.0 L194.0,540.0 L200.0,540.0 L202.0,534.0" fill="none" stroke="#f0dede" stroke-width="2.0" stroke-linecap="round" stroke-linejoin="round"/><path d="M143.0,531.0 L149.7,535.8 L147.1,543.7 L138.9,543.7 L136.3,535.8 L143.0,531.0" fill="none" stroke="#4d3c3c" stroke-width="5.0" stroke-linecap="round" stroke-linejoin="round"/><path d="M143.0,531.0 L149.7,535.8 L147.1,543.7 L138.9,543.7 L136.3,535.8 L143.0,531.0" fill="none" stroke="#f0dede" stroke-width="2.0" stroke-linecap="round" stroke-linejoin="round"/><path d="M143.0,531.0 L146.0,522.0" fill="none" stroke="#4d3c3c" stroke-width="5.0" stroke-linecap="round" stroke-linejoin="round"/><path d="M143.0,531.0 L146.0,522.0" fill="none" stroke="#f0dede" stroke-width="2.0" stroke-linecap="round" stroke-linejoin="round"/><path d="M160.1,490.4 L154.2,494.0 L148.0,490.6 L147.9,483.6 L153.8,480.0 L160.0,483.4 L160.1,490.4" fill="none" stroke="#4d3c3c" stroke-width="5.0" stroke-linecap="round" stroke-linejoin="round"/><path d="M160.1,490.4 L154.2,494.0 L148.0,490.6 L147.9,483.6 L153.8,480.0 L160.0,483.4 L160.1,490.4" fill="none" stroke="#f0dede" stroke-width="2.0" stroke-linecap="round" stroke-linejoin="round"/><path d="M150.0,480.0 L146.0,470.0 L142.0,466.0" fill="none" stroke="#4d3c3c" stroke-width="5.0" stroke-linecap="round" stroke-linejoin="round"/><path d="M150.0,480.0 L146.0,470.0 L142.0,466.0" fill="none" stroke="#f0dede" stroke-width="2.0" stroke-linecap="round" stroke-linejoin="round"/><path d="M158.0,452.0 L167.0,450.0" fill="none" stroke="#4d3c3c" stroke-width="5.0" stroke-linecap="round" stroke-linejoin="round"/><path d="M158.0,452.0 L167.0,450.0" fill="none" stroke="#f0dede" stroke-width="2.0" stroke-linecap="round" stroke-linejoin="round"/><path d="M168.0,448.0 L172.0,452.0 L170.0,456.0" fill="none" stroke="#8a2020" stroke-width="4.6" stroke-linecap="round" stroke-linejoin="round"/><path d="M168.0,448.0 L172.0,452.0 L170.0,456.0" fill="none" stroke="#b03a3a" stroke-width="2.0" stroke-linecap="round" stroke-linejoin="round"/><g font-size="23.5" fill="#000" stroke="#000" stroke-width="0.3" style="font-family:'Liberation Sans',Arial,sans-serif"><text x="112.0" y="343.0">N30</text><text x="195.4" y="349.4">R8</text><text x="40.9" y="412.8">K32</text><text x="242.3" y="406.5">S10</text><text x="44.5" y="449.9">K34</text><text x="43.7" y="491.1">F2</text><text x="251.8" y="526.7">K18</text><text x="81.5" y="555.3">V1</text><text x="111.4" y="588.0">P37</text><text x="167.0" y="588.0">K23</text></g></g>
<g><defs><path id="cg4" d="M382,339C382,338 380,335 380,333C380,331 381,329 383,328C384,326 386,326 388,326C389,326 392,327 393,328C394,330 395,332 395,335C396,337 395,340 394,342C393,345 390,347 388,349C386,350 382,352 379,352C376,352 373,352 371,350C368,349 366,347 365,345C363,344 363,341 363,339C363,337 364,335 365,334C366,332 369,332 370,332C372,332 374,333 375,334C377,336 378,338 378,341C378,343 378,346 376,348C375,351 373,353 371,355C368,356 365,358 362,358C359,358 356,358 353,357C351,355 348,352 347,352M402,443C401,442 397,439 396,437C395,434 395,431 395,429C396,427 398,425 400,424C402,424 405,424 407,425C410,426 412,428 414,431C416,433 417,437 417,441C417,444 416,448 415,452C413,455 410,458 407,460C404,462 399,463 396,463C392,463 389,462 386,461C383,459 381,456 379,454C378,452 378,449 379,447C379,445 381,443 383,442C385,441 388,441 391,442C393,443 396,445 398,448C399,451 401,455 401,458C401,461 400,466 398,469C396,472 393,475 390,477C387,479 383,480 380,480C376,481 371,478 369,478M402,506C401,506 398,508 396,508C394,508 391,507 390,506C389,504 388,502 388,500C388,499 389,496 390,495C392,494 394,492 397,492C399,492 402,492 405,493C407,494 410,496 412,499C414,501 415,504 415,507C416,510 415,513 414,516C413,518 411,521 409,522C407,524 405,525 403,525C400,525 398,524 397,522C396,521 395,519 395,517C395,515 396,513 397,512C399,510 401,509 404,509C406,508 409,509 412,510C414,511 417,513 419,515C420,518 422,521 422,524C423,527 422,530 421,533C420,535 417,538 416,539M457,359C455,359 450,361 447,360C444,360 442,358 440,356C439,354 438,351 438,349C439,346 440,343 443,341C445,340 448,338 452,338C455,338 459,339 462,341C465,343 468,346 470,349C472,353 473,357 473,361C473,365 471,369 469,372C467,375 464,378 461,379C458,380 455,381 452,380C449,380 446,378 445,376C443,374 443,371 443,368C443,366 445,363 447,361C450,360 453,358 456,358C460,358 464,359 467,361C470,363 473,366 475,369C476,373 478,377 477,381C477,385 476,389 474,392C472,395 469,398 466,399C463,400 459,401 457,400C454,400 451,398 450,396C448,394 447,391 448,388C448,386 450,383 452,381C454,380 458,378 461,378C464,378 468,379 471,381C474,383 478,386 479,389C481,392 482,397 482,401C482,404 481,409 479,412C477,415 472,418 471,419M469,390C467,389 462,388 460,385C458,383 457,380 457,377C457,375 458,371 460,370C462,368 465,366 468,366C471,366 475,367 478,369C480,371 483,375 484,378C486,382 486,386 486,390C485,394 483,399 481,402C478,405 474,408 471,409C467,411 463,411 460,410C456,410 453,408 451,405C449,403 448,400 448,397C448,395 450,391 451,390C453,388 457,386 460,386C462,386 466,387 469,389C472,391 474,395 476,398C477,402 478,406 477,410C476,414 474,419 472,422C469,425 466,428 462,429C459,431 454,431 451,430C448,430 444,428 442,425C441,423 439,420 439,417C439,415 441,411 443,410C445,408 448,406 451,406C454,406 457,407 460,409C463,411 466,415 467,418C468,422 469,426 468,430C468,434 466,439 463,442C461,445 457,448 453,449C450,451 444,450 442,450M428,505C428,506 429,510 428,512C428,514 426,516 425,516C423,517 421,517 420,516C418,516 417,514 416,512C416,510 416,507 417,504C417,502 419,499 421,497C423,495 427,493 430,493C433,492 436,492 439,493C442,494 445,495 448,497C450,499 451,502 452,505C453,507 453,510 452,512C451,514 450,516 448,517C447,517 445,517 444,517C442,516 441,514 440,512C440,510 439,507 440,505C441,502 443,499 445,497C447,495 450,494 453,493C456,492 460,492 463,493C466,494 469,496 471,498C473,500 475,503 476,505C476,508 476,510 476,512C475,514 474,516 472,517C471,518 469,518 467,517C466,516 464,514 464,512C463,510 463,507 464,505C465,503 466,500 469,498C471,496 474,494 477,493C480,493 484,493 487,493C490,494 493,496 495,498C497,500 499,504 499,505M578,309C577,310 573,313 570,313C567,314 564,313 562,312C560,311 559,308 558,306C558,304 559,301 560,298C562,296 565,294 567,293C570,291 574,291 578,291C581,292 585,293 587,296C590,298 592,301 593,304C594,308 594,312 593,315C592,318 590,321 588,324C585,326 582,327 579,328C577,328 574,328 572,326C570,325 568,323 568,320C568,318 568,315 570,313C571,311 574,308 577,307C580,306 584,305 587,306C590,306 594,308 597,310C599,312 601,316 602,319C603,322 603,326 602,329C602,333 599,336 597,338C595,340 592,342 589,342C586,343 583,342 581,341C579,340 578,337 577,335C577,333 578,330 579,327C581,325 583,323 586,321C589,320 593,320 596,320C600,321 603,322 606,324C609,327 611,330 612,333C613,337 613,341 612,344C611,347 608,351 607,353M595,590C594,591 593,596 591,598C589,600 586,601 583,601C581,601 578,600 576,598C575,597 573,594 573,591C573,588 574,585 576,582C577,579 580,577 584,575C587,574 591,573 595,573C599,574 603,575 606,578C609,580 612,583 613,587C615,590 615,594 615,597C614,600 612,604 610,605C608,607 605,609 603,609C601,609 598,608 596,606C594,604 593,601 592,599C592,596 593,592 595,590C597,587 600,584 603,583C606,581 611,580 614,581C618,581 622,583 625,585C629,587 631,591 633,594C634,597 634,603 634,605M651,443C650,442 647,438 647,436C647,433 648,430 649,428C651,426 653,425 656,424C658,424 661,424 663,426C665,427 667,430 668,433C669,435 669,439 668,443C667,446 665,450 662,453C659,455 655,458 651,459C647,460 643,461 639,460C636,459 633,458 630,455C628,453 627,450 627,448C626,445 627,442 629,440C630,438 633,437 635,436C638,436 641,437 643,438C645,439 647,442 648,445C649,448 649,452 648,455C647,458 644,462 641,465C639,468 635,470 631,471C627,473 623,473 619,472C616,472 612,468 610,468M638,588C638,586 636,580 636,577C637,574 639,570 641,569C643,567 646,566 649,566C652,566 656,568 658,570C660,572 662,576 663,579C663,583 663,588 661,591C660,595 657,598 654,601C651,603 646,604 643,604C639,604 634,603 631,601C628,599 625,596 623,593C621,589 621,585 621,582C622,579 623,576 626,574C628,572 631,571 634,571C637,571 640,573 643,575C645,577 647,581 648,584C648,588 648,593 646,596C645,600 642,603 639,606C636,608 631,609 627,609C623,610 619,608 616,606C612,604 609,601 608,598C606,595 605,590 606,587C606,584 608,581 610,579C613,577 616,576 619,576C622,576 625,578 627,580C630,582 632,586 632,590C633,593 633,598 631,601C630,605 627,608 624,611C620,613 616,614 612,614C608,615 604,613 601,611C597,609 594,604 593,603"/></defs><use href="#cg4" fill="none" stroke="#e4e4e4" stroke-width="3.0" stroke-linecap="round"/><use href="#cg4" fill="none" stroke="#f4f4f4" stroke-width="1.2" stroke-linecap="round"/><defs><path id="cg5" d="M356,373C355,374 353,377 351,377C349,378 346,378 344,377C343,376 341,374 340,372C340,371 340,368 341,366C341,364 343,362 345,361C347,360 351,360 353,360C356,360 360,362 362,363C365,365 367,368 369,371C370,374 371,377 371,380C371,383 370,386 369,388C368,390 366,391 364,392C362,393 359,392 358,391C356,391 354,389 354,387C353,385 353,383 354,381C355,379 356,377 358,376C361,375 364,374 366,375C369,375 373,376 375,378C378,380 380,383 382,386C383,388 384,392 384,395C384,397 383,401 382,402M351,409C349,410 344,411 342,410C340,410 337,408 336,407C334,405 334,402 334,400C334,398 336,395 338,394C340,392 343,391 346,391C349,391 352,391 355,393C358,394 361,397 362,400C364,403 365,406 365,410C365,413 363,416 362,419C360,422 357,424 355,425C352,427 349,427 346,426C344,426 341,424 340,423C338,421 338,418 338,416C338,414 340,411 342,410C344,408 347,407 350,407C353,407 356,407 359,409C362,410 365,413 366,416C368,419 369,422 369,426C369,429 367,432 366,435C364,438 361,440 359,441C356,442 353,443 350,442C348,442 345,440 344,439C342,437 342,434 342,432C342,430 344,427 346,426C348,424 351,423 354,423C357,423 360,423 363,425C366,426 369,429 370,432C372,435 373,438 373,441C373,445 372,448 370,451C368,454 364,456 363,457M374,443C372,442 367,441 365,439C363,437 362,434 362,432C361,430 363,427 364,426C366,424 369,423 372,423C374,423 378,424 381,426C383,428 386,431 388,434C389,438 390,442 390,446C389,449 388,453 385,456C383,459 380,462 376,463C373,464 369,465 365,464C362,464 359,462 357,460C355,458 353,455 353,453C353,451 354,448 356,447C357,445 360,444 363,444C366,444 369,445 372,447C375,449 378,452 379,456C381,459 381,463 381,467C381,470 379,474 377,477C375,480 371,483 368,484C364,485 360,486 357,485C354,485 350,483 348,481C346,479 345,477 345,474C344,472 346,470 347,468C349,467 352,465 355,465C357,466 361,467 364,469C366,470 369,474 371,477C372,480 373,484 373,488C372,492 371,496 368,499C366,502 363,504 359,505C356,507 350,506 348,507M362,495C361,494 357,494 355,492C353,491 351,489 351,487C351,485 351,483 352,481C353,480 356,479 358,478C360,478 363,478 366,480C368,481 371,483 373,486C374,488 375,492 375,495C376,498 375,502 373,505C372,507 369,510 367,511C364,513 361,514 358,514C355,514 352,513 350,512C348,511 347,508 346,506C346,505 347,502 348,501C349,499 351,498 354,498C356,497 359,498 361,499C364,500 366,503 368,505C370,508 371,511 371,514C371,517 370,521 369,524C367,527 365,529 362,531C359,532 356,533 353,533C351,533 348,532 346,531C344,530 342,528 342,526C341,524 342,522 343,520C344,519 347,517 349,517C351,517 354,517 357,518C359,520 362,522 364,524C365,527 366,531 366,534C366,537 366,540 364,543C363,546 360,549 358,550C355,552 350,552 349,553M381,524C380,523 377,519 376,516C376,514 376,510 378,508C379,506 381,504 384,504C386,503 389,504 391,505C394,507 396,509 398,512C399,515 400,519 399,522C399,526 397,530 395,533C392,536 389,538 385,539C382,541 378,541 374,541C371,540 367,538 365,536C362,534 361,531 360,528C359,526 360,522 361,520C362,518 365,516 367,516C370,515 373,516 375,517C378,518 380,521 381,524C383,527 383,531 383,534C382,538 381,542 378,545C376,547 372,550 369,551C366,553 361,553 358,553C354,552 351,550 348,548C346,546 344,543 344,540C343,537 344,534 345,532C346,530 349,528 351,528C353,527 357,528 359,529C361,530 364,533 365,536C366,539 367,543 367,546C366,550 364,554 362,557C360,559 356,562 353,563C349,565 345,565 342,564C338,564 334,561 332,560M406,323C405,322 402,318 401,316C401,314 401,311 402,309C403,307 405,305 407,305C409,304 412,305 414,306C416,307 418,309 420,311C421,314 422,317 422,320C422,323 420,327 419,329C417,332 414,334 411,336C408,337 405,338 402,337C399,337 395,335 393,334C391,332 389,329 389,327C388,325 388,322 389,320C390,318 392,316 394,316C396,315 399,315 401,316C403,318 405,320 407,322C408,325 409,328 409,331C409,334 408,338 406,340C404,343 401,345 398,347C395,348 392,348 389,348C386,348 382,345 380,344M411,378C410,379 406,384 403,385C400,386 397,387 394,386C392,385 389,383 388,380C387,378 387,374 388,371C389,368 392,365 395,362C398,360 402,358 406,358C410,358 414,358 418,360C421,362 425,365 427,369C429,372 430,377 430,381C430,385 429,389 427,392C425,395 421,398 418,399C416,401 412,401 409,400C407,399 404,397 403,394C402,392 402,388 403,385C404,382 407,379 410,376C413,374 417,373 421,372C425,372 430,373 433,374C437,376 440,379 442,383C444,386 445,391 445,395C445,399 442,404 442,406M437,316C437,317 435,322 433,323C432,325 430,325 428,325C426,325 424,324 423,323C423,321 422,319 423,317C423,315 425,312 427,310C429,308 432,307 434,306C437,305 441,305 444,306C447,307 450,309 453,311C455,313 457,316 458,319C458,322 458,325 458,328C457,331 456,333 454,335C452,336 450,337 448,337C447,337 445,336 444,335C443,333 443,331 443,329C444,327 445,324 447,322C449,320 452,318 455,318C458,317 462,317 465,318C468,318 471,320 473,322C475,325 477,328 478,331C479,334 479,337 478,340C478,342 476,345 475,347C473,348 471,349 469,349C467,349 466,348 465,346C464,345 463,343 464,340C464,338 466,336 468,334C470,332 473,330 476,329C479,329 482,329 485,329C488,330 492,332 494,334C496,336 498,340 499,343C500,345 499,350 499,352M441,455C440,455 436,458 434,458C432,458 429,457 428,456C426,455 425,453 425,451C425,449 425,447 427,445C428,443 431,441 433,441C436,440 439,440 442,441C445,442 448,444 450,446C452,449 454,452 455,455C456,458 456,462 455,465C454,468 453,471 451,472C449,474 446,475 444,476C442,476 439,475 438,474C436,473 435,471 435,469C435,467 435,464 437,463C438,461 441,459 443,459C446,458 449,458 452,459C455,460 458,462 460,464C462,466 464,470 465,473C466,476 466,480 465,483C464,486 462,489 461,490M451,586C451,585 451,579 452,577C453,574 455,572 457,571C459,570 462,570 464,571C467,572 469,574 470,576C471,579 472,583 471,586C471,589 469,593 467,595C465,598 461,600 458,601C455,602 450,602 447,601C444,601 440,598 438,596C435,593 434,590 433,587C432,584 433,580 434,577C435,575 437,572 439,571C441,570 444,570 446,571C448,572 451,574 452,577C453,579 453,583 453,586C452,589 451,593 448,596C446,598 443,601 439,602C436,603 432,603 429,602C425,601 422,599 419,596C417,594 415,589 415,587M496,335C496,334 494,330 494,328C494,325 495,323 497,321C498,319 501,318 503,318C505,318 508,319 510,320C512,322 513,325 514,327C515,330 515,333 514,336C513,339 510,342 508,344C505,346 502,348 499,349C496,349 492,349 489,348C486,346 483,344 482,342C480,340 479,337 479,334C479,332 481,329 482,328C484,326 486,325 488,325C491,325 493,326 495,327C497,329 499,331 499,334C500,337 500,340 499,343C498,346 496,349 493,351C491,353 487,355 484,355C481,356 477,355 474,354C471,353 469,351 467,349C466,347 465,343 465,341C465,339 466,336 467,334C469,333 471,332 474,332C476,331 479,332 481,334C482,335 484,338 485,341C485,343 485,347 484,350C483,353 481,356 479,358C476,360 473,361 469,362C466,362 462,362 460,361C457,360 454,356 452,355M489,356C488,356 484,358 482,358C480,358 478,356 477,355C476,354 475,351 475,350C476,348 477,345 478,344C480,343 483,342 485,342C488,342 491,343 493,345C496,346 499,349 500,352C502,355 503,359 503,362C503,365 503,369 502,372C500,374 498,377 496,378C494,380 491,380 489,380C487,380 485,379 484,378C483,376 482,374 482,372C482,370 483,368 485,367C487,365 489,364 492,364C494,364 498,365 500,367C503,369 505,371 507,374C509,377 510,381 510,384C510,388 509,391 508,394C507,397 505,399 503,401C501,402 498,403 496,403C494,403 492,401 490,400C489,399 489,396 489,394C489,393 490,390 492,389C493,388 496,387 499,387C501,387 504,388 507,389C509,391 512,394 514,397C515,400 516,403 517,407C517,410 516,414 515,417C514,419 510,422 510,423M495,409C494,408 489,406 488,404C486,403 486,400 486,397C486,395 488,393 489,391C491,390 494,389 496,390C499,390 502,391 504,393C506,395 508,399 509,402C509,405 509,409 508,413C507,416 505,420 503,422C500,425 497,427 494,428C490,429 487,429 484,428C481,427 478,425 477,423C475,421 475,418 475,416C475,414 477,411 479,410C480,409 483,408 486,408C488,409 491,410 493,412C495,414 497,417 498,420C499,424 499,428 498,431C497,435 494,438 492,441C489,443 486,445 483,446C480,447 476,447 473,446C470,446 468,444 466,442C465,440 464,437 464,435C464,432 466,430 468,429C469,427 472,427 475,427C477,427 480,428 482,431C484,433 486,436 487,439C488,442 488,446 487,450C486,453 484,457 481,459C479,462 475,464 472,465C469,466 464,465 462,465M508,494C508,492 505,487 505,484C505,481 507,478 508,476C510,474 513,473 516,473C518,472 522,473 524,475C526,477 528,480 529,484C530,487 530,491 529,495C528,498 526,502 523,504C521,507 517,509 513,509C509,510 505,509 502,508C498,507 495,504 493,501C491,498 490,494 490,492C490,489 491,485 493,483C495,481 498,480 500,480C503,480 506,481 509,483C511,484 513,488 514,491C515,494 515,498 514,502C513,505 511,509 508,512C505,514 501,516 498,517C494,517 490,517 486,515C483,514 480,511 478,508C476,506 475,502 475,499C475,496 476,493 478,491C479,489 482,487 485,487C488,487 491,488 493,490C496,492 498,495 499,498C500,501 500,506 499,509C498,513 496,516 493,519C490,521 486,523 482,524C479,524 474,524 471,522C468,521 464,517 463,516M516,564C515,562 511,559 510,556C508,554 508,550 509,548C510,546 512,544 514,543C516,542 520,542 522,543C525,544 528,546 530,549C532,551 534,555 534,559C534,562 534,567 532,570C530,573 528,576 524,578C521,580 517,581 514,581C510,581 506,579 503,578C500,576 498,573 497,570C496,568 495,564 496,562C497,560 499,557 501,557C503,556 507,556 509,557C512,558 515,560 517,562C519,565 521,569 521,573C521,576 521,580 519,584C518,587 515,590 512,592C509,594 504,595 501,595C497,594 493,593 490,591C488,590 485,587 484,584C483,581 483,578 483,576C484,574 486,571 488,570C491,569 494,569 497,570C499,571 502,574 504,576C506,579 508,583 508,586C509,590 508,594 506,597C505,601 502,604 499,606C496,607 491,608 488,608C484,608 479,606 478,605M548,329C547,328 541,327 539,325C537,323 536,320 536,318C536,315 537,312 539,310C540,308 543,306 546,306C549,306 553,306 555,308C558,310 561,313 562,316C564,320 564,324 564,328C564,332 562,337 560,341C558,344 554,347 551,349C548,351 544,351 540,351C537,351 534,349 532,347C530,345 529,342 529,340C528,337 529,334 531,332C533,330 536,328 539,328C541,328 545,328 548,330C550,332 553,335 555,338C556,342 557,346 557,350C556,354 555,359 552,363C550,366 547,369 543,371C540,373 535,373 533,373M513,368C512,369 511,373 509,375C507,377 504,378 502,378C500,378 498,376 496,375C495,373 494,370 494,368C494,366 495,362 497,360C499,358 502,355 505,354C508,353 512,353 516,354C519,354 523,356 526,358C528,360 531,364 532,367C533,370 533,374 533,377C532,380 530,382 529,384C527,386 524,387 522,387C520,387 517,386 516,384C515,382 514,380 514,377C514,375 515,371 517,369C519,367 522,365 525,364C528,363 532,362 535,363C539,363 543,365 545,367C548,370 550,373 552,376C553,379 553,383 552,386C552,389 550,392 548,393C547,395 544,396 542,396C540,396 537,395 536,393C534,392 533,389 533,386C533,384 535,381 536,378C538,376 541,374 544,373C548,372 552,371 555,372C559,373 562,374 565,377C568,379 570,382 571,385C572,388 572,393 572,395M550,439C548,439 543,441 540,440C537,439 535,437 533,435C532,433 531,430 531,428C532,425 533,422 536,420C538,418 541,417 544,417C548,417 552,418 555,419C558,421 561,424 563,427C564,431 565,435 565,439C565,442 564,447 562,449C560,452 557,455 554,456C551,458 547,458 544,457C541,457 539,455 537,453C536,451 535,447 535,445C536,442 537,439 540,438C542,436 545,434 549,434C552,434 556,435 559,437C562,438 565,442 567,445C568,448 569,452 569,456C569,460 568,464 566,467C564,470 561,472 558,474C555,475 551,475 548,475C546,474 543,472 541,470C540,468 539,465 539,462C540,460 541,457 544,455C546,453 549,452 553,451C556,451 560,452 563,454C566,456 569,459 571,462C573,465 574,470 573,473C573,477 572,481 570,484C568,487 563,490 562,491M563,553C563,552 562,548 563,546C564,543 565,541 567,541C569,540 571,540 573,540C575,541 577,543 578,545C579,547 579,550 578,552C578,555 576,558 574,560C572,563 568,565 565,566C562,567 558,567 554,566C551,566 547,564 545,562C542,560 540,557 539,555C538,552 538,549 539,547C540,545 542,543 543,542C545,541 547,541 549,542C551,542 553,544 554,546C555,548 555,551 555,554C554,556 552,559 550,562C548,564 544,566 541,567C538,568 534,568 530,567C527,567 523,565 521,563C518,561 516,557 515,556M552,580C550,580 546,583 544,583C541,583 538,582 536,580C534,578 533,575 533,573C532,571 533,567 535,565C536,563 539,561 542,561C545,560 549,560 552,561C555,562 559,565 561,567C564,570 566,574 567,578C568,582 567,586 566,589C566,593 563,596 561,598C559,600 555,601 553,601C550,601 547,600 545,598C544,596 542,594 542,591C542,589 542,586 544,583C546,581 548,579 551,579C554,578 558,578 561,579C565,580 568,583 571,586C573,588 575,592 576,596C577,600 577,604 576,607C575,611 571,614 570,616M572,383C571,384 571,389 570,391C568,394 566,396 564,396C562,397 559,397 557,395C555,394 553,392 552,389C551,387 551,383 552,381C553,378 555,374 558,372C560,370 564,368 567,368C570,367 574,368 577,369C580,370 584,373 586,375C587,378 589,382 589,385C589,388 588,391 587,393C586,396 583,397 581,398C579,399 576,399 574,397C572,396 570,394 570,391C569,389 569,385 570,382C570,380 572,376 575,374C577,372 581,370 584,370C588,369 592,369 595,371C598,372 601,375 603,377C605,380 606,383 606,386C606,389 606,393 604,395C603,397 601,399 598,400C596,401 593,400 591,399C590,398 588,396 587,393C586,391 586,387 587,384C588,381 590,378 592,376C595,374 598,372 602,372C605,371 609,371 612,373C615,374 618,376 620,379C622,382 623,387 624,388M590,417C589,416 584,416 581,414C579,413 577,410 576,407C576,405 576,401 577,399C578,397 581,394 584,394C586,393 590,392 593,393C596,394 599,396 602,399C604,402 606,406 606,409C607,413 606,418 605,421C604,425 601,428 598,430C595,432 591,434 588,434C585,434 582,433 579,432C577,430 575,427 574,425C574,422 574,419 575,416C576,414 579,412 582,411C584,410 588,410 591,411C594,412 598,414 600,416C602,419 604,423 604,427C605,430 604,435 603,438C602,442 599,445 596,448C593,450 589,451 586,451C583,451 580,450 577,449C575,447 573,444 572,442C572,439 572,436 573,434C574,431 577,429 580,428C582,427 586,427 589,428C592,429 596,431 598,434C600,436 602,440 602,444C603,448 602,452 601,456C600,459 597,463 594,465C591,467 586,468 584,469M591,463C591,462 591,456 592,454C593,451 595,449 598,448C600,447 603,446 606,447C608,448 611,450 612,453C614,455 615,459 614,462C614,465 612,469 610,471C607,474 604,477 600,478C596,479 592,479 588,478C584,478 580,476 578,473C575,471 573,467 572,464C571,461 572,458 573,455C574,452 576,450 579,449C581,448 584,448 587,448C589,449 592,451 593,454C595,456 596,460 595,463C595,466 593,470 591,473C588,475 585,478 581,479C577,480 573,480 569,480C565,479 561,477 559,474C556,472 554,469 553,465C552,462 553,459 554,456C555,454 557,451 560,450C562,449 565,449 568,450C570,450 573,452 574,455C576,457 576,461 576,464C576,467 574,471 572,474C569,476 565,479 562,480C558,481 554,481 550,481C546,480 542,478 540,476C537,473 535,468 534,467M572,478C570,478 565,480 562,480C559,480 556,478 554,477C552,475 551,472 551,469C551,467 553,463 555,461C557,459 561,457 564,457C568,456 572,456 575,458C579,459 582,462 585,464C587,467 588,472 588,475C589,479 587,483 586,486C584,489 581,492 578,494C575,496 571,497 568,496C565,496 562,495 560,493C558,491 557,488 557,485C557,483 559,479 561,477C563,475 567,473 570,473C573,472 578,472 581,474C585,475 588,478 590,481C592,484 594,488 594,491C594,495 593,499 591,502C590,506 586,509 583,510C580,512 576,513 573,512C570,512 567,511 566,509C564,507 563,504 563,501C563,499 565,496 567,494C569,491 572,490 576,489C579,488 584,489 587,490C590,491 594,494 596,497C598,500 600,504 600,507C600,511 599,515 597,519C595,522 591,525 589,526M637,325C637,324 637,318 638,315C639,313 641,310 643,309C645,308 648,307 651,308C653,309 655,311 657,314C658,317 659,320 658,324C658,327 657,331 654,334C652,337 648,340 645,341C642,342 637,342 634,342C630,341 626,339 623,336C621,334 619,330 618,327C617,323 617,319 618,317C619,314 621,311 624,310C626,309 629,309 631,310C633,310 636,313 637,315C639,318 639,322 639,325C639,329 637,333 635,335C633,338 629,341 626,342C622,344 618,344 614,343C611,342 607,340 604,338C601,335 599,331 598,328C598,325 598,321 599,318C600,315 602,313 604,311C606,310 609,310 612,311C614,312 617,314 618,317C619,319 620,323 620,327C619,330 618,334 615,337C613,340 610,342 606,344C603,345 598,345 595,344C591,344 587,341 585,339C582,336 580,331 579,329M639,366C638,367 634,369 632,370C630,370 627,369 626,368C624,367 623,365 623,363C623,361 624,359 625,357C627,355 629,354 632,353C635,352 638,352 641,353C644,354 648,356 650,358C652,360 654,364 655,367C655,370 655,374 654,377C654,380 652,383 650,385C648,387 645,388 642,388C640,389 638,388 636,387C634,386 633,384 633,382C633,380 634,377 635,376C637,374 640,372 642,372C645,371 649,371 652,372C655,373 658,374 660,377C662,379 664,382 665,386C666,389 666,392 665,395C664,398 661,402 660,403M635,403C634,401 630,397 629,394C629,391 629,388 630,386C631,384 634,381 636,381C638,380 642,380 645,382C647,383 650,386 652,389C653,391 655,396 654,399C654,403 653,407 651,410C649,413 646,415 642,417C639,418 635,419 631,418C628,417 624,416 622,413C619,411 617,408 616,405C615,402 616,399 617,397C618,394 621,392 623,392C625,391 629,391 631,392C634,394 637,396 639,399C640,402 641,406 641,410C641,413 640,417 638,420C636,423 633,426 629,428C626,429 622,429 618,429C615,428 610,425 609,424M613,508C613,510 613,515 612,517C611,519 609,521 607,522C605,522 603,522 601,521C599,520 598,518 597,515C596,513 597,509 598,507C599,504 601,501 603,499C605,497 609,495 612,494C615,494 619,494 622,495C625,497 628,499 630,502C632,504 634,508 634,511C634,514 634,517 633,519C631,521 629,523 627,524C626,525 623,524 621,523C620,522 618,520 618,517C617,515 617,512 618,509C619,506 621,503 624,501C626,499 629,497 633,497C636,496 640,496 643,498C646,499 649,501 651,504C653,506 654,510 654,513C655,516 654,519 653,521C652,524 650,526 648,526C646,527 644,527 642,526C640,524 639,522 638,520C637,517 637,514 638,511C639,508 642,505 644,503C646,501 650,499 653,499C656,498 660,499 663,500C666,501 669,504 671,506C673,509 674,514 675,515M634,550C633,551 630,556 628,557C625,559 622,559 619,559C617,558 614,556 613,554C612,552 611,549 612,546C612,543 614,540 616,537C619,535 622,533 626,532C629,531 633,532 637,533C640,534 644,536 646,539C648,542 650,546 650,549C650,553 649,557 648,560C647,563 644,566 641,567C639,569 636,569 633,569C631,568 628,566 627,564C626,562 625,559 626,556C626,553 628,549 630,547C632,545 636,543 640,542C643,541 647,541 651,543C654,544 657,546 660,549C662,552 663,556 664,559C664,563 662,568 662,570"/></defs><use href="#cg5" fill="none" stroke="#d8d8d8" stroke-width="3.0" stroke-linecap="round"/><use href="#cg5" fill="none" stroke="#efefef" stroke-width="1.2" stroke-linecap="round"/><defs><path id="cg6" d="M356,570C354,570 349,569 347,567C345,566 343,563 343,560C342,557 343,554 344,552C346,550 349,548 351,547C354,547 358,547 360,548C363,549 367,552 368,555C370,558 372,562 372,566C372,569 371,574 369,577C368,581 365,584 362,586C359,588 355,589 352,589C349,589 345,587 343,585C341,584 339,581 339,578C338,576 339,572 340,570C342,568 345,566 347,565C350,565 354,565 357,566C359,567 363,570 364,573C366,576 368,580 368,584C368,588 367,592 365,595C364,599 361,602 358,604C355,606 351,607 348,607C345,607 341,605 339,604C337,602 335,599 335,596C334,594 335,591 336,589C338,586 341,584 343,584C346,583 350,583 353,584C355,586 359,588 361,591C362,594 364,598 364,602C364,606 363,610 361,614C360,617 357,620 354,622C351,624 345,625 344,625M388,425C388,426 387,430 386,432C384,434 382,435 380,436C378,436 375,436 373,435C371,433 370,431 369,429C368,427 368,424 369,421C370,419 372,416 375,415C377,413 381,412 384,411C388,411 391,412 394,413C397,415 400,417 402,419C404,422 405,425 405,428C405,430 404,433 403,435C401,437 399,438 397,439C395,439 392,439 390,438C388,436 387,434 386,432C385,430 385,427 386,424C387,422 389,419 392,418C394,416 398,415 401,414C405,414 408,415 411,416C414,418 417,420 419,422C421,425 422,428 422,431C422,433 421,436 420,438C418,440 416,441 414,442C412,442 409,442 407,441C405,439 404,437 403,435C402,433 402,430 403,427C404,425 407,422 409,421C412,419 415,418 418,417C422,417 426,418 428,419C431,421 434,423 436,425C438,428 439,432 439,434M411,534C410,535 407,537 405,538C403,538 401,538 400,537C398,536 397,534 396,533C396,531 396,529 397,527C398,525 400,523 402,523C404,522 408,522 410,522C413,523 416,524 418,526C421,528 423,531 424,534C425,537 426,540 426,543C426,546 424,548 423,550C422,552 419,554 417,554C416,555 413,554 412,553C410,552 409,551 408,549C408,547 408,545 409,543C410,541 412,540 414,539C417,538 420,538 422,538C425,539 428,540 431,542C433,544 435,547 436,550C438,553 438,556 438,559C438,562 436,565 435,567M402,584C401,584 398,588 396,588C394,589 391,589 389,589C387,588 385,586 385,584C384,582 384,579 385,577C386,575 388,573 390,571C392,570 395,569 398,569C401,569 405,569 407,571C410,572 412,575 414,578C415,580 416,584 416,587C416,590 415,593 413,595C412,597 409,599 407,600C405,601 402,601 400,600C398,599 397,597 396,596C395,594 395,591 396,589C397,587 399,584 401,583C403,581 407,580 410,580C413,580 416,581 419,582C421,584 424,587 425,589C427,592 427,595 427,598C427,601 426,604 424,607C423,609 420,611 418,611C416,612 413,612 412,611C410,611 408,609 407,607C407,605 407,602 407,600C408,598 410,596 412,594C415,593 418,592 421,592C424,592 427,592 430,594C432,595 435,598 436,601C438,603 439,607 439,610C438,613 436,617 436,618M431,547C431,549 431,554 430,556C428,558 426,560 424,561C421,562 418,562 416,561C414,559 412,557 411,554C411,552 411,548 412,545C413,542 415,539 418,537C421,535 425,533 429,532C432,532 437,532 441,533C444,535 448,537 450,540C453,543 454,546 455,549C455,552 454,556 453,558C452,561 449,563 447,563C445,564 442,564 440,563C438,562 436,559 435,557C434,554 434,550 435,548C436,545 439,541 441,539C444,537 448,535 452,534C456,534 460,534 464,536C468,537 471,539 474,542C476,545 478,549 478,552C479,555 478,558 477,561C475,563 473,565 471,566C468,566 465,566 463,565C461,564 459,561 458,559C458,556 458,553 459,550C460,547 462,543 465,541C468,539 472,537 476,537C479,536 484,536 488,538C491,539 495,542 497,544C500,547 501,552 502,554M493,462C493,463 491,466 490,467C488,469 486,469 484,469C482,469 480,468 479,467C478,465 477,463 477,461C477,459 478,457 480,455C481,454 484,452 487,451C489,450 493,450 496,451C499,452 502,453 504,455C507,457 509,460 510,463C511,465 511,468 511,470C510,473 509,475 507,476C506,477 504,478 502,478C500,478 498,477 497,476C496,474 495,472 495,470C495,468 496,466 497,464C499,462 502,461 504,460C507,459 510,459 513,460C516,461 520,462 522,464C524,466 526,469 527,471C528,474 529,477 528,479C528,481 527,484 525,485C524,486 521,487 520,487C518,487 516,486 514,484C513,483 512,481 513,479C513,477 514,474 515,473C517,471 519,469 522,469C525,468 528,468 531,469C534,469 537,471 540,473C542,475 544,478 545,480C546,483 546,487 546,488M498,535C497,536 493,537 491,537C489,536 487,535 485,534C484,532 483,530 484,528C484,526 485,523 487,522C488,520 491,519 493,519C496,519 499,520 501,521C504,523 506,525 508,528C510,531 511,535 511,538C511,541 510,545 509,547C508,550 506,552 504,553C501,555 499,555 496,555C494,555 492,553 491,552C490,550 489,548 489,546C489,544 490,541 492,540C494,538 496,537 499,537C501,537 504,538 507,539C509,541 512,543 513,546C515,549 516,553 516,556C516,559 516,563 515,565C513,568 510,570 509,572M551,419C550,419 546,418 544,416C543,415 542,412 542,410C542,408 543,406 544,404C545,402 548,401 550,401C552,400 555,401 557,402C559,403 561,406 562,408C563,411 564,415 564,418C564,421 562,425 561,427C559,430 556,432 554,434C551,435 548,436 546,436C543,435 541,434 539,433C537,431 536,428 536,426C536,424 537,422 538,420C540,418 542,417 544,417C546,416 549,417 551,418C553,420 556,422 557,425C558,427 559,431 558,434C558,437 557,441 555,443C554,446 551,449 548,450C546,451 541,452 540,452M555,496C554,496 549,496 546,494C544,493 542,490 541,488C541,486 541,483 542,481C543,479 546,477 548,476C551,475 554,475 557,476C560,477 563,480 565,482C567,485 569,489 570,493C570,497 570,501 569,505C567,509 565,512 562,515C559,517 556,519 553,519C550,520 546,519 544,518C542,516 540,514 539,512C538,509 539,506 540,504C541,502 543,500 546,499C548,498 552,498 555,499C558,501 561,503 563,506C565,508 567,513 567,516C568,520 567,525 566,528C565,532 562,536 560,538C557,540 552,542 550,542M594,547C592,547 586,548 583,547C580,546 578,543 576,541C575,539 575,535 575,533C576,530 578,527 581,526C583,524 587,523 591,523C594,523 599,525 602,527C605,529 608,533 609,537C611,540 611,545 610,549C610,553 608,557 605,560C603,563 599,565 596,566C592,567 588,567 585,566C583,565 580,563 578,560C577,558 577,555 577,552C578,549 580,546 583,545C586,543 590,542 593,543C597,543 601,544 604,546C607,549 610,552 611,556C613,560 613,564 613,568C612,572 610,576 608,579C605,582 600,584 598,585"/></defs><use href="#cg6" fill="none" stroke="#cbcbcb" stroke-width="3.0" stroke-linecap="round"/><use href="#cg6" fill="none" stroke="#eaeaea" stroke-width="1.2" stroke-linecap="round"/><circle cx="360.6" cy="360.4" r="6.6" fill="url(#gy)" opacity="0.85"/><circle cx="422.0" cy="359.0" r="6.6" fill="url(#gy)" opacity="0.85"/><circle cx="372.0" cy="428.3" r="6.2" fill="url(#gc)" opacity="0.9"/><circle cx="359.3" cy="449.2" r="6.6" fill="url(#gy)" opacity="0.85"/><circle cx="511.7" cy="343.8" r="6.2" fill="url(#gc)" opacity="0.9"/><circle cx="500.2" cy="323.3" r="6.6" fill="url(#gy)" opacity="0.85"/><circle cx="422.0" cy="395.0" r="6.6" fill="url(#gy)" opacity="0.85"/><circle cx="583.6" cy="310.8" r="6.6" fill="url(#gy)" opacity="0.85"/><circle cx="565.5" cy="327.7" r="6.2" fill="url(#gc)" opacity="0.9"/><circle cx="563.1" cy="353.0" r="6.6" fill="url(#gy)" opacity="0.85"/><circle cx="580.0" cy="360.2" r="6.6" fill="url(#gy)" opacity="0.85"/><circle cx="642.6" cy="437.3" r="6.6" fill="url(#gy)" opacity="0.85"/><circle cx="506.5" cy="395.2" r="6.6" fill="url(#gy)" opacity="0.85"/><circle cx="568.0" cy="397.6" r="6.6" fill="url(#gy)" opacity="0.85"/><circle cx="369.6" cy="430.0" r="6.2" fill="url(#gc)" opacity="0.9"/><circle cx="413.1" cy="546.5" r="6.6" fill="url(#gy)" opacity="0.85"/><circle cx="432.3" cy="542.7" r="6.2" fill="url(#gc)" opacity="0.9"/><circle cx="433.6" cy="558.0" r="6.6" fill="url(#gy)" opacity="0.85"/><circle cx="460.5" cy="563.2" r="6.2" fill="url(#gc)" opacity="0.9"/><circle cx="397.7" cy="588.8" r="6.6" fill="url(#gy)" opacity="0.85"/><circle cx="501.5" cy="513.2" r="6.6" fill="url(#gy)" opacity="0.85"/><circle cx="522.0" cy="583.6" r="6.6" fill="url(#gy)" opacity="0.85"/><circle cx="636.0" cy="497.3" r="6.2" fill="url(#gc)" opacity="0.9"/><circle cx="644.5" cy="505.9" r="6.6" fill="url(#gy)" opacity="0.85"/><circle cx="597.3" cy="540.2" r="6.6" fill="url(#gy)" opacity="0.85"/><circle cx="521.5" cy="586.0" r="6.6" fill="url(#gy)" opacity="0.85"/><circle cx="658.8" cy="540.2" r="6.6" fill="url(#gy)" opacity="0.85"/><circle cx="597.0" cy="500.0" r="6.6" fill="url(#gy)" opacity="0.85"/><circle cx="561.5" cy="458.6" r="6.6" fill="url(#gy)" opacity="0.85"/><path d="M568.3,383.6 L571.0,394.4 L577.8,397.1 L587.3,402.5" fill="none" stroke="#5aa7a9" stroke-width="3.4" stroke-linecap="round" stroke-linejoin="round"/><path d="M568.3,383.6 L571.0,394.4 L577.8,397.1 L587.3,402.5" fill="none" stroke="#a8e0e0" stroke-width="1.2" stroke-linecap="round" stroke-linejoin="round"/><path d="M569.7,394.4 L569.7,408.0 L571.0,424.2" fill="none" stroke="#5aa7a9" stroke-width="3.4" stroke-linecap="round" stroke-linejoin="round"/><path d="M569.7,394.4 L569.7,408.0 L571.0,424.2" fill="none" stroke="#a8e0e0" stroke-width="1.2" stroke-linecap="round" stroke-linejoin="round"/><path d="M505.9,389.0 L507.3,397.1 L503.2,405.3 L500.5,410.7 L495.1,413.4 L493.7,421.5 L486.9,424.2" fill="none" stroke="#5aa7a9" stroke-width="3.4" stroke-linecap="round" stroke-linejoin="round"/><path d="M505.9,389.0 L507.3,397.1 L503.2,405.3 L500.5,410.7 L495.1,413.4 L493.7,421.5 L486.9,424.2" fill="none" stroke="#a8e0e0" stroke-width="1.2" stroke-linecap="round" stroke-linejoin="round"/><path d="M565.6,505.6 L576.4,502.9 L584.6,502.9 L592.7,497.5" fill="none" stroke="#5aa7a9" stroke-width="3.4" stroke-linecap="round" stroke-linejoin="round"/><path d="M565.6,505.6 L576.4,502.9 L584.6,502.9 L592.7,497.5" fill="none" stroke="#a8e0e0" stroke-width="1.2" stroke-linecap="round" stroke-linejoin="round"/><path d="M576.4,502.9 L577.8,513.7 L581.9,521.9" fill="none" stroke="#5aa7a9" stroke-width="3.4" stroke-linecap="round" stroke-linejoin="round"/><path d="M576.4,502.9 L577.8,513.7 L581.9,521.9" fill="none" stroke="#a8e0e0" stroke-width="1.2" stroke-linecap="round" stroke-linejoin="round"/><path d="M435.4,497.5 L432.7,505.6 L438.1,513.7 L446.3,511.0 L449.0,500.2" fill="none" stroke="#5aa7a9" stroke-width="3.4" stroke-linecap="round" stroke-linejoin="round"/><path d="M435.4,497.5 L432.7,505.6 L438.1,513.7 L446.3,511.0 L449.0,500.2" fill="none" stroke="#a8e0e0" stroke-width="1.2" stroke-linecap="round" stroke-linejoin="round"/><path d="M440.8,505.6 L454.4,508.3" fill="none" stroke="#5aa7a9" stroke-width="3.4" stroke-linecap="round" stroke-linejoin="round"/><path d="M440.8,505.6 L454.4,508.3" fill="none" stroke="#a8e0e0" stroke-width="1.2" stroke-linecap="round" stroke-linejoin="round"/><path d="M413.7,486.6 L424.6,485.3 L430.0,489.3" fill="none" stroke="#5aa7a9" stroke-width="3.4" stroke-linecap="round" stroke-linejoin="round"/><path d="M413.7,486.6 L424.6,485.3 L430.0,489.3" fill="none" stroke="#a8e0e0" stroke-width="1.2" stroke-linecap="round" stroke-linejoin="round"/><path d="M397.5,429.7 L405.6,424.2 L413.7,426.9 L419.2,418.8" fill="none" stroke="#5aa7a9" stroke-width="3.4" stroke-linecap="round" stroke-linejoin="round"/><path d="M397.5,429.7 L405.6,424.2 L413.7,426.9 L419.2,418.8" fill="none" stroke="#a8e0e0" stroke-width="1.2" stroke-linecap="round" stroke-linejoin="round"/><path d="M400.2,351.0 L408.3,353.7 L413.7,359.2 L416.4,367.3" fill="none" stroke="#5aa7a9" stroke-width="3.4" stroke-linecap="round" stroke-linejoin="round"/><path d="M400.2,351.0 L408.3,353.7 L413.7,359.2 L416.4,367.3" fill="none" stroke="#a8e0e0" stroke-width="1.2" stroke-linecap="round" stroke-linejoin="round"/><path d="M416.4,516.4 L424.6,521.9 L430.0,530.0" fill="none" stroke="#5aa7a9" stroke-width="3.4" stroke-linecap="round" stroke-linejoin="round"/><path d="M416.4,516.4 L424.6,521.9 L430.0,530.0" fill="none" stroke="#a8e0e0" stroke-width="1.2" stroke-linecap="round" stroke-linejoin="round"/><path d="M497.8,332.0 L503.2,329.3 L511.4,332.0 L508.6,337.5 L500.5,337.5" fill="none" stroke="#5aa7a9" stroke-width="3.4" stroke-linecap="round" stroke-linejoin="round"/><path d="M497.8,332.0 L503.2,329.3 L511.4,332.0 L508.6,337.5 L500.5,337.5" fill="none" stroke="#a8e0e0" stroke-width="1.2" stroke-linecap="round" stroke-linejoin="round"/><path d="M402.9,364.6 L413.7,370.0 L419.2,378.1 L413.7,386.3 L408.3,394.4" fill="none" stroke="#5aa7a9" stroke-width="3.4" stroke-linecap="round" stroke-linejoin="round"/><path d="M402.9,364.6 L413.7,370.0 L419.2,378.1 L413.7,386.3 L408.3,394.4" fill="none" stroke="#a8e0e0" stroke-width="1.2" stroke-linecap="round" stroke-linejoin="round"/><path d="M411.0,397.1 L419.2,405.3 L424.6,416.1" fill="none" stroke="#5aa7a9" stroke-width="3.4" stroke-linecap="round" stroke-linejoin="round"/><path d="M411.0,397.1 L419.2,405.3 L424.6,416.1" fill="none" stroke="#a8e0e0" stroke-width="1.2" stroke-linecap="round" stroke-linejoin="round"/><path d="M386.6,418.8 L394.7,416.1 L397.5,424.2" fill="none" stroke="#5aa7a9" stroke-width="3.4" stroke-linecap="round" stroke-linejoin="round"/><path d="M386.6,418.8 L394.7,416.1 L397.5,424.2" fill="none" stroke="#a8e0e0" stroke-width="1.2" stroke-linecap="round" stroke-linejoin="round"/><path d="M416.4,451.4 L424.6,456.8" fill="none" stroke="#5aa7a9" stroke-width="3.4" stroke-linecap="round" stroke-linejoin="round"/><path d="M416.4,451.4 L424.6,456.8" fill="none" stroke="#a8e0e0" stroke-width="1.2" stroke-linecap="round" stroke-linejoin="round"/><path d="M554.7,546.3 L562.9,543.6 L565.6,549.0 L557.5,551.7" fill="none" stroke="#5aa7a9" stroke-width="3.4" stroke-linecap="round" stroke-linejoin="round"/><path d="M554.7,546.3 L562.9,543.6 L565.6,549.0 L557.5,551.7" fill="none" stroke="#a8e0e0" stroke-width="1.2" stroke-linecap="round" stroke-linejoin="round"/><path d="M576.4,361.9 L581.9,367.3 L590.0,364.6" fill="none" stroke="#5aa7a9" stroke-width="3.4" stroke-linecap="round" stroke-linejoin="round"/><path d="M576.4,361.9 L581.9,367.3 L590.0,364.6" fill="none" stroke="#a8e0e0" stroke-width="1.2" stroke-linecap="round" stroke-linejoin="round"/><path d="M386.7,389.7 L396.7,396.3 L403.3,406.3 L393.4,416.2 L386.7,426.1" fill="none" stroke="#5aa7a9" stroke-width="3.4" stroke-linecap="round" stroke-linejoin="round"/><path d="M386.7,389.7 L396.7,396.3 L403.3,406.3 L393.4,416.2 L386.7,426.1" fill="none" stroke="#a8e0e0" stroke-width="1.2" stroke-linecap="round" stroke-linejoin="round"/><path d="M403.3,379.8 L409.9,373.1 L413.9,365.8" fill="none" stroke="#5aa7a9" stroke-width="3.4" stroke-linecap="round" stroke-linejoin="round"/><path d="M403.3,379.8 L409.9,373.1 L413.9,365.8" fill="none" stroke="#a8e0e0" stroke-width="1.2" stroke-linecap="round" stroke-linejoin="round"/><path d="M413.3,340.0 L419.9,349.9 L421.9,359.9 L419.9,366.5" fill="none" stroke="#5aa7a9" stroke-width="3.4" stroke-linecap="round" stroke-linejoin="round"/><path d="M413.3,340.0 L419.9,349.9 L421.9,359.9 L419.9,366.5" fill="none" stroke="#a8e0e0" stroke-width="1.2" stroke-linecap="round" stroke-linejoin="round"/><path d="M419.9,489.8 L433.1,493.1 L440.4,499.7 L443.1,512.3" fill="none" stroke="#5aa7a9" stroke-width="3.4" stroke-linecap="round" stroke-linejoin="round"/><path d="M419.9,489.8 L433.1,493.1 L440.4,499.7 L443.1,512.3" fill="none" stroke="#a8e0e0" stroke-width="1.2" stroke-linecap="round" stroke-linejoin="round"/><path d="M446.4,505.7 L455.7,503.7 L463.0,495.7" fill="none" stroke="#5aa7a9" stroke-width="3.4" stroke-linecap="round" stroke-linejoin="round"/><path d="M446.4,505.7 L455.7,503.7 L463.0,495.7" fill="none" stroke="#a8e0e0" stroke-width="1.2" stroke-linecap="round" stroke-linejoin="round"/><path d="M413.3,409.6 L406.6,422.8 L400.0,429.5 L409.9,439.4" fill="none" stroke="#5aa7a9" stroke-width="3.4" stroke-linecap="round" stroke-linejoin="round"/><path d="M413.3,409.6 L406.6,422.8 L400.0,429.5 L409.9,439.4" fill="none" stroke="#a8e0e0" stroke-width="1.2" stroke-linecap="round" stroke-linejoin="round"/><path d="M479.5,349.9 L486.1,359.9 L499.4,359.9 L492.8,349.9" fill="none" stroke="#5aa7a9" stroke-width="3.4" stroke-linecap="round" stroke-linejoin="round"/><path d="M479.5,349.9 L486.1,359.9 L499.4,359.9 L492.8,349.9" fill="none" stroke="#a8e0e0" stroke-width="1.2" stroke-linecap="round" stroke-linejoin="round"/><path d="M480.9,324.4 L474.3,329.3 L467.6,324.6 L470.0,316.7 L478.2,316.6 L480.9,324.4" fill="none" stroke="#5aa7a9" stroke-width="3.4" stroke-linecap="round" stroke-linejoin="round"/><path d="M480.9,324.4 L474.3,329.3 L467.6,324.6 L470.0,316.7 L478.2,316.6 L480.9,324.4" fill="none" stroke="#a8e0e0" stroke-width="1.2" stroke-linecap="round" stroke-linejoin="round"/><path d="M466.0,324.0 L462.0,318.0" fill="none" stroke="#5aa7a9" stroke-width="3.4" stroke-linecap="round" stroke-linejoin="round"/><path d="M466.0,324.0 L462.0,318.0" fill="none" stroke="#a8e0e0" stroke-width="1.2" stroke-linecap="round" stroke-linejoin="round"/><path d="M402.7,342.9 L414.4,341.9 L420.3,352.7 L422.3,362.5" fill="none" stroke="#5aa7a9" stroke-width="3.4" stroke-linecap="round" stroke-linejoin="round"/><path d="M402.7,342.9 L414.4,341.9 L420.3,352.7 L422.3,362.5" fill="none" stroke="#a8e0e0" stroke-width="1.2" stroke-linecap="round" stroke-linejoin="round"/><path d="M388.0,372.0 L392.0,380.0 L396.0,392.0 L402.0,398.0" fill="none" stroke="#5aa7a9" stroke-width="3.4" stroke-linecap="round" stroke-linejoin="round"/><path d="M388.0,372.0 L392.0,380.0 L396.0,392.0 L402.0,398.0" fill="none" stroke="#a8e0e0" stroke-width="1.2" stroke-linecap="round" stroke-linejoin="round"/><path d="M384.0,384.0 L392.0,380.0" fill="none" stroke="#5aa7a9" stroke-width="3.4" stroke-linecap="round" stroke-linejoin="round"/><path d="M384.0,384.0 L392.0,380.0" fill="none" stroke="#a8e0e0" stroke-width="1.2" stroke-linecap="round" stroke-linejoin="round"/><path d="M454.5,429C457.2,430.6 465,435.4 470.3,438.6C475.5,441.8 480.9,445 486.1,448.2C491.4,451.4 497.1,454.4 501.9,457.7C506.7,461 510.9,464.4 515.1,467.8C519.2,471.2 522.9,475.1 526.7,478.2C530.5,481.4 534.1,484.1 537.9,486.6C541.7,489.1 547.7,492.1 549.7,493.2L554.3,486.6C552.7,485.1 547.7,480.9 544.5,478C541.3,475.1 538.5,472.4 535.1,469C531.7,465.6 528.1,461.4 523.9,457.6C519.7,453.8 515,449.7 509.9,446.1C504.8,442.5 498.8,439.2 493.3,436C487.7,432.9 482.1,430 476.5,427.2C470.9,424.4 462.5,420.7 459.7,419.4Z" fill="#66dd66" stroke="#3da846" stroke-width="0.9" stroke-linejoin="round" opacity="0.78"/><path d="M445.5,438C445.6,441.2 445.7,451.1 446,457.1C446.4,463.1 446.6,468.7 447.4,473.8C448.2,478.9 449.5,483.4 451,487.8C452.5,492.2 454.8,496.5 456.5,500.2C458.3,503.8 460.9,508.3 461.7,509.9L466.7,507.7C466.1,506 464.4,501.2 463.1,497.4C461.7,493.7 460,489.5 458.8,485.4C457.6,481.2 456.8,477.2 456,472.4C455.2,467.6 454.7,462.3 454.2,456.5C453.6,450.7 452.8,440.7 452.5,437.6Z" fill="#66dd66" stroke="#3da846" stroke-width="0.9" stroke-linejoin="round" opacity="0.78"/><path d="M459.8,432.4C462.5,436.9 470.7,450.5 476.1,459.5C481.5,468.5 487.4,477.6 492.4,486.6C497.4,495.6 502.7,506 505.9,513.7C509.1,521.4 510.5,529.5 511.4,532.7" fill="none" stroke="#3da846" stroke-width="5.0" stroke-linecap="round" stroke-linejoin="round" opacity="0.78"/><path d="M459.8,432.4C462.5,436.9 470.7,450.5 476.1,459.5C481.5,468.5 487.4,477.6 492.4,486.6C497.4,495.6 502.7,506 505.9,513.7C509.1,521.4 510.5,529.5 511.4,532.7" fill="none" stroke="#66dd66" stroke-width="3.4" stroke-linecap="round" stroke-linejoin="round" opacity="0.78"/><path d="M459.8,432.4C462.5,436.9 470.7,450.5 476.1,459.5C481.5,468.5 487.4,477.6 492.4,486.6C497.4,495.6 502.7,506 505.9,513.7C509.1,521.4 510.5,529.5 511.4,532.7" fill="none" stroke="#c0f5c0" stroke-width="1.1333333333333333" stroke-linecap="round" stroke-linejoin="round" opacity="0.55" transform="translate(-0.6,-0.6)"/><path d="M464.7,391.7C465.7,393.1 469.4,397.2 470.7,400.4C472,403.6 472.8,407.4 472.3,410.7C471.9,414 470,417.7 468,420.2C466,422.7 461.7,424.7 460.4,425.6" fill="none" stroke="#3da846" stroke-width="5.2" stroke-linecap="round" stroke-linejoin="round" opacity="0.78"/><path d="M464.7,391.7C465.7,393.1 469.4,397.2 470.7,400.4C472,403.6 472.8,407.4 472.3,410.7C471.9,414 470,417.7 468,420.2C466,422.7 461.7,424.7 460.4,425.6" fill="none" stroke="#66dd66" stroke-width="3.6" stroke-linecap="round" stroke-linejoin="round" opacity="0.78"/><path d="M464.7,391.7C465.7,393.1 469.4,397.2 470.7,400.4C472,403.6 472.8,407.4 472.3,410.7C471.9,414 470,417.7 468,420.2C466,422.7 461.7,424.7 460.4,425.6" fill="none" stroke="#c0f5c0" stroke-width="1.2" stroke-linecap="round" stroke-linejoin="round" opacity="0.55" transform="translate(-0.6,-0.6)"/><path d="M445.7,399.3C446.2,398.9 447.6,396.6 449,396.6C450.4,396.6 452.5,397.6 453.9,399.3C455.2,401 456.1,403.8 457.1,406.6C458.1,409.4 458.9,413.2 459.8,416.1C460.7,419 462.1,422.9 462.5,424.2" fill="none" stroke="#3da846" stroke-width="5.2" stroke-linecap="round" stroke-linejoin="round" opacity="0.78"/><path d="M445.7,399.3C446.2,398.9 447.6,396.6 449,396.6C450.4,396.6 452.5,397.6 453.9,399.3C455.2,401 456.1,403.8 457.1,406.6C458.1,409.4 458.9,413.2 459.8,416.1C460.7,419 462.1,422.9 462.5,424.2" fill="none" stroke="#66dd66" stroke-width="3.6" stroke-linecap="round" stroke-linejoin="round" opacity="0.78"/><path d="M445.7,399.3C446.2,398.9 447.6,396.6 449,396.6C450.4,396.6 452.5,397.6 453.9,399.3C455.2,401 456.1,403.8 457.1,406.6C458.1,409.4 458.9,413.2 459.8,416.1C460.7,419 462.1,422.9 462.5,424.2" fill="none" stroke="#c0f5c0" stroke-width="1.2" stroke-linecap="round" stroke-linejoin="round" opacity="0.55" transform="translate(-0.6,-0.6)"/><path d="M430,367.3C432.7,367.5 441.8,367.7 446.3,368.6C450.8,369.5 453.9,369.8 457.1,372.7C460.3,375.6 463.9,383.1 465.3,386.3C466.7,389.5 465.3,390.8 465.3,391.7" fill="none" stroke="#3da846" stroke-width="5.2" stroke-linecap="round" stroke-linejoin="round" opacity="0.78"/><path d="M430,367.3C432.7,367.5 441.8,367.7 446.3,368.6C450.8,369.5 453.9,369.8 457.1,372.7C460.3,375.6 463.9,383.1 465.3,386.3C466.7,389.5 465.3,390.8 465.3,391.7" fill="none" stroke="#66dd66" stroke-width="3.6" stroke-linecap="round" stroke-linejoin="round" opacity="0.78"/><path d="M430,367.3C432.7,367.5 441.8,367.7 446.3,368.6C450.8,369.5 453.9,369.8 457.1,372.7C460.3,375.6 463.9,383.1 465.3,386.3C466.7,389.5 465.3,390.8 465.3,391.7" fill="none" stroke="#c0f5c0" stroke-width="1.2" stroke-linecap="round" stroke-linejoin="round" opacity="0.55" transform="translate(-0.6,-0.6)"/><path d="M497.8,375.4C497.4,377.2 495.1,382.7 495.1,386.3C495.1,389.9 496.5,393 497.8,397.1C499.1,401.2 500.9,407.3 503.2,410.7C505.5,414.1 508.6,416.2 511.4,417.7C514.2,419.1 518.6,419.1 520,419.4" fill="none" stroke="#3da846" stroke-width="5.2" stroke-linecap="round" stroke-linejoin="round" opacity="0.78"/><path d="M497.8,375.4C497.4,377.2 495.1,382.7 495.1,386.3C495.1,389.9 496.5,393 497.8,397.1C499.1,401.2 500.9,407.3 503.2,410.7C505.5,414.1 508.6,416.2 511.4,417.7C514.2,419.1 518.6,419.1 520,419.4" fill="none" stroke="#66dd66" stroke-width="3.6" stroke-linecap="round" stroke-linejoin="round" opacity="0.78"/><path d="M497.8,375.4C497.4,377.2 495.1,382.7 495.1,386.3C495.1,389.9 496.5,393 497.8,397.1C499.1,401.2 500.9,407.3 503.2,410.7C505.5,414.1 508.6,416.2 511.4,417.7C514.2,419.1 518.6,419.1 520,419.4" fill="none" stroke="#c0f5c0" stroke-width="1.2" stroke-linecap="round" stroke-linejoin="round" opacity="0.55" transform="translate(-0.6,-0.6)"/><path d="M557.5,494.7C558,496.5 560.2,502 560.2,505.6C560.2,509.2 558,514.6 557.5,516.4" fill="none" stroke="#3da846" stroke-width="5.2" stroke-linecap="round" stroke-linejoin="round" opacity="0.78"/><path d="M557.5,494.7C558,496.5 560.2,502 560.2,505.6C560.2,509.2 558,514.6 557.5,516.4" fill="none" stroke="#66dd66" stroke-width="3.6" stroke-linecap="round" stroke-linejoin="round" opacity="0.78"/><path d="M557.5,494.7C558,496.5 560.2,502 560.2,505.6C560.2,509.2 558,514.6 557.5,516.4" fill="none" stroke="#c0f5c0" stroke-width="1.2" stroke-linecap="round" stroke-linejoin="round" opacity="0.55" transform="translate(-0.6,-0.6)"/><path d="M523.5,412.2C524,411.9 524.9,410.9 526.4,410.5C527.9,410 530.3,409.6 532.8,409.6C535.3,409.5 538.4,409.7 541.4,410.1C544.3,410.6 547.7,411.4 550.3,412.4C553,413.4 555.6,414.7 557.4,416C559.2,417.3 560.4,418.8 561,420.1C561.7,421.3 561.9,422.4 561.5,423.7C561.2,424.9 560.4,426.3 558.9,427.6C557.4,428.9 555.1,430.4 552.6,431.5C550.1,432.6 547,433.6 544.1,434.2C541.2,434.8 537.9,435.2 535.2,435.3C532.5,435.4 529.7,435.1 527.9,434.8C526.2,434.5 525.2,433.5 524.7,433.6C524.1,433.8 524.4,435.5 524.7,435.8C525,436 525.1,435.4 526.4,435.2C527.7,434.9 530.3,434.3 532.8,434.3C535.3,434.2 538.4,434.4 541.4,434.8C544.3,435.3 547.7,436.1 550.3,437.1C553,438.1 555.6,439.4 557.4,440.7C559.1,442 560.4,443.6 561,444.9C561.7,446.1 561.9,447.1 561.5,448.4C561.2,449.6 560.4,451 558.9,452.3C557.4,453.6 555.1,455.1 552.6,456.2C550.1,457.3 547,458.4 544.1,459C541.2,459.6 537.9,459.9 535.2,460C532.5,460.1 529.7,459.8 527.9,459.5C526.2,459.2 525.2,458.1 524.6,458.3C524.1,458.5 524.4,460.3 524.7,460.6C525,460.8 525.1,460.1 526.4,459.9C527.8,459.6 530.3,459 532.8,459C535.3,458.9 538.4,459.1 541.4,459.5C544.3,460 547.7,460.8 550.3,461.8C553,462.8 555.6,464.1 557.4,465.4C559.1,466.7 560.4,468.3 561,469.6C561.7,470.8 561.9,471.8 561.5,473.1C561.2,474.3 560.4,475.7 558.9,477C557.4,478.3 555.1,479.8 552.6,480.9C550.1,482 547,483.1 544.1,483.7C541.2,484.3 537.9,484.6 535.2,484.7C532.5,484.8 529.7,484.5 527.9,484.2C526.2,483.9 525.2,482.8 524.6,483C524.1,483.2 524.3,485.1 524.7,485.3C525.2,485.5 526.8,484.4 527.2,484.2L523.8,478.4C523,478.9 519.6,479.9 519.1,481.5C518.5,483.2 519.3,486.9 520.6,488.4C521.8,489.9 524.2,490.3 526.7,490.8C529.1,491.3 532.3,491.6 535.4,491.5C538.5,491.4 542.2,491 545.5,490.3C548.9,489.6 552.4,488.5 555.4,487.1C558.4,485.7 561.4,484 563.5,482C565.6,479.9 567.5,477.3 568.1,474.7C568.7,472.2 568.3,469.1 567.2,466.6C566,464.2 563.9,461.9 561.4,460C559,458.1 555.8,456.6 552.7,455.4C549.5,454.2 545.8,453.4 542.4,452.9C539.1,452.3 535.6,452.1 532.6,452.2C529.6,452.3 526.8,452.6 524.6,453.3C522.3,454.1 519.7,455.1 519.1,456.8C518.4,458.6 519.3,462.2 520.6,463.7C521.8,465.2 524.2,465.6 526.7,466.1C529.1,466.6 532.3,466.9 535.4,466.8C538.5,466.7 542.2,466.3 545.5,465.6C548.9,464.9 552.4,463.8 555.4,462.4C558.4,461 561.4,459.3 563.5,457.3C565.6,455.2 567.5,452.6 568.1,450C568.7,447.5 568.3,444.4 567.2,441.9C566,439.5 563.9,437.2 561.4,435.3C559,433.4 555.8,431.9 552.7,430.7C549.5,429.5 545.8,428.7 542.4,428.2C539.1,427.6 535.6,427.4 532.6,427.5C529.6,427.6 526.9,427.9 524.6,428.6C522.3,429.4 519.7,430.3 519.1,432C518.4,433.8 519.3,437.4 520.5,439C521.8,440.5 524.2,440.9 526.7,441.4C529.2,441.9 532.3,442.2 535.4,442.1C538.6,442 542.2,441.5 545.5,440.8C548.9,440.1 552.4,439.1 555.4,437.7C558.4,436.3 561.4,434.6 563.5,432.6C565.6,430.5 567.5,427.9 568.1,425.3C568.7,422.8 568.3,419.6 567.2,417.1C566,414.7 563.8,412.4 561.4,410.6C559,408.7 555.8,407.2 552.7,406C549.5,404.8 545.8,404 542.4,403.5C539.1,402.9 535.6,402.7 532.6,402.8C529.6,402.9 526.7,403.4 524.6,403.9C522.5,404.5 521,405.9 520.3,406.2Z" fill="#66dd66" stroke="#3da846" stroke-width="0.9" stroke-linejoin="round" opacity="0.78"/><path d="M470.7,384.9 L478.8,386.3 L481.0,383.6" fill="none" stroke="#2f6e3e" stroke-width="4.8" stroke-linecap="round" stroke-linejoin="round"/><path d="M470.7,384.9 L478.8,386.3 L481.0,383.6" fill="none" stroke="#86cc96" stroke-width="1.8" stroke-linecap="round" stroke-linejoin="round"/><path d="M497.8,375.4 L506.5,370.0" fill="none" stroke="#2f6e3e" stroke-width="4.8" stroke-linecap="round" stroke-linejoin="round"/><path d="M497.8,375.4 L506.5,370.0" fill="none" stroke="#86cc96" stroke-width="1.8" stroke-linecap="round" stroke-linejoin="round"/><path d="M531.7,389.8 L537.4,393.9 L535.2,400.6 L528.2,400.6 L526.0,393.9 L531.7,389.8" fill="none" stroke="#2f6e3e" stroke-width="4.8" stroke-linecap="round" stroke-linejoin="round"/><path d="M531.7,389.8 L537.4,393.9 L535.2,400.6 L528.2,400.6 L526.0,393.9 L531.7,389.8" fill="none" stroke="#86cc96" stroke-width="1.8" stroke-linecap="round" stroke-linejoin="round"/><path d="M538.5,402.5 L546.6,410.7 L554.7,412.0 L560.7,410.7" fill="none" stroke="#2f6e3e" stroke-width="4.8" stroke-linecap="round" stroke-linejoin="round"/><path d="M538.5,402.5 L546.6,410.7 L554.7,412.0 L560.7,410.7" fill="none" stroke="#86cc96" stroke-width="1.8" stroke-linecap="round" stroke-linejoin="round"/><path d="M553.4,408.0 L557.5,417.5" fill="none" stroke="#2f6e3e" stroke-width="4.8" stroke-linecap="round" stroke-linejoin="round"/><path d="M553.4,408.0 L557.5,417.5" fill="none" stroke="#86cc96" stroke-width="1.8" stroke-linecap="round" stroke-linejoin="round"/><path d="M561.5,427.8 L567.2,431.9 L565.0,438.6 L558.0,438.6 L555.9,431.9 L561.5,427.8" fill="none" stroke="#2f6e3e" stroke-width="4.8" stroke-linecap="round" stroke-linejoin="round"/><path d="M561.5,427.8 L567.2,431.9 L565.0,438.6 L558.0,438.6 L555.9,431.9 L561.5,427.8" fill="none" stroke="#86cc96" stroke-width="1.8" stroke-linecap="round" stroke-linejoin="round"/><path d="M533.1,424.2 L538.5,432.4 L543.9,436.4" fill="none" stroke="#2f6e3e" stroke-width="4.8" stroke-linecap="round" stroke-linejoin="round"/><path d="M533.1,424.2 L538.5,432.4 L543.9,436.4" fill="none" stroke="#86cc96" stroke-width="1.8" stroke-linecap="round" stroke-linejoin="round"/><path d="M557.5,471.7 L568.3,470.3 L577.8,470.3 L587.3,473.1 L587.3,483.9 L584.6,489.3" fill="none" stroke="#2f6e3e" stroke-width="4.8" stroke-linecap="round" stroke-linejoin="round"/><path d="M557.5,471.7 L568.3,470.3 L577.8,470.3 L587.3,473.1 L587.3,483.9 L584.6,489.3" fill="none" stroke="#86cc96" stroke-width="1.8" stroke-linecap="round" stroke-linejoin="round"/><path d="M579.2,489.3 L587.8,490.7" fill="none" stroke="#2f6e3e" stroke-width="4.8" stroke-linecap="round" stroke-linejoin="round"/><path d="M579.2,489.3 L587.8,490.7" fill="none" stroke="#86cc96" stroke-width="1.8" stroke-linecap="round" stroke-linejoin="round"/><path d="M560.2,483.9 L558.8,492.0 L557.5,500.2 L557.5,508.3 L552.0,516.4 L549.3,521.9 L543.9,527.3 L538.5,532.7 L534.4,535.4" fill="none" stroke="#2f6e3e" stroke-width="4.8" stroke-linecap="round" stroke-linejoin="round"/><path d="M560.2,483.9 L558.8,492.0 L557.5,500.2 L557.5,508.3 L552.0,516.4 L549.3,521.9 L543.9,527.3 L538.5,532.7 L534.4,535.4" fill="none" stroke="#86cc96" stroke-width="1.8" stroke-linecap="round" stroke-linejoin="round"/><path d="M533.1,530.0 L538.5,538.1" fill="none" stroke="#2f6e3e" stroke-width="4.8" stroke-linecap="round" stroke-linejoin="round"/><path d="M533.1,530.0 L538.5,538.1" fill="none" stroke="#86cc96" stroke-width="1.8" stroke-linecap="round" stroke-linejoin="round"/><path d="M495.0,502.5 L488.5,506.4 L481.8,502.8 L481.6,495.2 L488.1,491.2 L494.8,494.9 L495.0,502.5" fill="none" stroke="#2f6e3e" stroke-width="4.8" stroke-linecap="round" stroke-linejoin="round"/><path d="M495.0,502.5 L488.5,506.4 L481.8,502.8 L481.6,495.2 L488.1,491.2 L494.8,494.9 L495.0,502.5" fill="none" stroke="#86cc96" stroke-width="1.8" stroke-linecap="round" stroke-linejoin="round"/><path d="M481.0,485.3 L484.2,490.7" fill="none" stroke="#2f6e3e" stroke-width="4.8" stroke-linecap="round" stroke-linejoin="round"/><path d="M481.0,485.3 L484.2,490.7" fill="none" stroke="#86cc96" stroke-width="1.8" stroke-linecap="round" stroke-linejoin="round"/><path d="M495.6,505.6 L503.2,511.6" fill="none" stroke="#2f6e3e" stroke-width="4.8" stroke-linecap="round" stroke-linejoin="round"/><path d="M495.6,505.6 L503.2,511.6" fill="none" stroke="#86cc96" stroke-width="1.8" stroke-linecap="round" stroke-linejoin="round"/><path d="M491.0,452.7 L497.8,451.4 L502.1,448.6" fill="none" stroke="#2f6e3e" stroke-width="4.8" stroke-linecap="round" stroke-linejoin="round"/><path d="M491.0,452.7 L497.8,451.4 L502.1,448.6" fill="none" stroke="#86cc96" stroke-width="1.8" stroke-linecap="round" stroke-linejoin="round"/><path d="M495.1,448.1 L496.7,459.5" fill="none" stroke="#2f6e3e" stroke-width="4.8" stroke-linecap="round" stroke-linejoin="round"/><path d="M495.1,448.1 L496.7,459.5" fill="none" stroke="#86cc96" stroke-width="1.8" stroke-linecap="round" stroke-linejoin="round"/><path d="M454.4,497.5 L461.2,500.2 L465.3,505.6 L465.3,513.7" fill="none" stroke="#2f6e3e" stroke-width="4.8" stroke-linecap="round" stroke-linejoin="round"/><path d="M454.4,497.5 L461.2,500.2 L465.3,505.6 L465.3,513.7" fill="none" stroke="#86cc96" stroke-width="1.8" stroke-linecap="round" stroke-linejoin="round"/><path d="M457.1,502.9 L458.2,511.6" fill="none" stroke="#2f6e3e" stroke-width="4.8" stroke-linecap="round" stroke-linejoin="round"/><path d="M457.1,502.9 L458.2,511.6" fill="none" stroke="#86cc96" stroke-width="1.8" stroke-linecap="round" stroke-linejoin="round"/><path d="M430.0,429.7 L438.1,428.3 L446.3,429.7 L450.6,432.4" fill="none" stroke="#2f6e3e" stroke-width="4.8" stroke-linecap="round" stroke-linejoin="round"/><path d="M430.0,429.7 L438.1,428.3 L446.3,429.7 L450.6,432.4" fill="none" stroke="#86cc96" stroke-width="1.8" stroke-linecap="round" stroke-linejoin="round"/><path d="M445.1,435.1 L441.5,439.1 L436.2,438.1 L434.4,432.9 L438.0,428.9 L443.4,429.9 L445.1,435.1" fill="none" stroke="#2f6e3e" stroke-width="4.8" stroke-linecap="round" stroke-linejoin="round"/><path d="M445.1,435.1 L441.5,439.1 L436.2,438.1 L434.4,432.9 L438.0,428.9 L443.4,429.9 L445.1,435.1" fill="none" stroke="#86cc96" stroke-width="1.8" stroke-linecap="round" stroke-linejoin="round"/><path d="M430.0,467.6 L438.1,470.3 L446.3,473.1 L454.4,471.7 L459.8,473.1 L468.0,470.3 L473.9,473.1" fill="none" stroke="#2f6e3e" stroke-width="4.8" stroke-linecap="round" stroke-linejoin="round"/><path d="M430.0,467.6 L438.1,470.3 L446.3,473.1 L454.4,471.7 L459.8,473.1 L468.0,470.3 L473.9,473.1" fill="none" stroke="#86cc96" stroke-width="1.8" stroke-linecap="round" stroke-linejoin="round"/><path d="M454.4,467.6 L457.1,478.5 L455.8,486.6 L449.5,489.3" fill="none" stroke="#2f6e3e" stroke-width="4.8" stroke-linecap="round" stroke-linejoin="round"/><path d="M454.4,467.6 L457.1,478.5 L455.8,486.6 L449.5,489.3" fill="none" stroke="#86cc96" stroke-width="1.8" stroke-linecap="round" stroke-linejoin="round"/><path d="M424.6,440.5 L430.0,445.9 L432.7,451.4 L430.0,456.8" fill="none" stroke="#2f6e3e" stroke-width="4.8" stroke-linecap="round" stroke-linejoin="round"/><path d="M424.6,440.5 L430.0,445.9 L432.7,451.4 L430.0,456.8" fill="none" stroke="#86cc96" stroke-width="1.8" stroke-linecap="round" stroke-linejoin="round"/><path d="M402.9,410.7 L413.7,413.4 L424.6,413.4 L430.0,408.0" fill="none" stroke="#2f6e3e" stroke-width="4.8" stroke-linecap="round" stroke-linejoin="round"/><path d="M402.9,410.7 L413.7,413.4 L424.6,413.4 L430.0,408.0" fill="none" stroke="#86cc96" stroke-width="1.8" stroke-linecap="round" stroke-linejoin="round"/><path d="M408.3,394.4 L413.7,402.5 L419.2,410.7" fill="none" stroke="#2f6e3e" stroke-width="4.8" stroke-linecap="round" stroke-linejoin="round"/><path d="M408.3,394.4 L413.7,402.5 L419.2,410.7" fill="none" stroke="#86cc96" stroke-width="1.8" stroke-linecap="round" stroke-linejoin="round"/><path d="M423.2,368.2 L433.1,366.5 L446.4,369.8 L456.3,376.4 L463.0,389.7 L464.6,398.0" fill="none" stroke="#2f6e3e" stroke-width="4.8" stroke-linecap="round" stroke-linejoin="round"/><path d="M423.2,368.2 L433.1,366.5 L446.4,369.8 L456.3,376.4 L463.0,389.7 L464.6,398.0" fill="none" stroke="#86cc96" stroke-width="1.8" stroke-linecap="round" stroke-linejoin="round"/><path d="M459.0,366.5 L460.3,376.4" fill="none" stroke="#2f6e3e" stroke-width="4.8" stroke-linecap="round" stroke-linejoin="round"/><path d="M459.0,366.5 L460.3,376.4" fill="none" stroke="#86cc96" stroke-width="1.8" stroke-linecap="round" stroke-linejoin="round"/><path d="M471.2,358.2 L479.5,354.9 L487.8,346.6 L496.1,345.0" fill="none" stroke="#2f6e3e" stroke-width="4.8" stroke-linecap="round" stroke-linejoin="round"/><path d="M471.2,358.2 L479.5,354.9 L487.8,346.6 L496.1,345.0" fill="none" stroke="#86cc96" stroke-width="1.8" stroke-linecap="round" stroke-linejoin="round"/><path d="M476.2,349.9 L486.8,353.3 L496.8,355.2 L504.7,365.2 L504.0,371.8 L499.4,373.1" fill="none" stroke="#2f6e3e" stroke-width="4.8" stroke-linecap="round" stroke-linejoin="round"/><path d="M476.2,349.9 L486.8,353.3 L496.8,355.2 L504.7,365.2 L504.0,371.8 L499.4,373.1" fill="none" stroke="#86cc96" stroke-width="1.8" stroke-linecap="round" stroke-linejoin="round"/><path d="M484.5,351.6 L486.8,343.3" fill="none" stroke="#2f6e3e" stroke-width="4.8" stroke-linecap="round" stroke-linejoin="round"/><path d="M484.5,351.6 L486.8,343.3" fill="none" stroke="#86cc96" stroke-width="1.8" stroke-linecap="round" stroke-linejoin="round"/><path d="M475.5,360.5 L473.6,353.3" fill="none" stroke="#2f6e3e" stroke-width="4.8" stroke-linecap="round" stroke-linejoin="round"/><path d="M475.5,360.5 L473.6,353.3" fill="none" stroke="#86cc96" stroke-width="1.8" stroke-linecap="round" stroke-linejoin="round"/><path d="M419.9,386.4 L426.5,389.7 L433.1,393.0 L436.4,401.3 L443.1,399.6" fill="none" stroke="#2f6e3e" stroke-width="4.8" stroke-linecap="round" stroke-linejoin="round"/><path d="M419.9,386.4 L426.5,389.7 L433.1,393.0 L436.4,401.3 L443.1,399.6" fill="none" stroke="#86cc96" stroke-width="1.8" stroke-linecap="round" stroke-linejoin="round"/><path d="M413.3,409.6 L419.9,416.2 L423.2,426.1 L433.1,432.8 L443.1,429.5 L449.7,429.5" fill="none" stroke="#2f6e3e" stroke-width="4.8" stroke-linecap="round" stroke-linejoin="round"/><path d="M413.3,409.6 L419.9,416.2 L423.2,426.1 L433.1,432.8 L443.1,429.5 L449.7,429.5" fill="none" stroke="#86cc96" stroke-width="1.8" stroke-linecap="round" stroke-linejoin="round"/><path d="M446.1,438.0 L441.2,442.6 L434.9,440.6 L433.4,434.1 L438.3,429.6 L444.6,431.6 L446.1,438.0" fill="none" stroke="#2f6e3e" stroke-width="4.8" stroke-linecap="round" stroke-linejoin="round"/><path d="M446.1,438.0 L441.2,442.6 L434.9,440.6 L433.4,434.1 L438.3,429.6 L444.6,431.6 L446.1,438.0" fill="none" stroke="#86cc96" stroke-width="1.8" stroke-linecap="round" stroke-linejoin="round"/><path d="M413.3,439.4 L419.9,446.0 L429.8,446.0 L436.4,439.4" fill="none" stroke="#2f6e3e" stroke-width="4.8" stroke-linecap="round" stroke-linejoin="round"/><path d="M413.3,439.4 L419.9,446.0 L429.8,446.0 L436.4,439.4" fill="none" stroke="#86cc96" stroke-width="1.8" stroke-linecap="round" stroke-linejoin="round"/><path d="M433.1,465.9 L439.8,472.5 L446.4,472.5 L453.0,467.6" fill="none" stroke="#2f6e3e" stroke-width="4.8" stroke-linecap="round" stroke-linejoin="round"/><path d="M433.1,465.9 L439.8,472.5 L446.4,472.5 L453.0,467.6" fill="none" stroke="#86cc96" stroke-width="1.8" stroke-linecap="round" stroke-linejoin="round"/><path d="M428.2,469.9 L436.4,462.6" fill="none" stroke="#2f6e3e" stroke-width="4.8" stroke-linecap="round" stroke-linejoin="round"/><path d="M428.2,469.9 L436.4,462.6" fill="none" stroke="#86cc96" stroke-width="1.8" stroke-linecap="round" stroke-linejoin="round"/><g font-size="23.5" fill="#000" stroke="#000" stroke-width="0.3" style="font-family:'Liberation Sans',Arial,sans-serif"><text x="425.7" y="352.2">K6</text><text x="506.8" y="333.6">R8</text><text x="513.5" y="379.3">S10</text><text x="585.0" y="391.1">K16</text><text x="349.9" y="421.1">K32</text><text x="360.9" y="461.2">M29</text><text x="367.3" y="514.0">K34</text><text x="442.6" y="541.4">V1</text><text x="477.1" y="556.8">Y36</text><text x="594.0" y="479.5">K18</text><text x="546.2" y="556.5">K23</text></g></g>
<g><defs><path id="cg7" d="M701,316C699,316 694,314 693,312C691,310 690,307 689,305C689,302 691,300 692,298C694,296 697,295 699,295C702,294 705,295 708,297C711,299 713,301 715,305C716,308 717,312 716,315C716,319 714,323 712,326C710,329 707,331 704,333C701,334 697,334 694,334C691,333 688,332 686,330C684,328 683,325 683,322C683,320 684,317 685,316C687,314 690,312 693,312C695,312 699,313 701,315C704,316 706,319 708,322C709,325 710,329 710,333C709,337 708,341 705,343C703,346 700,349 697,350C694,352 689,351 687,352M690,359C688,358 683,357 681,355C679,353 677,350 677,348C677,345 678,342 679,340C681,338 684,337 687,336C690,336 694,337 696,339C699,340 702,343 704,347C705,350 706,355 706,359C706,363 704,368 702,371C700,374 697,378 693,379C690,381 686,382 682,382C679,381 676,380 673,378C671,376 670,373 670,370C669,368 670,365 672,363C674,361 677,359 680,359C682,359 686,359 689,361C692,363 695,366 696,369C698,373 699,378 699,382C698,386 697,390 695,394C693,397 689,400 686,402C682,404 678,404 675,404C672,404 668,402 666,400C664,399 662,395 662,393C662,390 663,387 665,385C666,384 669,382 672,382C675,381 679,382 682,384C684,386 687,389 689,392C691,395 692,400 691,404C691,408 690,413 687,416C685,420 682,423 678,425C675,426 669,426 668,427M700,535C698,535 694,538 692,538C689,538 686,537 684,535C682,533 680,530 680,528C679,525 679,522 681,520C682,517 684,515 687,514C690,513 694,513 697,514C700,514 704,516 706,519C709,522 711,525 712,529C714,532 714,537 713,540C712,543 710,546 708,548C706,550 703,551 700,552C698,552 695,550 693,549C690,547 689,544 688,542C688,539 688,536 689,533C690,531 693,529 696,528C698,527 702,526 705,527C708,528 712,530 715,533C717,535 720,539 721,543C722,546 722,550 722,554C721,557 718,561 717,562M775,333C774,332 769,330 767,327C766,325 765,322 765,320C765,317 767,315 769,313C771,312 774,311 777,312C779,312 783,314 785,316C787,318 790,322 790,325C791,329 791,333 790,337C789,341 787,345 784,347C781,350 777,352 774,353C770,354 766,353 763,352C760,351 757,349 755,347C754,345 753,341 753,339C754,337 755,334 757,333C759,331 762,331 765,331C768,332 771,333 773,335C776,338 778,341 779,345C780,348 780,353 778,356C777,360 775,364 772,367C770,369 766,371 762,372C759,373 753,372 751,372M809,369C808,368 806,363 806,361C806,358 808,355 809,354C811,352 814,351 816,351C818,351 821,352 823,354C825,355 827,358 827,361C828,364 827,368 826,371C825,374 822,377 819,379C817,381 813,383 809,384C806,384 802,384 798,382C795,381 792,379 791,376C789,374 788,371 788,368C788,366 790,363 791,361C793,360 796,359 798,359C800,359 803,360 805,361C807,363 809,366 809,369C810,372 809,375 808,378C807,381 804,385 801,387C799,389 795,391 791,391C788,392 784,391 780,390C777,389 774,386 773,384C771,382 770,378 770,376C770,373 772,371 773,369C775,367 778,366 780,366C782,366 785,367 787,369C789,371 791,373 791,376C792,379 791,383 790,386C789,389 786,392 783,394C781,396 777,398 773,399C770,399 765,399 762,397C759,396 756,393 755,392M785,486C784,488 782,492 780,494C778,496 775,497 772,496C770,496 767,495 765,493C763,491 762,488 762,485C762,483 763,479 765,477C767,474 770,472 773,471C777,469 781,469 785,470C788,470 792,472 795,475C798,477 800,481 801,484C802,487 802,491 802,494C801,497 799,500 797,502C794,504 791,505 789,505C786,504 783,503 782,501C780,499 779,496 779,493C779,491 780,487 782,485C784,482 787,480 790,479C793,477 798,477 801,478C805,478 809,480 812,483C814,485 817,489 818,492C819,495 818,501 818,502M769,569C768,569 765,572 762,573C760,573 758,573 756,572C755,571 753,569 753,567C753,566 754,563 755,561C756,560 759,558 762,557C764,556 768,556 771,557C774,557 777,559 780,561C782,563 784,567 785,570C786,573 786,577 785,580C785,583 783,586 781,588C779,590 777,591 775,592C772,592 770,592 768,591C767,590 765,588 765,586C765,585 766,582 767,580C769,579 771,577 774,576C776,575 780,575 783,576C786,576 789,578 792,580C794,582 796,586 797,589C798,592 798,596 798,599C797,602 794,605 793,607M829,400C827,399 821,398 819,397C816,395 814,392 814,390C813,387 814,384 815,382C817,380 820,378 823,378C826,377 830,378 833,379C837,381 840,383 842,387C845,390 846,394 847,398C847,402 846,407 844,410C842,413 839,417 835,419C832,421 828,422 824,422C821,422 817,420 814,419C812,417 810,414 809,412C808,409 809,406 811,404C812,402 815,400 818,400C821,399 825,400 829,401C832,403 835,405 838,409C840,412 841,416 842,420C842,424 841,428 839,432C837,435 834,439 831,441C827,443 823,444 819,444C816,444 812,442 809,441C807,439 805,436 804,433C804,431 804,428 806,426C807,424 810,422 813,422C816,421 821,422 824,423C827,424 831,427 833,430C835,434 837,438 837,442C837,446 836,450 834,454C833,457 829,461 826,463C823,464 816,465 815,465M818,571C818,573 818,577 817,578C817,580 815,582 813,583C812,583 809,583 808,582C806,581 805,579 804,577C804,575 804,572 805,570C806,568 808,565 810,563C812,562 815,560 818,560C821,559 825,560 828,561C831,562 834,564 835,566C837,568 839,571 839,573C840,576 839,578 838,580C837,582 836,584 834,584C832,585 830,585 829,584C827,583 826,581 825,579C825,577 825,574 826,572C827,570 829,567 831,565C833,564 836,562 839,562C842,561 846,561 849,562C852,563 854,565 856,568C858,570 859,574 860,575M879,496C878,495 874,493 872,490C871,488 870,485 870,482C871,480 872,478 874,476C876,475 880,474 882,475C885,475 889,477 891,479C893,482 895,485 896,489C897,492 897,496 896,500C894,503 892,507 889,509C886,512 882,513 879,514C876,515 871,514 868,513C865,512 863,509 861,507C860,504 859,501 859,499C860,496 862,494 864,493C866,491 869,491 872,491C874,492 878,493 880,496C882,498 884,501 885,505C886,508 886,513 885,516C883,520 881,523 878,526C876,528 872,530 868,530C865,531 861,530 858,529C855,528 852,525 850,523C849,521 848,517 849,515C849,513 851,510 853,509C855,507 858,507 861,507C863,508 867,509 869,512C871,514 873,518 874,521C875,525 875,529 874,532C873,536 870,539 867,542C865,544 861,546 857,546C854,547 848,545 847,545M924,334C923,334 918,337 916,336C914,336 911,335 909,333C908,332 907,329 906,327C906,324 907,322 909,320C911,318 914,316 916,316C919,315 923,316 926,317C929,319 932,321 934,324C936,327 938,331 939,335C939,339 939,343 938,346C937,349 934,352 932,354C930,355 927,356 924,356C922,356 919,355 917,353C916,351 915,349 915,346C915,344 916,341 917,339C919,338 922,336 925,335C927,335 931,336 934,337C937,338 940,341 942,344C945,347 946,351 947,355C947,358 947,362 946,365C945,369 941,372 940,373M926,508C926,507 924,503 924,501C924,499 925,497 927,496C928,495 930,494 932,494C934,494 936,495 937,496C939,498 940,500 940,503C940,505 940,508 938,511C937,513 934,516 932,518C929,519 926,521 923,521C919,522 916,521 913,520C911,519 908,517 907,515C905,513 904,511 904,509C904,507 906,505 907,503C908,502 910,501 912,501C914,501 916,502 918,504C919,505 920,508 920,510C920,513 920,516 918,518C917,521 915,523 912,525C909,527 906,528 903,529C900,529 896,529 893,528C891,527 888,524 887,523M915,549C915,550 916,554 915,556C914,558 912,559 910,560C909,561 906,561 904,560C903,559 901,557 900,555C900,553 899,550 900,548C901,546 903,543 905,541C907,539 910,538 914,537C917,536 920,537 924,537C927,538 930,540 932,542C934,544 935,547 936,550C937,552 936,555 935,557C934,559 932,560 931,561C929,562 927,562 925,561C923,560 921,558 921,556C920,554 920,551 921,549C921,547 923,544 925,542C928,540 931,538 934,538C937,537 941,537 944,538C947,539 950,541 952,543C954,545 956,549 956,550M925,581C924,582 922,586 920,587C918,589 915,589 913,589C911,589 908,587 907,586C906,584 905,581 905,579C906,576 907,573 909,571C911,569 914,567 917,567C921,566 925,566 928,567C931,568 935,570 937,572C940,575 941,578 942,582C943,585 943,588 942,591C941,594 939,596 937,598C935,599 932,600 930,600C928,599 926,598 924,596C923,594 922,591 923,589C923,587 924,584 926,582C928,580 932,578 935,577C938,576 942,576 945,577C948,578 952,580 954,583C957,585 959,589 960,592C960,595 959,600 959,602M965,459C965,457 964,453 965,451C965,449 967,447 969,446C971,445 974,444 976,445C978,446 980,447 981,449C982,451 983,454 983,457C982,460 980,463 978,465C976,468 973,470 969,471C966,472 962,473 958,472C955,472 951,470 948,468C946,466 943,463 942,461C941,458 941,455 942,453C943,451 945,449 947,448C949,447 951,446 953,447C955,448 958,449 959,451C960,453 960,457 960,459C959,462 958,465 956,468C953,470 950,472 947,473C943,474 939,475 935,474C932,474 928,472 925,470C923,468 921,464 920,463"/></defs><use href="#cg7" fill="none" stroke="#e4e4e4" stroke-width="3.0" stroke-linecap="round"/><use href="#cg7" fill="none" stroke="#f4f4f4" stroke-width="1.2" stroke-linecap="round"/><defs><path id="cg8" d="M693,484C692,484 688,486 686,485C684,485 682,484 681,483C680,481 680,479 680,478C680,476 681,474 683,473C685,472 687,471 689,471C692,471 695,472 697,473C699,475 702,477 703,480C704,482 705,486 705,489C705,492 705,495 703,498C702,500 700,502 698,503C696,505 693,505 692,505C690,505 688,503 687,502C685,501 685,499 685,497C685,495 687,493 688,492C690,491 692,490 695,490C697,490 700,491 702,493C704,494 707,497 708,499C710,502 710,505 711,508C711,511 710,515 709,517C707,519 704,522 703,523M701,582C700,583 696,586 694,587C691,588 688,587 686,586C685,585 683,583 683,580C682,578 683,575 685,573C686,571 689,569 692,568C694,567 698,567 702,568C705,568 709,570 711,572C714,575 717,578 718,582C719,585 719,589 719,593C718,596 716,600 714,602C712,604 709,606 707,606C704,607 701,606 699,605C698,604 696,602 696,600C695,598 696,595 698,593C699,591 702,589 705,588C707,587 711,586 715,587C718,588 722,589 724,592C727,594 730,598 731,601C732,605 732,609 732,612C731,615 728,620 727,621M722,369C721,370 719,373 717,374C715,375 713,375 711,374C710,373 708,371 708,370C707,368 707,366 708,364C709,362 711,360 713,359C715,358 718,358 721,358C724,358 727,359 730,361C732,363 735,366 736,368C738,371 739,375 739,377C739,380 738,383 736,385C735,387 733,389 731,390C729,390 727,390 725,390C724,389 722,387 722,386C721,384 721,382 722,380C723,378 725,376 727,375C729,374 733,373 735,374C738,374 741,375 744,377C747,379 749,381 750,384C752,387 753,390 753,393C753,396 751,400 751,401M720,426C720,428 719,433 718,435C716,438 713,439 711,440C709,441 706,440 704,439C702,437 700,434 700,432C699,429 700,425 701,422C702,419 705,416 708,414C711,412 715,410 719,410C722,410 726,411 730,412C733,414 736,417 738,420C740,423 741,427 741,430C741,434 740,437 738,440C737,442 734,444 732,444C730,445 727,444 725,443C723,441 721,439 721,436C720,433 721,429 722,426C723,424 726,420 729,418C732,416 736,415 739,414C743,414 747,415 751,417C754,418 757,421 759,424C761,427 761,433 762,435M722,438C722,439 720,442 718,443C716,444 714,445 712,445C710,444 708,443 707,441C706,440 705,437 705,435C706,433 707,431 708,429C710,428 713,426 715,426C718,425 722,425 724,426C727,427 730,429 732,431C734,434 736,437 737,439C737,442 737,445 737,447C736,449 734,451 732,452C731,454 728,454 726,454C724,453 722,452 721,450C720,449 719,446 720,444C720,442 721,440 723,438C724,437 727,435 730,435C732,434 736,435 739,435C741,436 745,438 747,440C749,443 750,446 751,448C752,451 752,454 751,456C750,458 748,460 747,462C745,463 742,463 741,463C739,462 737,461 736,459C734,458 734,455 734,453C734,451 735,449 737,447C739,446 741,444 744,444C747,443 750,444 753,445C756,445 759,447 761,450C763,452 765,455 765,457C766,460 765,464 765,465M751,486C750,485 746,483 745,481C744,480 744,477 744,475C744,473 746,471 747,470C749,469 751,468 753,469C755,469 758,470 760,472C761,474 762,477 763,480C763,483 763,486 762,489C761,492 758,496 756,498C754,500 751,502 748,503C745,504 742,503 739,503C737,502 735,500 734,499C733,497 732,494 733,492C733,490 734,488 736,487C738,486 740,486 742,486C744,486 747,487 748,489C750,491 751,494 752,497C752,500 752,504 750,507C749,510 747,513 745,515C742,517 739,519 736,520C734,521 730,521 728,520C726,519 724,517 723,516C721,514 721,511 721,509C722,508 723,505 725,504C726,503 729,503 731,503C733,503 735,505 737,506C739,508 740,511 740,514C741,517 740,521 739,524C738,527 736,530 734,532C731,534 728,536 725,537C722,538 718,537 717,537M742,534C741,534 738,537 736,537C734,537 732,537 731,536C729,535 728,533 727,531C727,529 728,527 729,525C730,524 732,522 734,521C736,520 739,520 742,521C744,522 748,523 750,525C752,527 754,530 755,533C756,536 756,539 756,542C755,545 754,548 752,549C751,551 748,552 746,553C744,553 742,552 741,551C739,550 738,548 738,546C737,545 738,542 739,541C740,539 742,537 744,537C746,536 749,536 752,536C755,537 758,539 760,541C762,543 764,546 765,549C766,551 766,555 766,558C765,560 763,564 762,565M735,566C734,565 729,565 727,563C725,562 723,560 722,558C722,556 722,553 724,551C725,550 727,548 730,548C732,547 736,548 739,549C741,550 744,553 746,555C748,558 749,562 750,565C750,568 749,572 748,575C746,578 743,581 741,583C738,585 734,586 731,586C728,586 725,585 723,583C721,582 719,580 718,578C718,576 718,573 720,571C721,570 723,568 726,568C728,567 732,568 734,569C737,570 740,573 742,575C744,578 745,582 746,585C746,588 745,592 744,595C742,598 739,601 736,603C734,605 730,606 727,606C724,606 721,605 719,603C716,602 715,600 714,598C714,596 714,593 715,591C717,590 719,588 722,588C724,587 728,588 730,589C733,590 736,593 738,595C740,598 741,602 742,605C742,608 741,612 739,615C738,618 735,621 732,623C730,625 724,625 723,626M808,416C808,414 807,409 807,406C808,403 811,401 813,399C815,398 818,398 821,398C823,399 826,401 828,404C829,406 830,410 830,413C829,417 828,421 825,424C823,427 819,430 815,431C812,432 807,433 803,432C799,432 794,430 791,427C789,425 786,421 785,418C784,415 784,411 785,408C786,406 788,403 790,402C792,400 796,400 798,401C801,402 803,404 805,406C806,409 807,413 807,416C807,419 805,423 803,426C800,429 796,432 793,433C789,435 784,435 780,435C776,434 772,432 769,430C766,428 763,424 762,421C761,418 761,414 762,411C763,408 765,405 768,404C770,403 773,403 776,403C778,404 781,406 782,409C784,411 785,415 784,418C784,422 782,426 780,429C777,432 774,434 770,436C766,437 761,438 757,437C753,437 749,435 746,432C743,430 741,425 740,423M791,540C791,538 790,533 790,530C791,527 792,524 794,523C796,522 799,521 802,522C804,522 807,524 808,527C810,529 811,533 811,536C811,540 810,544 808,547C806,550 803,553 800,555C796,557 792,558 788,557C784,557 780,555 777,553C774,551 772,547 770,544C769,541 769,537 769,534C770,531 771,529 773,527C775,526 778,525 781,526C783,526 786,528 787,531C789,533 790,537 790,540C790,544 789,548 787,551C785,554 782,557 779,559C775,561 771,562 767,561C763,561 759,559 756,557C753,555 750,550 749,548M820,323C819,324 819,329 818,331C817,333 815,335 813,336C811,337 808,337 806,336C804,335 802,333 801,330C800,328 800,325 800,322C801,319 803,316 805,314C807,311 811,310 814,309C817,308 821,308 824,309C827,310 830,313 832,315C834,317 835,321 836,324C836,327 835,330 834,332C833,334 831,336 829,337C827,338 824,338 822,337C820,336 818,334 817,331C816,329 816,325 816,323C817,320 819,317 821,315C823,312 827,310 830,310C833,309 837,309 840,310C843,311 846,314 848,316C850,318 851,323 852,325M837,459C835,459 830,460 827,459C824,458 821,455 820,453C819,450 818,447 819,444C819,441 822,438 824,436C827,435 830,434 834,434C837,434 841,435 844,437C847,440 850,443 852,447C853,450 854,455 853,459C853,463 851,467 848,470C846,473 842,475 839,476C836,477 832,477 829,476C826,475 823,472 822,470C821,467 820,464 821,461C822,458 824,455 826,453C829,452 832,451 836,451C839,451 843,452 846,454C849,457 852,460 854,464C855,467 856,472 855,476C855,480 853,484 850,487C848,490 843,492 841,493M821,530C820,531 818,537 816,539C814,541 810,542 808,542C805,542 802,540 801,538C799,536 798,533 798,530C799,527 800,523 802,520C805,517 808,514 812,513C816,512 820,512 824,512C828,513 833,515 836,518C839,521 841,525 842,529C843,532 843,537 842,541C841,544 839,547 837,549C834,551 831,553 828,552C826,552 823,551 821,549C820,547 819,543 819,540C819,537 821,533 823,531C825,528 829,525 833,524C836,523 841,522 845,523C849,524 853,526 856,529C859,532 862,536 863,539C864,543 863,549 863,551M875,366C873,365 869,364 867,363C865,361 864,358 864,356C864,354 865,351 866,349C868,347 870,346 872,345C875,345 878,346 880,347C883,348 885,351 886,354C888,357 889,361 888,365C888,368 887,372 885,375C883,379 880,381 878,383C875,385 871,386 868,386C866,385 863,384 861,382C859,381 858,378 858,376C858,374 859,371 860,369C861,367 864,366 866,365C869,365 872,365 874,367C877,368 879,371 880,374C882,377 883,381 882,384C882,388 881,392 879,395C877,398 874,401 871,403C869,405 865,405 862,405C860,405 857,404 855,402C853,401 852,398 852,396C852,393 853,391 854,389C855,387 858,385 860,385C863,385 866,385 868,387C870,388 873,391 874,394C876,397 876,401 876,404C876,408 875,412 873,415C871,418 868,421 865,423C863,424 858,425 856,425M852,449C851,450 848,455 846,456C844,458 840,458 838,458C835,457 832,456 831,454C829,452 828,448 828,446C828,443 829,439 832,437C834,435 837,433 841,432C844,431 848,431 852,432C856,433 860,435 863,438C865,441 867,445 868,448C869,451 869,456 868,458C867,461 865,464 862,466C860,467 857,468 854,468C852,467 849,465 847,463C846,461 844,458 845,455C845,453 846,449 848,447C850,444 854,442 857,441C861,441 865,441 869,442C872,443 876,445 879,448C882,450 884,454 885,458C886,461 886,465 885,468C884,471 881,474 879,475C877,477 873,478 871,477C868,477 865,475 864,473C862,471 861,468 861,465C861,462 863,459 865,457C867,454 870,452 874,451C877,450 882,450 885,451C889,452 893,455 896,457C898,460 901,464 902,467C903,471 901,476 901,478M913,355C912,356 910,361 908,363C905,364 902,365 900,365C898,365 896,364 894,362C893,360 892,357 892,354C893,352 894,348 896,346C898,344 901,341 904,340C908,339 912,339 915,340C918,340 922,342 924,345C927,347 929,351 930,354C930,357 930,361 929,364C928,367 926,370 924,372C922,373 919,374 917,374C914,374 912,373 911,371C909,369 908,366 909,363C909,361 910,357 912,355C914,353 918,350 921,349C924,348 928,348 932,349C935,349 938,351 941,354C943,356 945,360 946,363C947,366 946,370 946,373C945,376 942,379 940,381C938,383 935,383 933,383C931,383 928,382 927,380C926,378 925,375 925,372C926,370 927,366 929,364C931,362 934,359 937,358C940,357 945,357 948,358C951,358 955,360 957,363C960,365 962,369 962,372C963,375 962,381 962,382M931,415C931,414 931,408 932,406C933,403 936,401 938,400C941,399 944,399 946,400C949,401 951,403 952,406C954,408 954,412 954,415C953,418 952,422 949,424C947,427 943,429 940,430C936,431 932,431 928,430C924,430 921,427 918,425C916,422 914,419 913,415C913,412 913,409 915,406C916,404 918,401 921,400C923,399 926,399 929,400C931,401 934,403 935,406C936,408 937,412 936,415C936,418 934,422 932,425C929,427 926,430 922,431C918,432 914,432 910,431C907,430 903,428 901,425C898,423 896,419 896,416C895,413 896,409 897,406C898,404 901,401 903,400C905,399 909,399 911,400C913,401 916,404 917,406C919,409 919,412 919,415C918,419 916,422 914,425C912,427 908,430 904,431C901,432 896,432 893,431C889,430 886,428 883,425C881,423 879,418 878,416M933,453C933,452 929,449 928,447C927,445 927,443 928,441C928,440 930,438 932,438C933,438 936,438 937,439C939,440 941,442 942,444C944,447 944,450 944,453C944,456 943,459 941,462C940,465 937,467 934,469C931,470 928,471 925,471C922,471 919,470 916,469C914,467 912,465 911,463C910,461 910,459 911,457C911,456 913,454 914,454C916,453 918,454 920,455C922,456 924,458 925,460C927,463 927,466 927,469C927,472 926,475 924,478C922,481 920,483 917,485C914,486 911,487 908,487C905,487 901,486 899,485C897,483 895,481 894,479C893,477 893,475 894,473C894,472 896,470 897,470C899,469 901,470 903,471C905,472 907,474 908,476C909,478 910,482 910,485C910,488 909,491 907,494C905,497 903,499 900,501C897,502 894,503 891,503C888,503 884,501 882,500M954,315C953,315 948,314 946,312C944,310 943,307 942,305C942,303 943,300 945,298C946,297 949,295 952,295C954,295 958,295 960,297C963,299 966,301 967,304C969,307 970,311 970,315C969,319 968,323 966,326C964,328 961,331 958,333C955,334 951,335 948,334C945,334 942,333 940,331C938,329 936,326 936,324C936,322 937,319 938,317C940,316 943,314 945,314C948,314 951,314 954,316C957,318 959,320 961,323C963,326 964,330 963,334C963,338 962,342 960,345C958,347 955,350 952,352C949,353 943,353 942,353M969,367C968,369 966,373 964,374C962,375 959,376 957,375C955,375 953,374 952,372C951,370 950,367 951,365C951,363 952,360 954,358C956,356 959,354 962,353C965,352 969,352 972,353C975,354 978,356 980,359C982,361 984,364 984,367C985,370 984,374 983,376C982,379 980,382 978,383C976,384 973,385 971,385C969,384 967,383 966,381C964,379 964,376 964,374C965,372 966,369 968,367C970,365 973,363 976,362C979,361 983,361 986,362C989,363 992,365 994,368C996,370 997,373 998,376C998,379 997,384 997,386M958,419C957,418 954,414 953,411C952,409 953,405 954,403C955,401 958,399 960,398C962,397 966,397 968,398C971,399 974,401 975,404C977,407 978,410 977,414C977,417 976,421 974,424C972,427 968,430 965,432C962,434 957,435 954,434C951,434 947,433 944,431C942,429 940,426 940,423C939,421 939,417 941,415C942,413 944,410 947,410C949,409 952,409 955,410C957,411 960,413 962,416C963,418 964,422 964,425C964,429 962,433 960,436C958,439 955,442 952,444C948,445 944,446 941,446C937,446 933,443 931,442M940,491C939,493 939,498 937,501C935,503 932,505 930,506C927,507 924,506 921,505C919,503 917,500 916,497C915,494 916,490 917,487C918,484 920,480 923,478C926,475 930,474 934,473C938,473 942,474 946,475C949,477 953,480 955,483C957,486 958,491 958,494C958,497 956,501 955,504C953,506 950,508 947,509C945,510 942,509 939,508C937,506 935,503 934,500C933,497 933,493 935,490C936,487 938,483 941,481C944,479 948,477 952,476C956,476 960,477 964,478C967,480 971,483 972,486C974,489 976,494 976,497C976,501 974,504 973,507C971,509 968,511 965,512C963,513 959,512 957,511C955,509 953,506 952,503C951,500 951,496 953,493C954,490 956,486 959,484C962,482 966,480 970,479C974,479 978,480 982,481C985,483 988,486 990,489C992,492 993,498 994,500M958,525C957,525 953,529 951,529C949,530 946,530 944,529C943,528 941,526 941,524C940,522 941,519 942,517C943,515 945,513 948,512C950,511 954,510 957,511C960,511 964,512 966,514C969,516 971,519 973,522C974,525 974,529 974,532C974,535 972,538 970,541C969,543 966,545 964,545C961,546 959,546 957,545C955,544 954,542 953,540C953,538 953,535 954,533C956,531 958,529 960,528C963,527 967,526 970,526C973,527 976,528 979,530C981,532 984,535 985,538C986,541 987,545 986,548C986,551 984,554 983,557C981,559 978,560 976,561C974,562 971,562 969,561C968,560 966,558 966,556C965,554 966,551 967,549C968,547 970,545 973,544C975,543 979,542 982,542C985,543 989,544 991,546C994,548 996,551 998,554C999,557 999,561 999,564C998,567 996,571 995,572M978,589C978,587 977,583 978,582C979,580 981,578 982,577C984,576 987,576 988,576C990,577 992,578 993,580C994,582 995,585 995,587C994,589 993,592 991,594C989,597 986,599 983,600C980,601 976,601 973,601C970,600 966,599 964,597C962,595 960,593 959,590C958,588 958,585 959,583C959,581 961,579 963,579C965,578 967,577 969,578C971,579 973,580 974,582C975,584 976,586 975,589C975,591 974,594 972,596C970,598 966,600 963,601C960,602 957,603 954,602C950,602 947,600 945,599C942,597 940,594 940,592C939,590 939,587 940,585C940,583 942,581 944,580C945,579 948,579 950,580C952,580 954,582 955,584C956,585 956,588 956,591C956,593 954,596 952,598C950,600 947,602 944,603C941,604 937,604 934,604C931,604 928,602 925,601C923,599 921,595 920,594"/></defs><use href="#cg8" fill="none" stroke="#d8d8d8" stroke-width="3.0" stroke-linecap="round"/><use href="#cg8" fill="none" stroke="#efefef" stroke-width="1.2" stroke-linecap="round"/><defs><path id="cg9" d="M689,421C689,420 687,416 688,414C688,412 689,410 691,409C692,408 694,407 696,407C698,407 700,408 702,410C703,411 704,414 704,416C704,419 704,422 703,424C701,426 699,429 696,430C694,432 691,433 688,433C685,433 681,432 679,431C677,430 674,428 673,426C672,424 671,421 672,419C672,417 673,415 675,414C676,413 678,412 680,412C682,412 684,413 686,415C687,416 688,419 688,421C689,423 688,427 687,429C685,431 683,434 681,435C678,437 675,438 672,438C669,438 666,437 663,436C661,435 658,432 657,431M704,454C703,453 701,449 701,447C700,444 701,442 703,440C704,438 707,436 709,436C711,436 714,436 716,437C718,439 720,441 721,444C722,446 722,450 721,453C720,456 718,460 715,462C713,465 709,467 706,468C702,469 698,470 695,469C692,468 688,467 686,465C684,463 683,460 683,457C683,455 684,452 685,450C687,449 689,447 691,447C694,446 697,447 699,448C701,449 703,452 704,454C704,457 704,461 703,464C702,467 700,470 698,473C695,475 691,478 688,479C685,480 680,480 677,480C674,479 671,477 669,475C667,473 666,470 665,468C665,466 666,463 668,461C669,459 672,458 674,457C676,457 679,457 681,459C683,460 685,462 686,465C687,468 687,471 686,474C685,478 683,481 680,484C678,486 674,488 670,490C667,491 663,491 660,490C656,490 653,487 651,486M733,328C731,328 727,328 725,328C723,327 721,325 720,324C719,322 719,319 720,318C720,316 722,314 724,313C726,312 729,311 732,312C734,313 737,314 740,316C742,318 744,321 745,325C746,328 746,332 745,335C745,338 743,341 741,344C739,346 736,348 734,349C731,350 728,350 726,349C724,348 722,346 721,345C720,343 720,340 721,339C722,337 723,335 725,334C727,333 730,333 733,333C735,334 739,335 741,337C743,339 745,343 746,346C747,349 747,353 747,356C746,359 744,362 742,365C740,367 736,369 735,370M774,451C773,450 768,449 767,447C765,445 764,442 764,440C764,438 765,435 767,433C768,431 771,430 773,430C776,430 779,430 781,432C784,434 786,436 787,440C788,443 789,447 788,450C788,454 786,458 784,461C782,464 779,467 776,468C773,470 769,470 766,470C764,469 761,468 759,466C757,464 756,461 756,459C756,457 758,454 759,452C761,451 763,449 766,449C768,449 771,449 774,451C776,453 778,456 779,459C781,462 781,466 781,470C780,473 778,477 776,480C774,483 771,486 768,487C765,489 760,489 759,489M824,375C824,374 821,371 820,368C819,365 820,362 821,360C823,358 825,356 827,355C830,354 833,354 835,355C838,357 840,359 842,361C843,364 844,368 844,371C843,374 842,378 840,381C838,384 834,386 831,388C828,389 824,390 821,390C817,389 814,388 812,386C809,384 808,381 807,378C807,376 807,373 808,371C810,368 812,366 815,366C817,365 820,365 823,366C825,367 828,369 829,372C830,374 831,378 831,381C830,385 829,388 827,391C825,394 822,397 818,398C815,400 811,400 808,400C804,400 800,397 799,396M821,490C820,491 818,495 816,496C814,498 811,499 809,498C807,498 804,497 803,495C802,493 801,490 801,488C801,485 802,482 804,480C806,478 810,476 813,475C816,475 820,475 824,476C827,477 831,479 833,481C836,484 838,487 839,490C840,494 840,497 840,500C839,503 837,506 835,507C833,508 830,509 828,509C826,509 823,507 822,505C820,504 819,501 820,498C820,496 821,493 823,491C825,489 828,487 832,486C835,485 839,485 842,486C846,487 850,489 852,492C855,494 857,498 858,501C859,504 858,509 858,511M882,322C881,320 878,316 877,314C877,311 877,308 879,306C880,304 882,303 884,302C887,302 890,302 892,304C894,305 897,308 898,310C899,313 900,317 899,320C899,324 897,328 895,330C893,333 889,335 886,336C883,337 879,338 876,337C872,336 869,334 867,332C865,330 863,327 862,324C862,322 862,319 864,317C865,315 867,313 869,313C872,312 875,313 877,314C879,315 882,318 883,321C884,324 885,328 884,331C884,334 882,338 880,341C878,343 874,346 871,347C868,348 864,348 861,347C857,347 853,343 852,343M871,410C870,411 866,416 864,417C861,418 857,418 855,418C852,417 850,415 849,412C847,410 847,406 848,403C849,400 851,397 853,395C856,393 860,391 864,390C868,390 872,390 876,392C879,394 883,397 885,400C887,403 888,407 888,411C889,415 887,419 886,422C884,425 881,428 878,429C875,430 872,431 869,430C867,429 864,427 863,424C862,422 861,418 862,416C863,413 865,409 868,407C871,405 875,403 878,403C882,402 886,403 890,404C893,406 897,409 899,412C901,415 903,420 903,423C903,427 902,431 900,434C898,437 895,440 893,441C890,443 886,443 884,442C881,441 879,439 877,437C876,434 876,431 877,428C877,425 880,421 882,419C885,417 889,415 893,415C896,414 901,415 904,416C908,418 911,421 914,424C916,427 917,432 917,436C917,439 915,445 914,447M867,538C866,537 862,534 861,531C860,529 860,525 861,522C862,520 864,517 866,516C869,515 872,514 875,515C878,515 881,517 883,519C885,522 886,526 887,529C887,532 886,537 885,540C883,544 880,547 877,549C874,551 870,553 867,553C863,553 859,552 857,551C854,549 851,547 850,544C849,541 849,538 850,535C851,533 853,530 856,529C858,528 861,527 864,528C867,528 870,530 872,532C874,535 876,538 876,542C876,545 876,550 874,553C873,556 870,560 867,562C864,564 859,566 856,566C852,566 848,564 846,564M860,589C860,590 860,594 859,596C858,598 856,600 854,600C852,601 850,600 849,599C847,598 846,596 845,594C845,592 845,589 847,586C848,584 850,581 853,579C855,578 859,576 862,576C865,576 869,576 872,578C875,579 878,581 880,584C882,586 884,590 884,592C884,595 884,598 883,600C882,602 879,604 878,604C876,605 874,604 872,603C871,602 869,600 869,598C869,596 869,593 870,590C871,588 874,585 876,583C879,581 882,580 886,580C889,580 893,580 896,582C899,583 902,585 904,588C906,590 907,594 908,596C908,599 907,602 906,604C905,606 903,607 901,608C900,609 897,608 896,607C894,606 893,604 893,602C892,599 892,596 894,594C895,592 897,589 900,587C902,585 906,584 909,584C913,583 917,584 920,585C923,587 926,589 928,592C929,594 931,599 931,600"/></defs><use href="#cg9" fill="none" stroke="#cbcbcb" stroke-width="3.0" stroke-linecap="round"/><use href="#cg9" fill="none" stroke="#eaeaea" stroke-width="1.2" stroke-linecap="round"/><circle cx="686.0" cy="347.6" r="6.6" fill="url(#gy)" opacity="0.85"/><circle cx="726.5" cy="365.5" r="6.6" fill="url(#gy)" opacity="0.85"/><circle cx="738.0" cy="363.0" r="6.6" fill="url(#gy)" opacity="0.85"/><circle cx="812.5" cy="315.0" r="6.6" fill="url(#gy)" opacity="0.85"/><circle cx="857.2" cy="345.0" r="6.2" fill="url(#gc)" opacity="0.9"/><circle cx="836.5" cy="386.3" r="6.6" fill="url(#gy)" opacity="0.85"/><circle cx="734.5" cy="420.5" r="6.2" fill="url(#gc)" opacity="0.9"/><circle cx="758.5" cy="439.8" r="6.6" fill="url(#gy)" opacity="0.85"/><circle cx="932.3" cy="309.5" r="6.6" fill="url(#gy)" opacity="0.85"/><circle cx="898.5" cy="342.3" r="6.6" fill="url(#gy)" opacity="0.85"/><circle cx="916.7" cy="363.5" r="6.6" fill="url(#gy)" opacity="0.85"/><circle cx="957.8" cy="449.2" r="6.6" fill="url(#gy)" opacity="0.85"/><circle cx="898.5" cy="463.0" r="6.6" fill="url(#gy)" opacity="0.85"/><circle cx="937.3" cy="471.5" r="6.2" fill="url(#gc)" opacity="0.9"/><circle cx="685.8" cy="474.8" r="6.6" fill="url(#gy)" opacity="0.85"/><circle cx="735.0" cy="538.5" r="6.6" fill="url(#gy)" opacity="0.85"/><circle cx="742.9" cy="593.0" r="6.6" fill="url(#gy)" opacity="0.85"/><circle cx="847.0" cy="594.5" r="6.6" fill="url(#gy)" opacity="0.85"/><circle cx="955.9" cy="565.0" r="6.6" fill="url(#gy)" opacity="0.85"/><circle cx="922.5" cy="546.5" r="6.6" fill="url(#gy)" opacity="0.85"/><path d="M833.2,378.1 L838.6,383.6 L841.4,391.7 L835.9,397.1" fill="none" stroke="#5aa7a9" stroke-width="3.4" stroke-linecap="round" stroke-linejoin="round"/><path d="M833.2,378.1 L838.6,383.6 L841.4,391.7 L835.9,397.1" fill="none" stroke="#a8e0e0" stroke-width="1.2" stroke-linecap="round" stroke-linejoin="round"/><path d="M776.3,405.3 L784.4,416.1 L789.8,424.2 L798.0,426.9" fill="none" stroke="#5aa7a9" stroke-width="3.4" stroke-linecap="round" stroke-linejoin="round"/><path d="M776.3,405.3 L784.4,416.1 L789.8,424.2 L798.0,426.9" fill="none" stroke="#a8e0e0" stroke-width="1.2" stroke-linecap="round" stroke-linejoin="round"/><path d="M760.0,440.5 L765.4,443.2 L770.8,451.4" fill="none" stroke="#5aa7a9" stroke-width="3.4" stroke-linecap="round" stroke-linejoin="round"/><path d="M760.0,440.5 L765.4,443.2 L770.8,451.4" fill="none" stroke="#a8e0e0" stroke-width="1.2" stroke-linecap="round" stroke-linejoin="round"/><path d="M863.1,483.9 L868.5,489.3 L873.9,497.5 L876.6,505.6 L879.3,511.0" fill="none" stroke="#5aa7a9" stroke-width="3.4" stroke-linecap="round" stroke-linejoin="round"/><path d="M863.1,483.9 L868.5,489.3 L873.9,497.5 L876.6,505.6 L879.3,511.0" fill="none" stroke="#a8e0e0" stroke-width="1.2" stroke-linecap="round" stroke-linejoin="round"/><path d="M819.7,516.4 L827.8,511.0 L833.2,511.0" fill="none" stroke="#5aa7a9" stroke-width="3.4" stroke-linecap="round" stroke-linejoin="round"/><path d="M819.7,516.4 L827.8,511.0 L833.2,511.0" fill="none" stroke="#a8e0e0" stroke-width="1.2" stroke-linecap="round" stroke-linejoin="round"/><path d="M820.2,521.9 L818.6,532.7" fill="none" stroke="#5aa7a9" stroke-width="3.4" stroke-linecap="round" stroke-linejoin="round"/><path d="M820.2,521.9 L818.6,532.7" fill="none" stroke="#a8e0e0" stroke-width="1.2" stroke-linecap="round" stroke-linejoin="round"/><path d="M846.8,532.7 L852.2,527.3 L858.2,524.6" fill="none" stroke="#5aa7a9" stroke-width="3.4" stroke-linecap="round" stroke-linejoin="round"/><path d="M846.8,532.7 L852.2,527.3 L858.2,524.6" fill="none" stroke="#a8e0e0" stroke-width="1.2" stroke-linecap="round" stroke-linejoin="round"/><path d="M760.0,500.2 L768.1,502.9 L776.3,500.2" fill="none" stroke="#5aa7a9" stroke-width="3.4" stroke-linecap="round" stroke-linejoin="round"/><path d="M760.0,500.2 L768.1,502.9 L776.3,500.2" fill="none" stroke="#a8e0e0" stroke-width="1.2" stroke-linecap="round" stroke-linejoin="round"/><path d="M779.0,500.2 L784.4,502.9 L790.4,505.6" fill="none" stroke="#5aa7a9" stroke-width="3.4" stroke-linecap="round" stroke-linejoin="round"/><path d="M779.0,500.2 L784.4,502.9 L790.4,505.6" fill="none" stroke="#a8e0e0" stroke-width="1.2" stroke-linecap="round" stroke-linejoin="round"/><path d="M871.2,408.0 L867.8,412.6 L862.4,410.8 L862.4,405.1 L867.8,403.3 L871.2,408.0" fill="none" stroke="#5aa7a9" stroke-width="3.4" stroke-linecap="round" stroke-linejoin="round"/><path d="M871.2,408.0 L867.8,412.6 L862.4,410.8 L862.4,405.1 L867.8,403.3 L871.2,408.0" fill="none" stroke="#a8e0e0" stroke-width="1.2" stroke-linecap="round" stroke-linejoin="round"/><path d="M733.4,367.3 L747.3,364.3 L753.2,358.6 L761.1,360.5 L757.3,356.4" fill="none" stroke="#5aa7a9" stroke-width="3.4" stroke-linecap="round" stroke-linejoin="round"/><path d="M733.4,367.3 L747.3,364.3 L753.2,358.6 L761.1,360.5 L757.3,356.4" fill="none" stroke="#a8e0e0" stroke-width="1.2" stroke-linecap="round" stroke-linejoin="round"/><path d="M743.7,473.1 L751.9,478.5 L760.0,483.9 L768.1,486.6" fill="none" stroke="#5aa7a9" stroke-width="3.4" stroke-linecap="round" stroke-linejoin="round"/><path d="M743.7,473.1 L751.9,478.5 L760.0,483.9 L768.1,486.6" fill="none" stroke="#a8e0e0" stroke-width="1.2" stroke-linecap="round" stroke-linejoin="round"/><path d="M738.3,511.0 L746.4,516.4 L751.9,527.3 L746.4,538.1" fill="none" stroke="#5aa7a9" stroke-width="3.4" stroke-linecap="round" stroke-linejoin="round"/><path d="M738.3,511.0 L746.4,516.4 L751.9,527.3 L746.4,538.1" fill="none" stroke="#a8e0e0" stroke-width="1.2" stroke-linecap="round" stroke-linejoin="round"/><path d="M754.6,532.7 L762.7,538.1 L768.1,549.0" fill="none" stroke="#5aa7a9" stroke-width="3.4" stroke-linecap="round" stroke-linejoin="round"/><path d="M754.6,532.7 L762.7,538.1 L768.1,549.0" fill="none" stroke="#a8e0e0" stroke-width="1.2" stroke-linecap="round" stroke-linejoin="round"/><path d="M911.9,321.2 L917.3,329.3 L922.7,332.0 L928.1,323.9" fill="none" stroke="#5aa7a9" stroke-width="3.4" stroke-linecap="round" stroke-linejoin="round"/><path d="M911.9,321.2 L917.3,329.3 L922.7,332.0 L928.1,323.9" fill="none" stroke="#a8e0e0" stroke-width="1.2" stroke-linecap="round" stroke-linejoin="round"/><path d="M922.7,538.1 L930.8,543.6 L936.3,551.7 L944.4,549.0" fill="none" stroke="#5aa7a9" stroke-width="3.4" stroke-linecap="round" stroke-linejoin="round"/><path d="M922.7,538.1 L930.8,543.6 L936.3,551.7 L944.4,549.0" fill="none" stroke="#a8e0e0" stroke-width="1.2" stroke-linecap="round" stroke-linejoin="round"/><path d="M928.1,559.8 L939.0,565.3 L949.8,565.3" fill="none" stroke="#5aa7a9" stroke-width="3.4" stroke-linecap="round" stroke-linejoin="round"/><path d="M928.1,559.8 L939.0,565.3 L949.8,565.3" fill="none" stroke="#a8e0e0" stroke-width="1.2" stroke-linecap="round" stroke-linejoin="round"/><path d="M895.6,337.5 L901.0,345.6 L898.3,353.7" fill="none" stroke="#5aa7a9" stroke-width="3.4" stroke-linecap="round" stroke-linejoin="round"/><path d="M895.6,337.5 L901.0,345.6 L898.3,353.7" fill="none" stroke="#a8e0e0" stroke-width="1.2" stroke-linecap="round" stroke-linejoin="round"/><path d="M933.6,521.9 L939.0,527.3" fill="none" stroke="#5aa7a9" stroke-width="3.4" stroke-linecap="round" stroke-linejoin="round"/><path d="M933.6,521.9 L939.0,527.3" fill="none" stroke="#a8e0e0" stroke-width="1.2" stroke-linecap="round" stroke-linejoin="round"/><path d="M817.5,413.3C818.8,415.7 822.9,422.7 824.9,427.6C827,432.4 828.6,437.3 830.1,442.3C831.5,447.3 832.5,452.4 833.6,457.6C834.6,462.9 835.6,468.9 836.5,473.8C837.4,478.7 838,482.4 839,487.3C840,492.3 841.9,500.9 842.5,503.6L849.9,502.2C849.4,499.5 847.8,490.8 847,485.9C846.2,480.9 845.8,477.4 845.1,472.4C844.4,467.4 843.6,461.4 842.6,456C841.7,450.5 840.8,445.3 839.5,439.9C838.3,434.5 836.9,428.9 835.1,423.6C833.2,418.3 829.4,410.7 828.3,408.1Z" fill="#6262e6" stroke="#3a3ac0" stroke-width="0.9" stroke-linejoin="round" opacity="0.78"/><path d="M809.0,397.0 L812.7,411.7 L815.3,427.1 L813.9,445.5 L812.4,458.9 L809.4,458.6 L813.2,483.9 L825.0,460.4 L822.0,460.1 L823.7,446.3 L825.1,426.7 L822.3,409.7 L818.4,394.6Z" fill="#6262e6" stroke="#3a3ac0" stroke-width="0.9" stroke-linejoin="round" opacity="0.78"/><path d="M800.7,386.8C802.7,386.5 808.8,384.8 812.9,384.9C817,385 821.9,385.9 825.1,387.6C828.3,389.3 830.7,392.2 831.9,394.9C833.1,397.6 832.9,401.2 832.1,403.9C831.3,406.6 828.1,410 827.3,411.2" fill="none" stroke="#3a3ac0" stroke-width="5.2" stroke-linecap="round" stroke-linejoin="round" opacity="0.78"/><path d="M800.7,386.8C802.7,386.5 808.8,384.8 812.9,384.9C817,385 821.9,385.9 825.1,387.6C828.3,389.3 830.7,392.2 831.9,394.9C833.1,397.6 832.9,401.2 832.1,403.9C831.3,406.6 828.1,410 827.3,411.2" fill="none" stroke="#6262e6" stroke-width="3.6" stroke-linecap="round" stroke-linejoin="round" opacity="0.78"/><path d="M800.7,386.8C802.7,386.5 808.8,384.8 812.9,384.9C817,385 821.9,385.9 825.1,387.6C828.3,389.3 830.7,392.2 831.9,394.9C833.1,397.6 832.9,401.2 832.1,403.9C831.3,406.6 828.1,410 827.3,411.2" fill="none" stroke="#b0b0ff" stroke-width="1.2" stroke-linecap="round" stroke-linejoin="round" opacity="0.55" transform="translate(-0.6,-0.6)"/><path d="M833.2,421.5C834.6,421.9 838.2,424 841.4,424.2C844.6,424.4 848.6,423.8 852.2,422.9C855.8,422 859.9,420.8 863.1,418.8C866.3,416.9 868.5,413.4 871.2,411.2C873.9,409 876.9,407 879.3,405.8C881.6,404.6 884.3,404.5 885.3,404.2" fill="none" stroke="#3a3ac0" stroke-width="5.2" stroke-linecap="round" stroke-linejoin="round" opacity="0.78"/><path d="M833.2,421.5C834.6,421.9 838.2,424 841.4,424.2C844.6,424.4 848.6,423.8 852.2,422.9C855.8,422 859.9,420.8 863.1,418.8C866.3,416.9 868.5,413.4 871.2,411.2C873.9,409 876.9,407 879.3,405.8C881.6,404.6 884.3,404.5 885.3,404.2" fill="none" stroke="#6262e6" stroke-width="3.6" stroke-linecap="round" stroke-linejoin="round" opacity="0.78"/><path d="M833.2,421.5C834.6,421.9 838.2,424 841.4,424.2C844.6,424.4 848.6,423.8 852.2,422.9C855.8,422 859.9,420.8 863.1,418.8C866.3,416.9 868.5,413.4 871.2,411.2C873.9,409 876.9,407 879.3,405.8C881.6,404.6 884.3,404.5 885.3,404.2" fill="none" stroke="#b0b0ff" stroke-width="1.2" stroke-linecap="round" stroke-linejoin="round" opacity="0.55" transform="translate(-0.6,-0.6)"/><path d="M886.9,408C887,410.4 886.5,418 887.5,422.1C888.5,426.2 890.9,429.5 892.9,432.4C894.9,435.2 898,437.3 899.7,439.2C901.4,441.1 902.6,443 903.2,443.8" fill="none" stroke="#3a3ac0" stroke-width="5.2" stroke-linecap="round" stroke-linejoin="round" opacity="0.78"/><path d="M886.9,408C887,410.4 886.5,418 887.5,422.1C888.5,426.2 890.9,429.5 892.9,432.4C894.9,435.2 898,437.3 899.7,439.2C901.4,441.1 902.6,443 903.2,443.8" fill="none" stroke="#6262e6" stroke-width="3.6" stroke-linecap="round" stroke-linejoin="round" opacity="0.78"/><path d="M886.9,408C887,410.4 886.5,418 887.5,422.1C888.5,426.2 890.9,429.5 892.9,432.4C894.9,435.2 898,437.3 899.7,439.2C901.4,441.1 902.6,443 903.2,443.8" fill="none" stroke="#b0b0ff" stroke-width="1.2" stroke-linecap="round" stroke-linejoin="round" opacity="0.55" transform="translate(-0.6,-0.6)"/><path d="M825.1,449.2C823.3,449.1 817.8,448.6 814.2,448.6C810.6,448.6 806.8,448.6 803.4,449.2C800,449.8 796.4,450.3 793.9,451.9C791.4,453.5 789.5,455.9 788.2,458.9C786.9,461.9 786.5,466.5 786,469.8C785.5,473.1 785.6,477.1 785.5,478.5" fill="none" stroke="#3a3ac0" stroke-width="5.2" stroke-linecap="round" stroke-linejoin="round" opacity="0.78"/><path d="M825.1,449.2C823.3,449.1 817.8,448.6 814.2,448.6C810.6,448.6 806.8,448.6 803.4,449.2C800,449.8 796.4,450.3 793.9,451.9C791.4,453.5 789.5,455.9 788.2,458.9C786.9,461.9 786.5,466.5 786,469.8C785.5,473.1 785.6,477.1 785.5,478.5" fill="none" stroke="#6262e6" stroke-width="3.6" stroke-linecap="round" stroke-linejoin="round" opacity="0.78"/><path d="M825.1,449.2C823.3,449.1 817.8,448.6 814.2,448.6C810.6,448.6 806.8,448.6 803.4,449.2C800,449.8 796.4,450.3 793.9,451.9C791.4,453.5 789.5,455.9 788.2,458.9C786.9,461.9 786.5,466.5 786,469.8C785.5,473.1 785.6,477.1 785.5,478.5" fill="none" stroke="#b0b0ff" stroke-width="1.2" stroke-linecap="round" stroke-linejoin="round" opacity="0.55" transform="translate(-0.6,-0.6)"/><path d="M787.1,479C785.4,479.8 779.4,481.6 776.8,483.9C774.2,486.2 772.4,489 771.4,492.6C770.4,496.2 770.3,501.7 770.8,505.6C771.3,509.5 773.1,513.4 774.6,515.9C776.1,518.4 778.7,520 779.5,520.8" fill="none" stroke="#3a3ac0" stroke-width="5.2" stroke-linecap="round" stroke-linejoin="round" opacity="0.78"/><path d="M787.1,479C785.4,479.8 779.4,481.6 776.8,483.9C774.2,486.2 772.4,489 771.4,492.6C770.4,496.2 770.3,501.7 770.8,505.6C771.3,509.5 773.1,513.4 774.6,515.9C776.1,518.4 778.7,520 779.5,520.8" fill="none" stroke="#6262e6" stroke-width="3.6" stroke-linecap="round" stroke-linejoin="round" opacity="0.78"/><path d="M787.1,479C785.4,479.8 779.4,481.6 776.8,483.9C774.2,486.2 772.4,489 771.4,492.6C770.4,496.2 770.3,501.7 770.8,505.6C771.3,509.5 773.1,513.4 774.6,515.9C776.1,518.4 778.7,520 779.5,520.8" fill="none" stroke="#b0b0ff" stroke-width="1.2" stroke-linecap="round" stroke-linejoin="round" opacity="0.55" transform="translate(-0.6,-0.6)"/><path d="M813.2,483.4C812.6,485.8 810.7,492.8 809.4,497.5C808.1,502.2 806.6,507.5 805.6,511.6C804.6,515.7 804.2,518.5 803.4,521.9C802.6,525.3 801.2,530.5 800.7,532.2" fill="none" stroke="#3a3ac0" stroke-width="5.2" stroke-linecap="round" stroke-linejoin="round" opacity="0.78"/><path d="M813.2,483.4C812.6,485.8 810.7,492.8 809.4,497.5C808.1,502.2 806.6,507.5 805.6,511.6C804.6,515.7 804.2,518.5 803.4,521.9C802.6,525.3 801.2,530.5 800.7,532.2" fill="none" stroke="#6262e6" stroke-width="3.6" stroke-linecap="round" stroke-linejoin="round" opacity="0.78"/><path d="M813.2,483.4C812.6,485.8 810.7,492.8 809.4,497.5C808.1,502.2 806.6,507.5 805.6,511.6C804.6,515.7 804.2,518.5 803.4,521.9C802.6,525.3 801.2,530.5 800.7,532.2" fill="none" stroke="#b0b0ff" stroke-width="1.2" stroke-linecap="round" stroke-linejoin="round" opacity="0.55" transform="translate(-0.6,-0.6)"/><path d="M873.9,527.3C874.4,529.1 876.6,534.5 876.6,538.1C876.6,541.7 874.4,547.2 873.9,549" fill="none" stroke="#3a3ac0" stroke-width="5.2" stroke-linecap="round" stroke-linejoin="round" opacity="0.78"/><path d="M873.9,527.3C874.4,529.1 876.6,534.5 876.6,538.1C876.6,541.7 874.4,547.2 873.9,549" fill="none" stroke="#6262e6" stroke-width="3.6" stroke-linecap="round" stroke-linejoin="round" opacity="0.78"/><path d="M873.9,527.3C874.4,529.1 876.6,534.5 876.6,538.1C876.6,541.7 874.4,547.2 873.9,549" fill="none" stroke="#b0b0ff" stroke-width="1.2" stroke-linecap="round" stroke-linejoin="round" opacity="0.55" transform="translate(-0.6,-0.6)"/><path d="M903.6,437.5C901.8,437.3 896.3,436 892.3,436.5C888.3,437.1 883.4,438.5 879.6,440.9C875.8,443.2 871.9,446.7 869.5,450.5C867.1,454.3 865.1,459.3 865.2,463.8C865.3,468.3 867.2,474.3 869.9,477.7C872.6,481.1 877.9,482.3 881.5,484C885.2,485.7 889.7,486.9 891.8,487.8C893.9,488.8 894.3,489.1 894.2,489.7C894.1,490.3 891.9,491.1 891.4,491.4L898.8,497C899.5,495.6 903.8,491.7 903.4,488.9C903,486.1 899.6,482.2 896.6,480C893.6,477.8 888.5,477 885.3,475.6C882,474.2 878.7,473.7 876.9,471.7C875.1,469.8 874.3,466.5 874.4,463.8C874.5,461.1 875.6,458 877.3,455.5C878.9,453 881.7,450.4 884.4,448.7C887.1,447.1 890.4,446 893.5,445.7C896.5,445.3 901.2,446.5 902.8,446.7Z" fill="#6262e6" stroke="#3a3ac0" stroke-width="0.9" stroke-linejoin="round" opacity="0.78"/><path d="M888.1,475.2C885.7,474.9 878.6,473 873.7,473.3C868.8,473.6 862.9,474.8 858.7,477.1C854.5,479.4 850.8,483.2 848.6,487.1C846.5,491 845.6,496.1 846,500.6C846.4,505 848.2,510.4 850.8,513.8C853.4,517.3 858.9,519.5 861.6,521.5C864.4,523.5 866.3,524.5 867.4,526C868.4,527.6 867.9,530.1 868,530.9L877,529.1C876.7,527.7 876.7,523.4 875,521C873.4,518.5 870,516.2 867.2,514.1C864.3,512 860,510.5 858,508.2C856,505.8 855.4,502.6 855.2,499.8C855,497.1 855.4,493.9 856.8,491.5C858.1,489.1 860.2,486.8 863.1,485.3C866,483.8 870.2,482.7 874.1,482.5C878.1,482.4 884.7,484.1 886.9,484.4Z" fill="#6262e6" stroke="#3a3ac0" stroke-width="0.9" stroke-linejoin="round" opacity="0.78"/><path d="M870.8,518.5C868.3,517.8 861.1,514.6 856,514.1C850.9,513.5 844.6,513.9 840.2,515.3C835.8,516.7 832.3,519.3 829.6,522.4C827,525.6 824.2,530.2 824.2,534.3C824.3,538.4 826.5,543.9 829.8,547.3C833.2,550.7 839.4,554.1 844.5,554.9C849.6,555.7 856.7,554.7 860.3,551.9C864,549.2 865.6,542.6 866.2,538.5C866.9,534.4 864.4,529.1 864.1,527.3L856.1,528.9C856.5,530.4 858.3,534.9 858.2,537.7C858,540.4 857.5,543.9 855.5,545.5C853.4,547 849.2,547.5 845.9,546.9C842.6,546.2 837.8,543.6 835.6,541.5C833.3,539.4 832.3,536.6 832.4,534.3C832.4,532 834.1,529.6 835.8,527.8C837.5,525.9 839.4,524 842.6,523.1C845.8,522.2 850.7,521.6 855,522.1C859.3,522.7 866.2,525.6 868.4,526.3Z" fill="#6262e6" stroke="#3a3ac0" stroke-width="0.9" stroke-linejoin="round" opacity="0.78"/><path d="M784.4,372.7 L792.5,378.1 L798.0,383.6 L804.7,386.3 L812.1,386.8" fill="none" stroke="#34407e" stroke-width="4.8" stroke-linecap="round" stroke-linejoin="round"/><path d="M784.4,372.7 L792.5,378.1 L798.0,383.6 L804.7,386.3 L812.1,386.8" fill="none" stroke="#aebff0" stroke-width="1.9" stroke-linecap="round" stroke-linejoin="round"/><path d="M776.3,402.5 L781.7,408.0 L789.8,410.7 L798.0,408.0 L806.1,412.0 L814.8,413.4" fill="none" stroke="#34407e" stroke-width="4.8" stroke-linecap="round" stroke-linejoin="round"/><path d="M776.3,402.5 L781.7,408.0 L789.8,410.7 L798.0,408.0 L806.1,412.0 L814.8,413.4" fill="none" stroke="#aebff0" stroke-width="1.9" stroke-linecap="round" stroke-linejoin="round"/><path d="M787.1,416.1 L795.3,421.5 L800.7,430.2" fill="none" stroke="#34407e" stroke-width="4.8" stroke-linecap="round" stroke-linejoin="round"/><path d="M787.1,416.1 L795.3,421.5 L800.7,430.2" fill="none" stroke="#aebff0" stroke-width="1.9" stroke-linecap="round" stroke-linejoin="round"/><path d="M773.6,435.1 L780.3,435.1 L785.8,432.4" fill="none" stroke="#34407e" stroke-width="4.8" stroke-linecap="round" stroke-linejoin="round"/><path d="M773.6,435.1 L780.3,435.1 L785.8,432.4" fill="none" stroke="#aebff0" stroke-width="1.9" stroke-linecap="round" stroke-linejoin="round"/><path d="M780.3,429.7 L781.7,440.5 L789.8,443.2 L795.3,440.5 L803.4,445.9 L804.7,456.8 L808.8,464.9" fill="none" stroke="#34407e" stroke-width="4.8" stroke-linecap="round" stroke-linejoin="round"/><path d="M780.3,429.7 L781.7,440.5 L789.8,443.2 L795.3,440.5 L803.4,445.9 L804.7,456.8 L808.8,464.9" fill="none" stroke="#aebff0" stroke-width="1.9" stroke-linecap="round" stroke-linejoin="round"/><path d="M800.6,493.0 L794.1,496.9 L787.4,493.3 L787.2,485.7 L793.7,481.7 L800.4,485.4 L800.6,493.0" fill="none" stroke="#34407e" stroke-width="4.8" stroke-linecap="round" stroke-linejoin="round"/><path d="M800.6,493.0 L794.1,496.9 L787.4,493.3 L787.2,485.7 L793.7,481.7 L800.4,485.4 L800.6,493.0" fill="none" stroke="#aebff0" stroke-width="1.9" stroke-linecap="round" stroke-linejoin="round"/><path d="M787.1,470.3 L789.8,481.2" fill="none" stroke="#34407e" stroke-width="4.8" stroke-linecap="round" stroke-linejoin="round"/><path d="M787.1,470.3 L789.8,481.2" fill="none" stroke="#aebff0" stroke-width="1.9" stroke-linecap="round" stroke-linejoin="round"/><path d="M800.7,500.2 L806.1,511.6" fill="none" stroke="#34407e" stroke-width="4.8" stroke-linecap="round" stroke-linejoin="round"/><path d="M800.7,500.2 L806.1,511.6" fill="none" stroke="#aebff0" stroke-width="1.9" stroke-linecap="round" stroke-linejoin="round"/><path d="M770.8,516.4 L779.0,517.8 L787.1,520.5" fill="none" stroke="#34407e" stroke-width="4.8" stroke-linecap="round" stroke-linejoin="round"/><path d="M770.8,516.4 L779.0,517.8 L787.1,520.5" fill="none" stroke="#aebff0" stroke-width="1.9" stroke-linecap="round" stroke-linejoin="round"/><path d="M800.7,532.7 L807.1,537.4 L804.7,545.0 L796.7,545.0 L794.2,537.4 L800.7,532.7" fill="none" stroke="#34407e" stroke-width="4.8" stroke-linecap="round" stroke-linejoin="round"/><path d="M800.7,532.7 L807.1,537.4 L804.7,545.0 L796.7,545.0 L794.2,537.4 L800.7,532.7" fill="none" stroke="#aebff0" stroke-width="1.9" stroke-linecap="round" stroke-linejoin="round"/><path d="M879.3,372.7 L884.7,378.1 L887.5,386.3 L886.1,394.4 L887.5,399.8 L888.8,405.3" fill="none" stroke="#34407e" stroke-width="4.8" stroke-linecap="round" stroke-linejoin="round"/><path d="M879.3,372.7 L884.7,378.1 L887.5,386.3 L886.1,394.4 L887.5,399.8 L888.8,405.3" fill="none" stroke="#aebff0" stroke-width="1.9" stroke-linecap="round" stroke-linejoin="round"/><path d="M876.6,378.1 L892.9,375.4" fill="none" stroke="#34407e" stroke-width="4.8" stroke-linecap="round" stroke-linejoin="round"/><path d="M876.6,378.1 L892.9,375.4" fill="none" stroke="#aebff0" stroke-width="1.9" stroke-linecap="round" stroke-linejoin="round"/><path d="M892.9,405.3 L895.6,410.7 L890.2,416.1 L888.8,422.1" fill="none" stroke="#34407e" stroke-width="4.8" stroke-linecap="round" stroke-linejoin="round"/><path d="M892.9,405.3 L895.6,410.7 L890.2,416.1 L888.8,422.1" fill="none" stroke="#aebff0" stroke-width="1.9" stroke-linecap="round" stroke-linejoin="round"/><path d="M871.2,521.9 L879.3,519.2 L887.5,524.6 L895.6,525.9 L901.0,527.3 L906.4,532.7 L909.2,540.8" fill="none" stroke="#34407e" stroke-width="4.8" stroke-linecap="round" stroke-linejoin="round"/><path d="M871.2,521.9 L879.3,519.2 L887.5,524.6 L895.6,525.9 L901.0,527.3 L906.4,532.7 L909.2,540.8" fill="none" stroke="#aebff0" stroke-width="1.9" stroke-linecap="round" stroke-linejoin="round"/><path d="M901.0,538.1 L911.9,539.5" fill="none" stroke="#34407e" stroke-width="4.8" stroke-linecap="round" stroke-linejoin="round"/><path d="M901.0,538.1 L911.9,539.5" fill="none" stroke="#aebff0" stroke-width="1.9" stroke-linecap="round" stroke-linejoin="round"/><path d="M827.8,451.4 L831.1,455.4 L832.7,459.5" fill="none" stroke="#34407e" stroke-width="4.8" stroke-linecap="round" stroke-linejoin="round"/><path d="M827.8,451.4 L831.1,455.4 L832.7,459.5" fill="none" stroke="#aebff0" stroke-width="1.9" stroke-linecap="round" stroke-linejoin="round"/><path d="M846.8,508.3 L847.3,516.4" fill="none" stroke="#34407e" stroke-width="4.8" stroke-linecap="round" stroke-linejoin="round"/><path d="M846.8,508.3 L847.3,516.4" fill="none" stroke="#aebff0" stroke-width="1.9" stroke-linecap="round" stroke-linejoin="round"/><path d="M857.6,359.2 L865.8,361.9 L873.9,364.6 L879.3,372.7" fill="none" stroke="#34407e" stroke-width="4.8" stroke-linecap="round" stroke-linejoin="round"/><path d="M857.6,359.2 L865.8,361.9 L873.9,364.6 L879.3,372.7" fill="none" stroke="#aebff0" stroke-width="1.9" stroke-linecap="round" stroke-linejoin="round"/><path d="M868.5,353.7 L873.9,359.2 L879.3,356.4" fill="none" stroke="#34407e" stroke-width="4.8" stroke-linecap="round" stroke-linejoin="round"/><path d="M868.5,353.7 L873.9,359.2 L879.3,356.4" fill="none" stroke="#aebff0" stroke-width="1.9" stroke-linecap="round" stroke-linejoin="round"/><g font-size="23.5" fill="#000" stroke="#000" stroke-width="0.3" style="font-family:'Liberation Sans',Arial,sans-serif"><text x="858.8" y="332.5">K8</text><text x="797.2" y="369.9">N30</text><text x="904.3" y="410.8">S10</text><text x="723.4" y="411.6">M29</text><text x="705.0" y="448.8">K34</text><text x="733.4" y="476.6">Y36</text><text x="728.0" y="516.5">V1</text><text x="908.6" y="522.7">K18</text><text x="775.2" y="585.1">P37</text><text x="825.9" y="579.6">K23</text></g></g>
</svg>
</body></html>
